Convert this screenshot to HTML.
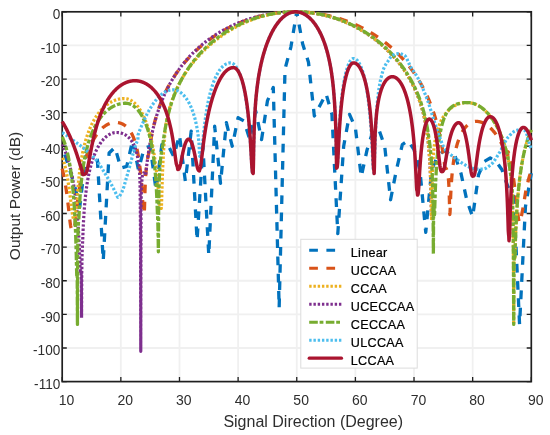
<!DOCTYPE html><html><head><meta charset="utf-8"><style>html,body{margin:0;padding:0;background:#fff;}svg{display:block;will-change:transform;}text{font-family:"Liberation Sans",sans-serif;fill:#2e2e2e;}</style></head><body>
<svg style="opacity:0.999" width="550" height="435" viewBox="0 0 550 435">
<rect x="0" y="0" width="550" height="435" fill="#fff"/>
<path d="M120.84,11.80V381.60M179.48,11.80V381.60M238.11,11.80V381.60M296.75,11.80V381.60M355.39,11.80V381.60M414.02,11.80V381.60M472.66,11.80V381.60M62.20,45.42H531.30M62.20,79.04H531.30M62.20,112.65H531.30M62.20,146.27H531.30M62.20,179.89H531.30M62.20,213.51H531.30M62.20,247.13H531.30M62.20,280.75H531.30M62.20,314.36H531.30M62.20,347.98H531.30" stroke="#f0f0f0" stroke-width="1.8" fill="none"/>
<path d="M62.20,381.60v-4.6M62.20,11.80v4.6M120.84,381.60v-4.6M120.84,11.80v4.6M179.48,381.60v-4.6M179.48,11.80v4.6M238.11,381.60v-4.6M238.11,11.80v4.6M296.75,381.60v-4.6M296.75,11.80v4.6M355.39,381.60v-4.6M355.39,11.80v4.6M414.02,381.60v-4.6M414.02,11.80v4.6M472.66,381.60v-4.6M472.66,11.80v4.6M531.30,381.60v-4.6M531.30,11.80v4.6M62.20,11.80h4.6M531.30,11.80h-4.6M62.20,45.42h4.6M531.30,45.42h-4.6M62.20,79.04h4.6M531.30,79.04h-4.6M62.20,112.65h4.6M531.30,112.65h-4.6M62.20,146.27h4.6M531.30,146.27h-4.6M62.20,179.89h4.6M531.30,179.89h-4.6M62.20,213.51h4.6M531.30,213.51h-4.6M62.20,247.13h4.6M531.30,247.13h-4.6M62.20,280.75h4.6M531.30,280.75h-4.6M62.20,314.36h4.6M531.30,314.36h-4.6M62.20,347.98h4.6M531.30,347.98h-4.6M62.20,381.60h4.6M531.30,381.60h-4.6" stroke="#1f1f1f" stroke-width="1.3" fill="none"/>
<rect x="62.20" y="11.80" width="469.10" height="369.80" stroke="#1f1f1f" stroke-width="1.7" fill="none"/>
<defs><clipPath id="pc"><rect x="62.20" y="8.80" width="469.10" height="372.80"/></clipPath></defs>
<g fill="none" stroke-linejoin="round">
<path d="M62.20,146.27 L68.06,164.76 L73.93,183.25 L79.79,206.79 L85.66,156.36 L91.52,153.00 L97.38,159.72 L103.25,260.57 L109.11,153.00 L114.97,147.28 L120.84,168.12 L126.70,166.44 L132.56,140.56 L138.43,169.81 L144.29,147.95 L150.16,146.27 L156.02,189.98 L161.88,144.59 L167.75,144.59 L173.61,156.36 L179.48,135.18 L185.34,181.24 L191.20,131.14 L197.07,240.40 L202.93,146.27 L208.79,255.20 L214.66,126.10 L220.52,183.25 L226.38,122.74 L232.25,146.27 L238.11,117.70 L243.98,121.06 L249.84,139.55 L255.70,110.97 L261.57,139.55 L267.43,100.89 L273.29,87.44 L279.16,307.64 L285.02,68.95 L290.89,47.10 L296.75,11.80 L302.61,43.74 L308.48,62.23 L314.34,116.02 L320.20,104.92 L326.07,93.83 L331.93,114.34 L337.80,233.68 L343.66,146.27 L349.52,114.34 L355.39,127.78 L361.25,176.87 L367.11,149.63 L372.98,131.14 L378.84,129.46 L384.71,146.27 L390.57,199.73 L396.43,169.81 L402.30,144.59 L408.16,140.56 L414.02,149.63 L419.89,169.81 L425.75,232.34 L431.62,169.81 L437.48,156.36 L443.34,151.32 L449.21,150.64 L455.07,156.02 L460.94,173.17 L466.80,200.06 L472.66,216.87 L478.53,174.85 L484.39,161.40 L490.25,158.04 L496.12,161.40 L501.98,169.81 L507.84,186.61 L513.71,196.70 L519.57,324.45 L525.44,206.79 L531.30,173.17" stroke="#0072BD" stroke-width="3.3" stroke-dasharray="8.7 8.5" stroke-dashoffset="8.68"/>
<path d="M62.20,168.54 L62.43,169.51 L62.67,170.51 L62.90,171.54 L63.14,172.60 L63.37,173.68 L63.61,174.80 L63.84,175.95 L64.08,177.14 L64.31,178.36 L64.55,179.62 L64.78,180.91 L65.01,182.25 L65.25,183.63 L65.48,185.05 L65.72,186.52 L65.95,188.03 L66.19,189.59 L66.42,191.21 L66.66,192.88 L66.89,194.60 L67.13,196.37 L67.36,198.21 L67.59,200.10 L67.83,202.04 L68.06,204.04 L68.30,206.09 L68.53,208.18 L68.77,210.31 L69.00,212.47 L69.24,214.62 L69.47,216.77 L69.71,218.86 L69.94,220.87 L70.17,222.76 L70.41,224.49 L70.64,226.01 L70.88,227.30 L71.11,228.34 L71.35,229.12 L71.58,229.68 L71.82,230.03 L72.05,230.03 L72.29,230.00 L72.52,230.09 L72.75,230.33 L72.99,229.68 L73.23,229.07 L73.46,228.77 L73.70,228.69 L73.93,228.72 L74.17,228.62 L74.40,227.62 L74.64,226.36 L74.87,224.86 L75.11,223.14 L75.34,221.25 L75.58,219.23 L75.81,217.13 L76.05,214.98 L76.28,212.82 L76.52,210.66 L76.75,208.53 L76.99,206.44 L77.22,204.39 L77.46,202.39 L77.69,200.44 L77.93,198.56 L78.16,196.72 L78.40,194.95 L78.63,193.23 L78.87,191.56 L79.10,189.94 L79.34,188.37 L79.58,186.85 L79.81,185.38 L80.05,183.95 L80.28,182.56 L80.52,181.21 L80.75,179.90 L80.99,178.62 L81.22,177.39 L81.46,176.18 L81.69,175.01 L81.93,173.86 L82.16,172.75 L82.40,171.66 L82.63,170.60 L82.87,169.57 L83.10,168.56 L83.34,167.58 L83.57,166.62 L83.81,165.68 L84.04,164.76 L84.28,163.87 L84.51,162.99 L84.75,162.13 L84.98,161.29 L85.22,160.47 L85.46,159.67 L85.69,158.88 L85.93,158.11 L86.16,157.36 L86.40,156.62 L86.63,155.89 L86.87,155.18 L87.10,154.48 L87.34,153.80 L87.57,153.13 L87.81,152.47 L88.04,151.83 L88.28,151.20 L88.51,150.57 L88.75,149.97 L88.98,149.37 L89.22,148.78 L89.45,148.20 L89.69,147.64 L89.92,147.08 L90.16,146.53 L90.39,146.00 L90.63,145.47 L90.86,144.95 L91.10,144.44 L91.34,143.94 L91.57,143.45 L91.81,142.97 L92.04,142.50 L92.28,142.03 L92.51,141.57 L92.75,141.12 L92.98,140.68 L93.22,140.24 L93.45,139.82 L93.69,139.40 L93.92,138.98 L94.16,138.58 L94.39,138.18 L94.63,137.79 L94.86,137.40 L95.10,137.02 L95.33,136.65 L95.57,136.28 L95.80,135.92 L96.04,135.57 L96.27,135.22 L96.51,134.88 L96.74,134.55 L96.98,134.22 L97.21,133.89 L97.45,133.57 L97.69,133.26 L97.92,132.95 L98.16,132.65 L98.39,132.36 L98.63,132.06 L98.86,131.78 L99.10,131.50 L99.33,131.22 L99.57,130.95 L99.80,130.69 L100.04,130.43 L100.27,130.17 L100.51,129.92 L100.74,129.67 L100.98,129.43 L101.21,129.20 L101.45,128.96 L101.68,128.74 L101.92,128.52 L102.15,128.30 L102.39,128.08 L102.62,127.87 L102.86,127.67 L103.09,127.47 L103.33,127.27 L103.57,127.08 L103.80,126.89 L104.04,126.71 L104.27,126.53 L104.51,126.36 L104.74,126.18 L104.98,126.02 L105.21,125.85 L105.45,125.70 L105.68,125.54 L105.92,125.39 L106.15,125.24 L106.39,125.10 L106.62,124.96 L106.86,124.83 L107.09,124.69 L107.33,124.57 L107.56,124.44 L107.80,124.32 L108.03,124.21 L108.27,124.10 L108.50,123.99 L108.74,123.88 L108.97,123.78 L109.21,123.68 L109.45,123.59 L109.68,123.50 L109.92,123.41 L110.15,123.33 L110.39,123.25 L110.62,123.17 L110.86,123.10 L111.09,123.03 L111.33,122.97 L111.56,122.91 L111.80,122.85 L112.03,122.80 L112.27,122.75 L112.50,122.70 L112.74,122.65 L112.97,122.61 L113.21,122.58 L113.44,122.54 L113.68,122.52 L113.91,122.49 L114.15,122.47 L114.38,122.45 L114.62,122.43 L114.85,122.42 L115.09,122.41 L115.32,122.41 L115.56,122.40 L115.80,122.41 L116.03,122.41 L116.27,122.42 L116.50,122.43 L116.74,122.45 L116.97,122.47 L117.21,122.49 L117.44,122.52 L117.68,122.55 L117.92,122.58 L118.15,122.62 L118.39,122.66 L118.62,122.70 L118.86,122.75 L119.09,122.80 L119.33,122.86 L119.56,122.92 L119.80,122.98 L120.03,123.05 L120.27,123.12 L120.51,123.20 L120.74,123.28 L120.98,123.36 L121.21,123.45 L121.45,123.54 L121.68,123.64 L121.92,123.74 L122.15,123.85 L122.39,123.96 L122.63,124.07 L122.86,124.19 L123.10,124.32 L123.33,124.45 L123.57,124.58 L123.80,124.72 L124.04,124.87 L124.27,125.02 L124.51,125.18 L124.75,125.34 L124.98,125.51 L125.22,125.68 L125.45,125.86 L125.69,126.05 L125.92,126.24 L126.16,126.44 L126.39,126.65 L126.63,126.86 L126.86,127.08 L127.10,127.31 L127.34,127.55 L127.57,127.79 L127.81,128.05 L128.04,128.31 L128.28,128.58 L128.51,128.86 L128.75,129.14 L128.98,129.44 L129.22,129.75 L129.46,130.07 L129.69,130.39 L129.93,130.73 L130.16,131.08 L130.40,131.45 L130.63,131.82 L130.87,132.21 L131.10,132.61 L131.34,133.02 L131.57,133.45 L131.81,133.89 L132.05,134.35 L132.28,134.83 L132.52,135.32 L132.75,135.83 L132.99,136.35 L133.22,136.90 L133.46,137.46 L133.69,138.05 L133.93,138.66 L134.17,139.29 L134.40,139.94 L134.64,140.62 L134.87,141.33 L135.11,142.06 L135.34,142.82 L135.58,143.62 L135.81,144.44 L136.05,145.31 L136.29,146.20 L136.52,147.14 L136.76,148.12 L136.99,149.14 L137.23,150.20 L137.46,151.32 L137.70,152.49 L137.93,153.72 L138.17,155.00 L138.40,156.36 L138.64,157.78 L138.88,159.28 L139.11,160.86 L139.35,162.53 L139.58,164.30 L139.82,166.18 L140.05,168.16 L140.29,170.28 L140.52,172.53 L140.76,174.93 L141.00,177.50 L141.23,180.24 L141.47,183.17 L141.70,186.30 L141.94,189.63 L142.17,193.14 L142.41,196.80 L142.64,200.53 L142.88,204.16 L143.11,207.48 L143.35,210.20 L143.59,210.09 L143.82,210.02 L144.06,211.04 L144.29,213.51 L144.53,207.35 L144.76,198.03 L145.00,190.40 L145.23,184.46 L145.47,179.72 L145.70,175.85 L145.94,172.60 L146.17,169.83 L146.41,167.44 L146.64,165.33 L146.88,163.46 L147.11,161.79 L147.35,160.29 L147.58,158.92 L147.81,157.67 L148.05,156.52 L148.28,155.46 L148.52,154.48 L148.75,153.56 L148.99,152.71 L149.22,151.36 L149.46,149.59 L149.69,147.89 L149.93,146.25 L150.16,144.68 L150.40,143.16 L150.63,141.69 L150.87,140.28 L151.10,138.91 L151.34,137.58 L151.57,136.29 L151.81,135.04 L152.04,133.83 L152.28,132.65 L152.51,131.50 L152.75,130.38 L152.98,129.29 L153.22,128.22 L153.45,127.18 L153.69,126.16 L153.92,125.17 L154.16,124.20 L154.39,123.25 L154.62,122.31 L154.86,121.40 L155.09,120.51 L155.33,119.63 L155.56,118.77 L155.80,117.93 L156.03,117.10 L156.27,116.28 L156.50,115.48 L156.74,114.70 L156.97,113.92 L157.21,113.16 L157.44,112.41 L157.68,111.68 L157.91,110.95 L158.15,110.24 L158.38,109.54 L158.62,108.84 L158.85,108.16 L159.09,107.49 L159.32,106.82 L159.56,106.17 L159.79,105.52 L160.03,104.89 L160.26,104.26 L160.50,103.64 L160.73,103.02 L160.96,102.42 L161.20,101.82 L161.43,101.23 L161.67,100.65 L161.90,100.07 L162.14,99.50 L162.37,98.94 L162.61,98.38 L162.84,97.83 L163.08,97.29 L163.31,96.75 L163.55,96.21 L163.78,95.69 L164.02,95.17 L164.25,94.65 L164.49,94.14 L164.72,93.63 L164.96,93.13 L165.19,92.64 L165.43,92.15 L165.66,91.66 L165.90,91.18 L166.13,90.70 L166.37,90.23 L166.60,89.76 L166.84,89.30 L167.07,88.84 L167.31,88.38 L167.54,87.93 L167.77,87.48 L168.01,87.04 L168.24,86.60 L168.48,86.16 L168.71,85.73 L168.95,85.30 L169.18,84.88 L169.42,84.45 L169.65,84.04 L169.89,83.62 L170.12,83.21 L170.36,82.80 L170.59,82.39 L170.83,81.99 L171.06,81.59 L171.30,81.20 L171.53,80.80 L171.77,80.41 L172.00,80.03 L172.24,79.64 L172.47,79.26 L172.71,78.88 L172.94,78.51 L173.18,78.13 L173.41,77.76 L173.65,77.39 L173.88,77.03 L174.12,76.67 L174.35,76.31 L174.58,75.95 L174.82,75.59 L175.05,75.24 L175.29,74.89 L175.52,74.54 L175.76,74.19 L175.99,73.85 L176.23,73.51 L176.46,73.17 L176.70,72.83 L176.93,72.50 L177.17,72.16 L177.40,71.83 L177.64,71.50 L177.87,71.18 L178.11,70.85 L178.34,70.53 L178.58,70.21 L178.81,69.89 L179.05,69.57 L179.28,69.26 L179.52,68.94 L179.75,68.63 L179.99,68.32 L180.22,68.02 L180.46,67.71 L180.69,67.41 L180.92,67.10 L181.16,66.80 L181.39,66.50 L181.63,66.21 L181.86,65.91 L182.10,65.62 L182.33,65.33 L182.57,65.04 L182.80,64.75 L183.04,64.46 L183.27,64.17 L183.51,63.89 L183.74,63.61 L183.98,63.33 L184.21,63.05 L184.45,62.77 L184.68,62.49 L184.92,62.22 L185.15,61.94 L185.39,61.67 L185.62,61.40 L185.86,61.13 L186.09,60.86 L186.33,60.60 L186.56,60.33 L186.80,60.07 L187.03,59.80 L187.27,59.54 L187.50,59.28 L187.73,59.02 L187.97,58.77 L188.20,58.51 L188.44,58.26 L188.67,58.00 L188.91,57.75 L189.14,57.50 L189.38,57.25 L189.61,57.00 L189.85,56.76 L190.08,56.51 L190.32,56.26 L190.55,56.02 L190.79,55.78 L191.02,55.54 L191.26,55.30 L191.49,55.06 L191.73,54.82 L191.96,54.58 L192.20,54.35 L192.43,54.11 L192.67,53.88 L192.90,53.65 L193.14,53.42 L193.37,53.19 L193.61,52.96 L193.84,52.73 L194.08,52.50 L194.31,52.28 L194.54,52.05 L194.78,51.83 L195.01,51.61 L195.25,51.39 L195.48,51.16 L195.72,50.94 L195.95,50.73 L196.19,50.51 L196.42,50.29 L196.66,50.08 L196.89,49.86 L197.13,49.65 L197.36,49.44 L197.60,49.22 L197.83,49.01 L198.07,48.80 L198.30,48.59 L198.54,48.39 L198.77,48.18 L199.01,47.97 L199.24,47.77 L199.48,47.56 L199.71,47.36 L199.95,47.16 L200.18,46.95 L200.42,46.75 L200.65,46.55 L200.88,46.35 L201.12,46.16 L201.35,45.96 L201.59,45.76 L201.82,45.57 L202.06,45.37 L202.29,45.18 L202.53,44.99 L202.76,44.79 L203.00,44.60 L203.23,44.41 L203.47,44.22 L203.70,44.03 L203.94,43.84 L204.17,43.66 L204.41,43.47 L204.64,43.28 L204.88,43.10 L205.11,42.92 L205.35,42.73 L205.58,42.55 L205.82,42.37 L206.05,42.19 L206.29,42.01 L206.52,41.83 L206.76,41.65 L206.99,41.47 L207.23,41.29 L207.46,41.12 L207.69,40.94 L207.93,40.77 L208.16,40.59 L208.40,40.42 L208.63,40.24 L208.87,40.07 L209.10,39.90 L209.34,39.73 L209.57,39.56 L209.81,39.39 L210.04,39.22 L210.28,39.05 L210.51,38.89 L210.75,38.72 L210.98,38.56 L211.22,38.39 L211.45,38.23 L211.69,38.06 L211.92,37.90 L212.16,37.74 L212.39,37.58 L212.63,37.42 L212.86,37.25 L213.10,37.10 L213.33,36.94 L213.57,36.78 L213.80,36.62 L214.04,36.46 L214.27,36.31 L214.50,36.15 L214.74,36.00 L214.97,35.84 L215.21,35.69 L215.44,35.54 L215.68,35.38 L215.91,35.23 L216.15,35.08 L216.38,34.93 L216.62,34.78 L216.85,34.63 L217.09,34.48 L217.32,34.33 L217.56,34.19 L217.79,34.04 L218.03,33.89 L218.26,33.75 L218.50,33.60 L218.73,33.46 L218.97,33.32 L219.20,33.17 L219.44,33.03 L219.67,32.89 L219.91,32.75 L220.14,32.61 L220.38,32.47 L220.61,32.33 L220.84,32.19 L221.08,32.05 L221.31,31.91 L221.55,31.78 L221.78,31.64 L222.02,31.50 L222.25,31.37 L222.49,31.23 L222.72,31.10 L222.96,30.97 L223.19,30.83 L223.43,30.70 L223.66,30.57 L223.90,30.44 L224.13,30.31 L224.37,30.18 L224.60,30.05 L224.84,29.92 L225.07,29.79 L225.31,29.66 L225.54,29.53 L225.78,29.41 L226.01,29.28 L226.25,29.15 L226.48,29.03 L226.72,28.90 L226.95,28.78 L227.19,28.66 L227.42,28.53 L227.65,28.41 L227.89,28.29 L228.12,28.17 L228.36,28.05 L228.59,27.93 L228.83,27.81 L229.06,27.69 L229.30,27.57 L229.53,27.45 L229.77,27.33 L230.00,27.21 L230.24,27.10 L230.47,26.98 L230.71,26.87 L230.94,26.75 L231.18,26.64 L231.41,26.52 L231.65,26.41 L231.88,26.29 L232.12,26.18 L232.35,26.07 L232.59,25.96 L232.82,25.85 L233.06,25.74 L233.29,25.63 L233.53,25.52 L233.76,25.41 L234.00,25.30 L234.23,25.19 L234.46,25.08 L234.70,24.98 L234.93,24.87 L235.17,24.76 L235.40,24.66 L235.64,24.55 L235.87,24.45 L236.11,24.34 L236.34,24.24 L236.58,24.14 L236.81,24.04 L237.05,23.93 L237.28,23.83 L237.52,23.73 L237.75,23.63 L237.99,23.53 L238.22,23.43 L238.46,23.33 L238.69,23.23 L238.93,23.13 L239.16,23.04 L239.40,22.94 L239.63,22.84 L239.87,22.74 L240.10,22.65 L240.34,22.55 L240.57,22.46 L240.80,22.36 L241.04,22.27 L241.27,22.18 L241.51,22.08 L241.74,21.99 L241.98,21.90 L242.21,21.81 L242.45,21.71 L242.68,21.62 L242.92,21.53 L243.15,21.44 L243.39,21.35 L243.62,21.27 L243.86,21.18 L244.09,21.09 L244.33,21.00 L244.56,20.91 L244.80,20.83 L245.03,20.74 L245.27,20.65 L245.50,20.57 L245.74,20.48 L245.97,20.40 L246.21,20.32 L246.44,20.23 L246.68,20.15 L246.91,20.07 L247.15,19.98 L247.38,19.90 L247.61,19.82 L247.85,19.74 L248.08,19.66 L248.32,19.58 L248.55,19.50 L248.79,19.42 L249.02,19.34 L249.26,19.26 L249.49,19.19 L249.73,19.11 L249.96,19.03 L250.20,18.96 L250.43,18.88 L250.67,18.80 L250.90,18.73 L251.14,18.65 L251.37,18.58 L251.61,18.51 L251.84,18.43 L252.08,18.36 L252.31,18.29 L252.55,18.21 L252.78,18.14 L253.02,18.07 L253.25,18.00 L253.49,17.93 L253.72,17.86 L253.96,17.79 L254.19,17.72 L254.42,17.65 L254.66,17.58 L254.89,17.52 L255.13,17.45 L255.36,17.38 L255.60,17.32 L255.83,17.25 L256.07,17.18 L256.30,17.12 L256.54,17.05 L256.77,16.99 L257.01,16.92 L257.24,16.86 L257.48,16.80 L257.71,16.73 L257.95,16.67 L258.18,16.61 L258.42,16.55 L258.65,16.49 L258.89,16.43 L259.12,16.37 L259.36,16.31 L259.59,16.25 L259.83,16.19 L260.06,16.13 L260.30,16.07 L260.53,16.01 L260.76,15.96 L261.00,15.90 L261.23,15.84 L261.47,15.79 L261.70,15.73 L261.94,15.67 L262.17,15.62 L262.41,15.56 L262.64,15.51 L262.88,15.46 L263.11,15.40 L263.35,15.35 L263.58,15.30 L263.82,15.25 L264.05,15.19 L264.29,15.14 L264.52,15.09 L264.76,15.04 L264.99,14.99 L265.23,14.94 L265.46,14.89 L265.70,14.84 L265.93,14.79 L266.17,14.75 L266.40,14.70 L266.64,14.65 L266.87,14.60 L267.11,14.56 L267.34,14.51 L267.57,14.47 L267.81,14.42 L268.04,14.37 L268.28,14.33 L268.51,14.29 L268.75,14.24 L268.98,14.20 L269.22,14.16 L269.45,14.11 L269.69,14.07 L269.92,14.03 L270.16,13.99 L270.39,13.95 L270.63,13.91 L270.86,13.87 L271.10,13.83 L271.33,13.79 L271.57,13.75 L271.80,13.71 L272.04,13.67 L272.27,13.63 L272.51,13.60 L272.74,13.56 L272.98,13.52 L273.21,13.49 L273.45,13.45 L273.68,13.41 L273.92,13.38 L274.15,13.35 L274.38,13.31 L274.62,13.28 L274.85,13.24 L275.09,13.21 L275.32,13.18 L275.56,13.15 L275.79,13.11 L276.03,13.08 L276.26,13.05 L276.50,13.02 L276.73,12.99 L276.97,12.96 L277.20,12.93 L277.44,12.90 L277.67,12.87 L277.91,12.84 L278.14,12.81 L278.38,12.79 L278.61,12.76 L278.85,12.73 L279.08,12.71 L279.32,12.68 L279.55,12.65 L279.79,12.63 L280.02,12.60 L280.26,12.58 L280.49,12.56 L280.73,12.53 L280.96,12.51 L281.19,12.48 L281.43,12.46 L281.66,12.44 L281.90,12.42 L282.13,12.40 L282.37,12.38 L282.60,12.35 L282.84,12.33 L283.07,12.31 L283.31,12.29 L283.54,12.28 L283.78,12.26 L284.01,12.24 L284.25,12.22 L284.48,12.20 L284.72,12.18 L284.95,12.17 L285.19,12.15 L285.42,12.14 L285.66,12.12 L285.89,12.10 L286.13,12.09 L286.36,12.07 L286.60,12.06 L286.83,12.05 L287.07,12.03 L287.30,12.02 L287.53,12.01 L287.77,11.99 L288.00,11.98 L288.24,11.97 L288.47,11.96 L288.71,11.95 L288.94,11.94 L289.18,11.93 L289.41,11.92 L289.65,11.91 L289.88,11.90 L290.12,11.89 L290.35,11.88 L290.59,11.88 L290.82,11.87 L291.06,11.86 L291.29,11.85 L291.53,11.85 L291.76,11.84 L292.00,11.84 L292.23,11.83 L292.47,11.83 L292.70,11.82 L292.94,11.82 L293.17,11.82 L293.41,11.81 L293.64,11.81 L293.88,11.81 L294.11,11.80 L294.34,11.80 L294.58,11.80 L294.81,11.80 L295.05,11.80 L295.28,11.80 L295.52,11.80 L295.75,11.80 L295.99,11.80 L296.22,11.80 L296.46,11.80 L296.69,11.81 L296.93,11.81 L297.16,11.81 L297.40,11.82 L297.63,11.82 L297.87,11.82 L298.10,11.83 L298.34,11.83 L298.57,11.84 L298.81,11.84 L299.04,11.85 L299.28,11.85 L299.51,11.86 L299.75,11.87 L299.98,11.87 L300.22,11.88 L300.45,11.89 L300.68,11.90 L300.92,11.91 L301.15,11.92 L301.39,11.93 L301.62,11.94 L301.86,11.95 L302.09,11.96 L302.33,11.97 L302.56,11.98 L302.80,11.99 L303.03,12.00 L303.27,12.02 L303.50,12.03 L303.74,12.04 L303.97,12.06 L304.21,12.07 L304.44,12.08 L304.68,12.10 L304.91,12.11 L305.15,12.13 L305.38,12.15 L305.62,12.16 L305.85,12.18 L306.09,12.20 L306.32,12.21 L306.56,12.23 L306.79,12.25 L307.02,12.27 L307.26,12.29 L307.49,12.31 L307.73,12.33 L307.96,12.35 L308.20,12.37 L308.43,12.39 L308.67,12.41 L308.90,12.43 L309.14,12.45 L309.37,12.47 L309.61,12.50 L309.84,12.52 L310.08,12.54 L310.31,12.57 L310.55,12.59 L310.78,12.62 L311.02,12.64 L311.25,12.67 L311.49,12.69 L311.72,12.72 L311.96,12.74 L312.19,12.77 L312.43,12.80 L312.66,12.83 L312.90,12.85 L313.13,12.88 L313.36,12.91 L313.60,12.94 L313.83,12.97 L314.07,13.00 L314.30,13.03 L314.54,13.06 L314.77,13.09 L315.01,13.12 L315.24,13.15 L315.48,13.19 L315.71,13.22 L315.95,13.25 L316.18,13.29 L316.42,13.32 L316.65,13.35 L316.89,13.39 L317.12,13.42 L317.36,13.46 L317.59,13.49 L317.83,13.53 L318.06,13.57 L318.30,13.60 L318.53,13.64 L318.77,13.68 L319.00,13.72 L319.24,13.75 L319.47,13.79 L319.71,13.83 L319.94,13.87 L320.17,13.91 L320.41,13.95 L320.64,13.99 L320.88,14.03 L321.11,14.08 L321.35,14.12 L321.58,14.16 L321.82,14.20 L322.05,14.25 L322.29,14.29 L322.52,14.33 L322.76,14.38 L322.99,14.42 L323.23,14.47 L323.46,14.51 L323.70,14.56 L323.93,14.60 L324.17,14.65 L324.40,14.70 L324.64,14.75 L324.87,14.79 L325.11,14.84 L325.34,14.89 L325.58,14.94 L325.81,14.99 L326.05,15.04 L326.28,15.09 L326.51,15.14 L326.75,15.19 L326.98,15.24 L327.22,15.29 L327.45,15.35 L327.69,15.40 L327.92,15.45 L328.16,15.50 L328.39,15.56 L328.63,15.61 L328.86,15.67 L329.10,15.72 L329.33,15.78 L329.57,15.83 L329.80,15.89 L330.04,15.95 L330.27,16.00 L330.51,16.06 L330.74,16.12 L330.98,16.18 L331.21,16.24 L331.45,16.29 L331.68,16.35 L331.92,16.41 L332.15,16.47 L332.39,16.53 L332.62,16.60 L332.85,16.66 L333.09,16.72 L333.32,16.78 L333.56,16.84 L333.79,16.91 L334.03,16.97 L334.26,17.04 L334.50,17.10 L334.73,17.17 L334.97,17.23 L335.20,17.30 L335.44,17.36 L335.67,17.43 L335.91,17.50 L336.14,17.56 L336.38,17.63 L336.61,17.70 L336.85,17.77 L337.08,17.84 L337.32,17.91 L337.55,17.98 L337.79,18.05 L338.02,18.12 L338.26,18.19 L338.49,18.26 L338.73,18.33 L338.96,18.41 L339.19,18.48 L339.43,18.55 L339.66,18.63 L339.90,18.70 L340.13,18.77 L340.37,18.85 L340.60,18.92 L340.84,19.00 L341.07,19.08 L341.31,19.15 L341.54,19.23 L341.78,19.31 L342.01,19.39 L342.25,19.47 L342.48,19.54 L342.72,19.62 L342.95,19.70 L343.19,19.78 L343.42,19.87 L343.66,19.95 L343.89,20.03 L344.13,20.11 L344.36,20.19 L344.60,20.28 L344.83,20.36 L345.07,20.44 L345.30,20.53 L345.53,20.61 L345.77,20.70 L346.00,20.78 L346.24,20.87 L346.47,20.96 L346.71,21.04 L346.94,21.13 L347.18,21.22 L347.41,21.31 L347.65,21.40 L347.88,21.49 L348.12,21.58 L348.35,21.67 L348.59,21.76 L348.82,21.85 L349.06,21.94 L349.29,22.03 L349.53,22.12 L349.76,22.22 L350.00,22.31 L350.23,22.41 L350.47,22.50 L350.70,22.59 L350.94,22.69 L351.17,22.79 L351.41,22.88 L351.64,22.98 L351.88,23.08 L352.11,23.17 L352.34,23.27 L352.58,23.37 L352.81,23.47 L353.05,23.57 L353.28,23.67 L353.52,23.77 L353.75,23.87 L353.99,23.97 L354.22,24.08 L354.46,24.18 L354.69,24.28 L354.93,24.39 L355.16,24.49 L355.40,24.59 L355.63,24.70 L355.87,24.81 L356.10,24.91 L356.34,25.02 L356.57,25.13 L356.81,25.23 L357.04,25.34 L357.28,25.45 L357.51,25.56 L357.75,25.67 L357.98,25.78 L358.22,25.89 L358.45,26.00 L358.68,26.11 L358.92,26.22 L359.15,26.34 L359.39,26.45 L359.62,26.56 L359.86,26.68 L360.09,26.79 L360.33,26.91 L360.56,27.02 L360.80,27.14 L361.03,27.26 L361.27,27.38 L361.50,27.49 L361.74,27.61 L361.97,27.73 L362.21,27.85 L362.44,27.97 L362.68,28.09 L362.91,28.21 L363.15,28.33 L363.38,28.46 L363.62,28.58 L363.85,28.70 L364.09,28.83 L364.32,28.95 L364.56,29.08 L364.79,29.20 L365.02,29.33 L365.26,29.45 L365.49,29.58 L365.73,29.71 L365.96,29.84 L366.20,29.97 L366.43,30.10 L366.67,30.23 L366.90,30.36 L367.14,30.49 L367.37,30.62 L367.61,30.75 L367.84,30.88 L368.08,31.02 L368.31,31.15 L368.55,31.29 L368.78,31.42 L369.02,31.56 L369.25,31.69 L369.49,31.83 L369.72,31.97 L369.96,32.11 L370.19,32.25 L370.43,32.39 L370.66,32.53 L370.90,32.67 L371.13,32.81 L371.36,32.95 L371.60,33.09 L371.83,33.23 L372.07,33.38 L372.30,33.52 L372.54,33.67 L372.77,33.81 L373.01,33.96 L373.24,34.11 L373.48,34.25 L373.71,34.40 L373.95,34.55 L374.18,34.70 L374.42,34.85 L374.65,35.00 L374.89,35.15 L375.12,35.30 L375.36,35.46 L375.59,35.61 L375.83,35.76 L376.06,35.92 L376.30,36.07 L376.53,36.23 L376.77,36.38 L377.00,36.54 L377.24,36.70 L377.47,36.86 L377.70,37.02 L377.94,37.18 L378.17,37.34 L378.41,37.50 L378.64,37.66 L378.88,37.82 L379.11,37.99 L379.35,38.15 L379.58,38.32 L379.82,38.48 L380.05,38.65 L380.29,38.81 L380.52,38.98 L380.76,39.15 L380.99,39.32 L381.23,39.49 L381.46,39.66 L381.70,39.83 L381.93,40.00 L382.17,40.18 L382.40,40.35 L382.64,40.52 L382.87,40.70 L383.11,40.87 L383.34,41.05 L383.58,41.23 L383.81,41.40 L384.05,41.58 L384.28,41.76 L384.51,41.94 L384.75,42.12 L384.98,42.31 L385.22,42.49 L385.45,42.67 L385.69,42.86 L385.92,43.04 L386.16,43.23 L386.39,43.41 L386.63,43.60 L386.86,43.79 L387.10,43.98 L387.33,44.17 L387.57,44.36 L387.80,44.55 L388.04,44.74 L388.27,44.94 L388.51,45.13 L388.74,45.33 L388.98,45.52 L389.21,45.72 L389.45,45.92 L389.68,46.11 L389.92,46.31 L390.15,46.51 L390.39,46.72 L390.62,46.92 L390.85,47.12 L391.09,47.32 L391.32,47.53 L391.56,47.73 L391.79,47.94 L392.03,48.15 L392.26,48.36 L392.50,48.57 L392.73,48.78 L392.97,48.99 L393.20,49.20 L393.44,49.41 L393.67,49.63 L393.91,49.84 L394.14,50.06 L394.38,50.28 L394.61,50.49 L394.85,50.71 L395.08,50.93 L395.32,51.16 L395.55,51.38 L395.79,51.60 L396.02,51.83 L396.26,52.05 L396.49,52.28 L396.73,52.50 L396.96,52.73 L397.19,52.96 L397.43,53.19 L397.66,53.43 L397.90,53.66 L398.13,53.89 L398.37,54.13 L398.60,54.36 L398.84,54.60 L399.07,54.84 L399.31,55.08 L399.54,55.32 L399.78,55.56 L400.01,55.80 L400.25,56.05 L400.48,56.29 L400.72,56.54 L400.95,56.79 L401.19,57.04 L401.42,57.29 L401.66,57.54 L401.89,57.79 L402.13,58.05 L402.36,58.30 L402.60,58.56 L402.83,58.82 L403.07,59.08 L403.30,59.34 L403.53,59.60 L403.77,59.86 L404.00,60.13 L404.24,60.39 L404.47,60.66 L404.71,60.93 L404.94,61.20 L405.18,61.47 L405.41,61.75 L405.65,62.02 L405.88,62.30 L406.12,62.57 L406.35,62.85 L406.59,63.13 L406.82,63.41 L407.06,63.70 L407.29,63.98 L407.53,64.27 L407.76,64.56 L408.00,64.85 L408.23,65.14 L408.47,65.43 L408.70,65.72 L408.94,66.02 L409.17,66.32 L409.41,66.62 L409.64,66.92 L409.87,67.22 L410.11,67.53 L410.34,67.83 L410.58,68.14 L410.81,68.45 L411.05,68.76 L411.28,69.07 L411.52,69.39 L411.75,69.71 L411.99,70.03 L412.22,70.35 L412.46,70.67 L412.69,70.99 L412.93,71.32 L413.16,71.65 L413.40,71.98 L413.63,72.31 L413.87,72.65 L414.10,72.98 L414.34,73.32 L414.57,73.66 L414.81,74.01 L415.04,74.35 L415.28,74.70 L415.51,75.05 L415.75,75.40 L415.98,75.76 L416.21,76.11 L416.45,76.47 L416.68,76.83 L416.92,77.20 L417.15,77.57 L417.39,77.93 L417.62,78.31 L417.86,78.68 L418.09,79.06 L418.33,79.43 L418.56,79.82 L418.80,80.20 L419.03,80.59 L419.27,80.98 L419.50,81.37 L419.74,81.77 L419.97,82.16 L420.21,82.57 L420.44,82.97 L420.68,83.38 L420.91,83.79 L421.15,84.20 L421.38,84.62 L421.62,85.04 L421.85,85.46 L422.09,85.89 L422.32,86.32 L422.56,86.75 L422.79,87.19 L423.02,87.63 L423.26,88.07 L423.49,88.52 L423.73,88.97 L423.96,89.42 L424.20,89.88 L424.43,90.34 L424.67,90.81 L424.90,91.28 L425.14,91.75 L425.37,92.23 L425.61,92.72 L425.84,93.20 L426.08,93.69 L426.31,94.19 L426.55,94.69 L426.78,95.20 L427.02,95.71 L427.25,96.22 L427.49,96.74 L427.72,97.27 L427.96,97.80 L428.19,98.33 L428.43,98.87 L428.66,99.42 L428.90,99.97 L429.13,100.53 L429.36,101.09 L429.60,101.66 L429.83,102.24 L430.07,102.82 L430.30,103.41 L430.54,104.00 L430.77,104.60 L431.01,105.21 L431.24,105.83 L431.48,106.45 L431.71,107.08 L431.95,107.72 L432.18,108.36 L432.42,109.02 L432.65,109.68 L432.89,110.35 L433.12,111.03 L433.36,111.71 L433.59,112.41 L433.83,113.12 L434.06,113.83 L434.30,114.56 L434.53,115.29 L434.77,116.04 L435.00,116.80 L435.24,117.56 L435.47,118.34 L435.70,119.14 L435.94,119.94 L436.17,120.76 L436.41,121.59 L436.64,122.43 L436.88,123.29 L437.11,124.16 L437.35,125.05 L437.58,125.95 L437.82,126.87 L438.05,127.80 L438.29,128.76 L438.52,129.73 L438.76,130.72 L438.99,131.73 L439.23,132.76 L439.46,133.81 L439.70,134.89 L439.93,135.98 L440.17,137.11 L440.40,138.26 L440.64,139.43 L440.87,140.64 L441.11,141.87 L441.34,143.13 L441.58,144.43 L441.81,145.76 L442.04,147.13 L442.28,148.54 L442.51,149.99 L442.75,151.48 L442.98,153.02 L443.22,154.60 L443.45,156.24 L443.69,157.94 L443.92,159.69 L444.16,161.51 L444.39,163.40 L444.63,165.35 L444.86,167.39 L445.10,167.58 L445.33,167.71 L445.57,167.88 L445.80,168.10 L446.04,168.38 L446.27,168.73 L446.51,169.16 L446.74,169.68 L446.98,170.32 L447.21,171.09 L447.45,172.03 L447.68,173.17 L447.92,174.58 L448.15,176.32 L448.38,178.51 L448.62,181.30 L448.85,184.95 L449.09,189.87 L449.32,196.77 L449.56,206.46 L449.79,214.54 L450.03,212.63 L450.27,207.33 L450.50,200.61 L450.74,194.54 L450.97,189.86 L451.21,185.76 L451.44,182.14 L451.68,178.91 L451.91,176.01 L452.15,173.38 L452.39,170.98 L452.62,168.77 L452.86,166.73 L453.09,164.83 L453.33,163.06 L453.56,161.40 L453.80,159.84 L454.03,158.37 L454.27,156.98 L454.51,155.66 L454.74,154.41 L454.98,153.22 L455.21,152.08 L455.45,150.99 L455.68,149.95 L455.92,148.95 L456.15,148.00 L456.39,147.08 L456.63,146.20 L456.86,145.35 L457.10,144.53 L457.33,143.74 L457.57,142.97 L457.80,142.24 L458.04,141.52 L458.28,140.84 L458.51,140.17 L458.75,139.52 L458.98,138.90 L459.22,138.29 L459.45,137.71 L459.69,137.14 L459.92,136.58 L460.16,136.05 L460.40,135.53 L460.63,135.02 L460.87,134.53 L461.10,134.05 L461.34,133.59 L461.57,133.14 L461.81,132.70 L462.04,132.27 L462.28,131.86 L462.52,131.46 L462.75,131.06 L462.99,130.68 L463.22,130.31 L463.46,129.95 L463.69,129.60 L463.93,129.26 L464.17,128.93 L464.40,128.61 L464.64,128.30 L464.87,127.99 L465.11,127.70 L465.34,127.41 L465.58,127.13 L465.81,126.86 L466.05,126.60 L466.29,126.34 L466.52,126.10 L466.76,125.86 L466.99,125.62 L467.23,125.40 L467.46,125.18 L467.70,124.97 L467.93,124.76 L468.17,124.57 L468.41,124.38 L468.64,124.19 L468.88,124.01 L469.11,123.84 L469.35,123.68 L469.58,123.52 L469.82,123.37 L470.06,123.22 L470.29,123.08 L470.53,122.94 L470.76,122.82 L471.00,122.69 L471.23,122.58 L471.47,122.46 L471.70,122.36 L471.94,122.26 L472.18,122.16 L472.41,122.08 L472.65,121.99 L472.88,121.92 L473.12,121.84 L473.35,121.78 L473.59,121.72 L473.82,121.66 L474.06,121.61 L474.30,121.56 L474.53,121.52 L474.77,121.49 L475.00,121.46 L475.24,121.44 L475.47,121.42 L475.71,121.41 L475.95,121.40 L476.18,121.40 L476.42,121.40 L476.65,121.40 L476.89,121.41 L477.12,121.42 L477.36,121.44 L477.59,121.46 L477.83,121.48 L478.06,121.51 L478.30,121.54 L478.53,121.57 L478.77,121.61 L479.00,121.65 L479.24,121.69 L479.47,121.74 L479.71,121.79 L479.94,121.85 L480.18,121.90 L480.41,121.97 L480.65,122.03 L480.89,122.10 L481.12,122.17 L481.36,122.25 L481.59,122.33 L481.83,122.41 L482.06,122.50 L482.30,122.59 L482.53,122.68 L482.77,122.78 L483.00,122.88 L483.24,122.98 L483.47,123.09 L483.71,123.21 L483.94,123.32 L484.18,123.44 L484.41,123.56 L484.65,123.69 L484.88,123.82 L485.12,123.95 L485.35,124.09 L485.59,124.23 L485.82,124.38 L486.06,124.53 L486.29,124.68 L486.53,124.83 L486.77,124.99 L487.00,125.16 L487.24,125.33 L487.47,125.50 L487.71,125.67 L487.94,125.85 L488.18,126.03 L488.41,126.22 L488.65,126.41 L488.88,126.61 L489.12,126.80 L489.35,127.01 L489.59,127.21 L489.82,127.42 L490.06,127.64 L490.29,127.85 L490.53,128.08 L490.76,128.30 L491.00,128.53 L491.23,128.77 L491.47,129.00 L491.70,129.25 L491.94,129.49 L492.18,129.74 L492.41,130.00 L492.65,130.26 L492.88,130.52 L493.12,130.79 L493.35,131.06 L493.59,131.34 L493.82,131.62 L494.06,131.90 L494.29,132.19 L494.53,132.49 L494.76,132.78 L495.00,133.09 L495.23,133.39 L495.47,133.71 L495.70,134.02 L495.94,134.34 L496.17,134.67 L496.41,135.00 L496.64,135.34 L496.88,135.68 L497.11,136.02 L497.35,136.37 L497.59,136.73 L497.82,137.09 L498.06,137.45 L498.29,137.82 L498.53,138.20 L498.76,138.58 L499.00,138.97 L499.23,139.36 L499.47,139.76 L499.70,140.16 L499.94,140.57 L500.17,140.98 L500.41,141.40 L500.64,141.83 L500.88,142.26 L501.11,142.70 L501.35,143.14 L501.58,143.59 L501.82,144.05 L502.05,144.51 L502.29,144.98 L502.52,145.46 L502.76,145.94 L502.99,146.43 L503.23,146.93 L503.47,147.44 L503.70,147.95 L503.94,148.47 L504.17,149.00 L504.41,149.53 L504.64,150.07 L504.88,150.63 L505.11,151.19 L505.35,151.75 L505.58,152.33 L505.82,152.92 L506.05,153.51 L506.29,154.12 L506.52,154.74 L506.76,155.36 L506.99,156.00 L507.23,156.65 L507.46,157.30 L507.70,157.97 L507.84,151.65 L508.08,151.93 L508.32,152.28 L508.55,152.68 L508.79,153.15 L509.02,153.68 L509.26,154.30 L509.49,155.02 L509.73,155.85 L509.97,156.77 L510.20,157.79 L510.44,158.88 L510.67,160.06 L510.91,161.32 L511.14,162.64 L511.38,164.02 L511.62,165.46 L511.85,166.96 L512.09,168.50 L512.32,170.08 L512.56,171.69 L512.79,173.34 L513.03,175.00 L513.26,176.69 L513.50,178.39 L513.74,180.10 L513.97,181.81 L514.21,183.51 L514.44,185.21 L514.68,186.89 L514.91,188.55 L515.15,190.18 L515.39,191.78 L515.62,193.40 L515.86,195.22 L516.09,197.21 L516.33,199.34 L516.56,201.57 L516.80,203.87 L517.04,206.19 L517.27,208.49 L517.51,210.75 L517.74,212.92 L517.98,214.96 L518.21,216.84 L518.45,218.51 L518.68,219.95 L518.92,221.12 L519.16,221.97 L519.39,222.47 L519.63,222.58 L519.86,222.38 L520.10,221.93 L520.33,221.26 L520.57,220.41 L520.81,219.40 L521.04,218.27 L521.28,217.05 L521.51,215.78 L521.75,214.47 L521.98,213.17 L522.22,211.91 L522.46,210.72 L522.69,209.57 L522.93,208.33 L523.16,207.03 L523.40,205.67 L523.63,204.26 L523.87,202.82 L524.10,201.36 L524.34,199.89 L524.58,198.43 L524.81,196.99 L525.05,195.57 L525.28,194.20 L525.52,192.88 L525.75,191.64 L525.99,190.47 L526.23,189.37 L526.46,188.29 L526.70,187.23 L526.93,186.19 L527.17,185.17 L527.40,184.17 L527.64,183.19 L527.87,182.23 L528.11,181.29 L528.35,180.36 L528.58,179.45 L528.82,178.55 L529.05,177.67 L529.29,176.81 L529.52,175.95 L529.76,175.11 L530.00,174.28 L530.23,173.46 L530.47,172.66 L530.70,171.86 L530.94,171.08 L531.17,170.31 L531.30,169.91" stroke="#D95319" stroke-width="3.3" stroke-dasharray="8.7 8.5"/>
<path d="M62.20,144.48 L62.32,144.72 L62.55,145.21 L62.79,145.71 L63.02,146.22 L63.26,146.73 L63.49,147.26 L63.72,147.80 L63.96,148.35 L64.19,148.90 L64.43,149.47 L64.66,150.05 L64.90,150.64 L65.13,151.24 L65.37,151.86 L65.60,152.48 L65.84,153.12 L66.07,153.77 L66.30,154.43 L66.54,155.11 L66.77,155.80 L67.01,156.50 L67.24,157.22 L67.48,157.95 L67.71,158.70 L67.95,159.47 L68.18,160.25 L68.42,161.04 L68.65,161.86 L68.88,162.69 L69.12,163.54 L69.35,164.41 L69.59,165.30 L69.82,166.21 L70.06,167.14 L70.29,168.10 L70.53,169.08 L70.76,170.08 L71.00,171.10 L71.23,172.15 L71.46,173.23 L71.70,174.34 L71.93,175.48 L72.17,176.65 L72.40,177.85 L72.64,179.08 L72.87,180.35 L73.11,181.66 L73.34,183.01 L73.58,184.40 L73.81,185.83 L74.04,187.31 L74.28,188.84 L74.51,190.43 L74.75,192.07 L74.98,193.77 L75.22,195.53 L75.45,197.37 L75.69,199.28 L75.92,201.27 L76.16,203.35 L76.39,205.52 L76.62,207.80 L76.86,210.19 L77.09,212.71 L77.33,215.37 L77.56,218.18 L77.80,221.16 L78.03,224.33 L78.27,227.73 L78.50,231.38 L78.74,235.33 L78.97,239.61 L79.20,244.30 L79.44,249.48 L79.67,255.25 L79.91,261.75 L80.14,269.18 L80.38,273.24 L80.61,271.60 L80.85,270.83 L81.08,272.14 L81.32,279.47 L81.55,317.73 L81.78,271.94 L82.02,256.97 L82.25,249.28 L82.49,244.45 L82.72,240.10 L82.96,233.48 L83.19,227.87 L83.43,223.02 L83.66,218.73 L83.90,214.91 L84.13,211.44 L84.36,208.28 L84.60,205.38 L84.83,202.70 L85.07,200.20 L85.30,197.86 L85.54,195.67 L85.77,193.61 L86.01,191.66 L86.24,189.82 L86.48,188.06 L86.71,186.39 L86.95,184.80 L87.18,183.28 L87.41,181.82 L87.65,180.43 L87.88,179.08 L88.12,177.79 L88.35,176.55 L88.59,175.35 L88.82,174.20 L89.06,173.08 L89.29,172.00 L89.53,170.96 L89.76,169.95 L89.99,168.96 L90.23,168.01 L90.46,167.09 L90.70,166.20 L90.93,165.32 L91.17,164.48 L91.40,163.65 L91.64,162.85 L91.87,162.07 L92.11,161.31 L92.34,160.57 L92.57,159.85 L92.81,159.15 L93.04,158.46 L93.28,157.79 L93.51,157.14 L93.75,156.50 L93.98,155.87 L94.22,155.26 L94.45,154.67 L94.69,154.09 L94.92,153.52 L95.15,152.96 L95.39,152.42 L95.62,151.89 L95.86,151.36 L96.09,150.86 L96.33,150.36 L96.56,149.87 L96.80,149.39 L97.03,148.93 L97.27,148.47 L97.50,148.02 L97.73,147.58 L97.97,147.15 L98.20,146.73 L98.44,146.32 L98.67,145.92 L98.91,145.53 L99.14,145.14 L99.38,144.76 L99.61,144.39 L99.85,144.03 L100.08,143.67 L100.31,143.32 L100.55,142.98 L100.78,142.65 L101.02,142.32 L101.25,142.00 L101.49,141.69 L101.72,141.39 L101.96,141.09 L102.19,140.79 L102.43,140.51 L102.66,140.22 L102.89,139.95 L103.13,139.68 L103.36,139.42 L103.60,139.16 L103.83,138.91 L104.07,138.67 L104.30,138.43 L104.54,138.19 L104.77,137.96 L105.01,137.74 L105.24,137.52 L105.47,137.31 L105.71,137.10 L105.94,136.90 L106.18,136.70 L106.41,136.51 L106.65,136.32 L106.88,136.14 L107.12,135.96 L107.35,135.79 L107.59,135.62 L107.82,135.46 L108.05,135.30 L108.29,135.15 L108.52,135.00 L108.76,134.85 L108.99,134.71 L109.23,134.58 L109.46,134.45 L109.70,134.32 L109.93,134.20 L110.17,134.08 L110.40,133.97 L110.63,133.86 L110.87,133.75 L111.10,133.65 L111.34,133.56 L111.57,133.47 L111.81,133.38 L112.04,133.30 L112.28,133.22 L112.51,133.14 L112.75,133.07 L112.98,133.00 L113.21,132.94 L113.45,132.88 L113.68,132.83 L113.92,132.78 L114.15,132.73 L114.39,132.69 L114.62,132.65 L114.86,132.62 L115.09,132.59 L115.33,132.56 L115.56,132.54 L115.79,132.52 L116.03,132.51 L116.26,132.50 L116.50,132.49 L116.73,132.49 L116.97,132.49 L117.20,132.50 L117.44,132.50 L117.68,132.52 L117.91,132.53 L118.15,132.55 L118.38,132.57 L118.62,132.60 L118.85,132.63 L119.09,132.66 L119.33,132.69 L119.56,132.73 L119.80,132.77 L120.03,132.82 L120.27,132.87 L120.50,132.92 L120.74,132.98 L120.98,133.04 L121.21,133.11 L121.45,133.17 L121.68,133.24 L121.92,133.32 L122.15,133.40 L122.39,133.48 L122.63,133.57 L122.86,133.66 L123.10,133.76 L123.33,133.86 L123.57,133.96 L123.80,134.07 L124.04,134.18 L124.28,134.30 L124.51,134.42 L124.75,134.55 L124.98,134.68 L125.22,134.81 L125.45,134.95 L125.69,135.10 L125.93,135.25 L126.16,135.41 L126.40,135.57 L126.63,135.73 L126.87,135.91 L127.10,136.09 L127.34,136.27 L127.58,136.46 L127.81,136.66 L128.05,136.86 L128.28,137.07 L128.52,137.29 L128.75,137.52 L128.99,137.75 L129.22,137.99 L129.46,138.24 L129.70,138.50 L129.93,138.76 L130.17,139.04 L130.40,139.32 L130.64,139.61 L130.87,139.92 L131.11,140.23 L131.35,140.56 L131.58,140.90 L131.82,141.25 L132.05,141.61 L132.29,141.98 L132.52,142.37 L132.76,142.78 L133.00,143.20 L133.23,143.64 L133.47,144.09 L133.70,144.57 L133.94,145.06 L134.17,145.58 L134.41,146.12 L134.65,146.68 L134.88,147.27 L135.12,147.89 L135.35,148.54 L135.59,149.22 L135.82,149.94 L136.06,150.70 L136.30,151.51 L136.53,152.36 L136.77,153.27 L137.00,154.24 L137.24,155.28 L137.47,156.40 L137.71,157.61 L137.95,158.92 L138.18,160.36 L138.42,161.94 L138.65,163.70 L138.89,165.67 L139.12,167.93 L139.36,170.54 L139.60,173.65 L139.83,177.48 L140.07,185.18 L140.30,205.07 L140.54,235.24 L140.77,351.34 L141.01,211.57 L141.24,195.66 L141.48,187.66 L141.71,182.78 L141.95,179.55 L142.18,177.32 L142.42,175.75 L142.65,174.65 L142.89,173.90 L143.12,173.40 L143.36,173.10 L143.59,172.95 L143.83,172.93 L144.06,173.01 L144.30,173.17 L144.53,173.40 L144.77,173.69 L145.00,174.02 L145.24,174.39 L145.47,174.79 L145.71,175.08 L145.94,172.75 L146.18,170.53 L146.41,168.39 L146.64,166.34 L146.88,164.37 L147.11,162.48 L147.35,160.65 L147.58,158.88 L147.82,157.17 L148.05,155.52 L148.29,153.91 L148.52,152.36 L148.76,150.85 L148.99,149.38 L149.23,147.95 L149.46,146.56 L149.70,145.21 L149.93,143.89 L150.17,142.60 L150.40,141.35 L150.64,140.12 L150.87,138.92 L151.11,137.75 L151.34,136.60 L151.58,135.48 L151.81,134.38 L152.05,133.30 L152.28,132.25 L152.52,131.21 L152.75,130.20 L152.98,129.20 L153.22,128.23 L153.45,127.27 L153.69,126.32 L153.92,125.40 L154.16,124.48 L154.39,123.59 L154.63,122.71 L154.86,121.84 L155.10,120.99 L155.33,120.15 L155.57,119.32 L155.80,118.51 L156.04,117.71 L156.27,116.92 L156.51,116.14 L156.74,115.37 L156.98,114.61 L157.21,113.87 L157.45,113.13 L157.68,112.40 L157.92,111.69 L158.15,110.98 L158.39,110.28 L158.62,109.59 L158.86,108.91 L159.09,108.24 L159.32,107.57 L159.56,106.92 L159.79,106.27 L160.03,105.63 L160.26,105.00 L160.50,104.37 L160.73,103.75 L160.97,103.14 L161.20,102.53 L161.44,101.94 L161.67,101.34 L161.91,100.76 L162.14,100.18 L162.38,99.60 L162.61,99.04 L162.85,98.48 L163.08,97.92 L163.32,97.37 L163.55,96.83 L163.79,96.29 L164.02,95.75 L164.26,95.22 L164.49,94.70 L164.73,94.18 L164.96,93.67 L165.20,93.16 L165.43,92.65 L165.66,92.15 L165.90,91.66 L166.13,91.17 L166.37,90.68 L166.60,90.20 L166.84,89.72 L167.07,89.25 L167.31,88.78 L167.54,88.31 L167.78,87.85 L168.01,87.39 L168.25,86.94 L168.48,86.49 L168.72,86.04 L168.95,85.60 L169.19,85.16 L169.42,84.72 L169.66,84.29 L169.89,83.86 L170.13,83.44 L170.36,83.02 L170.60,82.60 L170.83,82.18 L171.07,81.77 L171.30,81.36 L171.54,80.95 L171.77,80.55 L172.00,80.15 L172.24,79.75 L172.47,79.36 L172.71,78.96 L172.94,78.58 L173.18,78.19 L173.41,77.81 L173.65,77.43 L173.88,77.05 L174.12,76.67 L174.35,76.30 L174.59,75.93 L174.82,75.56 L175.06,75.20 L175.29,74.83 L175.53,74.47 L175.76,74.12 L176.00,73.76 L176.23,73.41 L176.47,73.06 L176.70,72.71 L176.94,72.36 L177.17,72.02 L177.41,71.68 L177.64,71.34 L177.88,71.00 L178.11,70.67 L178.35,70.33 L178.58,70.00 L178.81,69.67 L179.05,69.35 L179.28,69.02 L179.52,68.70 L179.75,68.38 L179.99,68.06 L180.22,67.74 L180.46,67.43 L180.69,67.11 L180.93,66.80 L181.16,66.49 L181.40,66.18 L181.63,65.88 L181.87,65.57 L182.10,65.27 L182.34,64.97 L182.57,64.67 L182.81,64.38 L183.04,64.08 L183.28,63.79 L183.51,63.50 L183.75,63.21 L183.98,62.92 L184.22,62.63 L184.45,62.34 L184.69,62.06 L184.92,61.78 L185.15,61.50 L185.39,61.22 L185.62,60.94 L185.86,60.67 L186.09,60.39 L186.33,60.12 L186.56,59.85 L186.80,59.58 L187.03,59.31 L187.27,59.04 L187.50,58.77 L187.74,58.51 L187.97,58.25 L188.21,57.99 L188.44,57.73 L188.68,57.47 L188.91,57.21 L189.15,56.95 L189.38,56.70 L189.62,56.44 L189.85,56.19 L190.09,55.94 L190.32,55.69 L190.56,55.44 L190.79,55.20 L191.03,54.95 L191.26,54.71 L191.49,54.46 L191.73,54.22 L191.96,53.98 L192.20,53.74 L192.43,53.50 L192.67,53.27 L192.90,53.03 L193.14,52.79 L193.37,52.56 L193.61,52.33 L193.84,52.10 L194.08,51.87 L194.31,51.64 L194.55,51.41 L194.78,51.18 L195.02,50.96 L195.25,50.73 L195.49,50.51 L195.72,50.29 L195.96,50.07 L196.19,49.84 L196.43,49.63 L196.66,49.41 L196.90,49.19 L197.13,48.97 L197.37,48.76 L197.60,48.55 L197.83,48.33 L198.07,48.12 L198.30,47.91 L198.54,47.70 L198.77,47.49 L199.01,47.28 L199.24,47.07 L199.48,46.87 L199.71,46.66 L199.95,46.46 L200.18,46.26 L200.42,46.05 L200.65,45.85 L200.89,45.65 L201.12,45.45 L201.36,45.25 L201.59,45.06 L201.83,44.86 L202.06,44.66 L202.30,44.47 L202.53,44.27 L202.77,44.08 L203.00,43.89 L203.24,43.70 L203.47,43.51 L203.71,43.32 L203.94,43.13 L204.17,42.94 L204.41,42.75 L204.64,42.57 L204.88,42.38 L205.11,42.20 L205.35,42.01 L205.58,41.83 L205.82,41.65 L206.05,41.47 L206.29,41.29 L206.52,41.11 L206.76,40.93 L206.99,40.75 L207.23,40.57 L207.46,40.40 L207.70,40.22 L207.93,40.05 L208.17,39.87 L208.40,39.70 L208.64,39.53 L208.87,39.36 L209.11,39.19 L209.34,39.02 L209.58,38.85 L209.81,38.68 L210.05,38.51 L210.28,38.34 L210.52,38.18 L210.75,38.01 L210.98,37.85 L211.22,37.68 L211.45,37.52 L211.69,37.36 L211.92,37.19 L212.16,37.03 L212.39,36.87 L212.63,36.71 L212.86,36.55 L213.10,36.39 L213.33,36.24 L213.57,36.08 L213.80,35.92 L214.04,35.77 L214.27,35.61 L214.51,35.46 L214.74,35.31 L214.98,35.15 L215.21,35.00 L215.45,34.85 L215.68,34.70 L215.92,34.55 L216.15,34.40 L216.39,34.25 L216.62,34.10 L216.86,33.95 L217.09,33.81 L217.32,33.66 L217.56,33.52 L217.79,33.37 L218.03,33.23 L218.26,33.08 L218.50,32.94 L218.73,32.80 L218.97,32.66 L219.20,32.51 L219.44,32.37 L219.67,32.23 L219.91,32.09 L220.14,31.96 L220.38,31.82 L220.61,31.68 L220.85,31.54 L221.08,31.41 L221.32,31.27 L221.55,31.14 L221.79,31.00 L222.02,30.87 L222.26,30.74 L222.49,30.60 L222.73,30.47 L222.96,30.34 L223.20,30.21 L223.43,30.08 L223.66,29.95 L223.90,29.82 L224.13,29.69 L224.37,29.56 L224.60,29.44 L224.84,29.31 L225.07,29.18 L225.31,29.06 L225.54,28.93 L225.78,28.81 L226.01,28.68 L226.25,28.56 L226.48,28.44 L226.72,28.32 L226.95,28.19 L227.19,28.07 L227.42,27.95 L227.66,27.83 L227.89,27.71 L228.13,27.59 L228.36,27.48 L228.60,27.36 L228.83,27.24 L229.07,27.12 L229.30,27.01 L229.54,26.89 L229.77,26.78 L230.00,26.66 L230.24,26.55 L230.47,26.44 L230.71,26.32 L230.94,26.21 L231.18,26.10 L231.41,25.99 L231.65,25.88 L231.88,25.77 L232.12,25.66 L232.35,25.55 L232.59,25.44 L232.82,25.33 L233.06,25.22 L233.29,25.11 L233.53,25.01 L233.76,24.90 L234.00,24.80 L234.23,24.69 L234.47,24.59 L234.70,24.48 L234.94,24.38 L235.17,24.27 L235.41,24.17 L235.64,24.07 L235.88,23.97 L236.11,23.87 L236.34,23.77 L236.58,23.67 L236.81,23.57 L237.05,23.47 L237.28,23.37 L237.52,23.27 L237.75,23.17 L237.99,23.07 L238.22,22.98 L238.46,22.88 L238.69,22.79 L238.93,22.69 L239.16,22.60 L239.40,22.50 L239.63,22.41 L239.87,22.31 L240.10,22.22 L240.34,22.13 L240.57,22.04 L240.81,21.94 L241.04,21.85 L241.28,21.76 L241.51,21.67 L241.75,21.58 L241.98,21.49 L242.22,21.40 L242.45,21.32 L242.68,21.23 L242.92,21.14 L243.15,21.05 L243.39,20.97 L243.62,20.88 L243.86,20.80 L244.09,20.71 L244.33,20.63 L244.56,20.54 L244.80,20.46 L245.03,20.37 L245.27,20.29 L245.50,20.21 L245.74,20.13 L245.97,20.04 L246.21,19.96 L246.44,19.88 L246.68,19.80 L246.91,19.72 L247.15,19.64 L247.38,19.56 L247.62,19.49 L247.85,19.41 L248.09,19.33 L248.32,19.25 L248.56,19.18 L248.79,19.10 L249.03,19.02 L249.26,18.95 L249.49,18.87 L249.73,18.80 L249.96,18.73 L250.20,18.65 L250.43,18.58 L250.67,18.51 L250.90,18.43 L251.14,18.36 L251.37,18.29 L251.61,18.22 L251.84,18.15 L252.08,18.08 L252.31,18.01 L252.55,17.94 L252.78,17.87 L253.02,17.80 L253.25,17.73 L253.49,17.66 L253.72,17.60 L253.96,17.53 L254.19,17.46 L254.43,17.40 L254.66,17.33 L254.90,17.27 L255.13,17.20 L255.37,17.14 L255.60,17.07 L255.83,17.01 L256.07,16.95 L256.30,16.88 L256.54,16.82 L256.77,16.76 L257.01,16.70 L257.24,16.64 L257.48,16.58 L257.71,16.52 L257.95,16.46 L258.18,16.40 L258.42,16.34 L258.65,16.28 L258.89,16.22 L259.12,16.16 L259.36,16.11 L259.59,16.05 L259.83,15.99 L260.06,15.93 L260.30,15.88 L260.53,15.82 L260.77,15.77 L261.00,15.71 L261.24,15.66 L261.47,15.61 L261.71,15.55 L261.94,15.50 L262.17,15.45 L262.41,15.39 L262.64,15.34 L262.88,15.29 L263.11,15.24 L263.35,15.19 L263.58,15.14 L263.82,15.09 L264.05,15.04 L264.29,14.99 L264.52,14.94 L264.76,14.89 L264.99,14.84 L265.23,14.80 L265.46,14.75 L265.70,14.70 L265.93,14.66 L266.17,14.61 L266.40,14.56 L266.64,14.52 L266.87,14.47 L267.11,14.43 L267.34,14.39 L267.58,14.34 L267.81,14.30 L268.05,14.26 L268.28,14.21 L268.51,14.17 L268.75,14.13 L268.98,14.09 L269.22,14.05 L269.45,14.01 L269.69,13.97 L269.92,13.93 L270.16,13.89 L270.39,13.85 L270.63,13.81 L270.86,13.77 L271.10,13.73 L271.33,13.69 L271.57,13.66 L271.80,13.62 L272.04,13.58 L272.27,13.55 L272.51,13.51 L272.74,13.48 L272.98,13.44 L273.21,13.41 L273.45,13.37 L273.68,13.34 L273.92,13.31 L274.15,13.27 L274.39,13.24 L274.62,13.21 L274.85,13.18 L275.09,13.14 L275.32,13.11 L275.56,13.08 L275.79,13.05 L276.03,13.02 L276.26,12.99 L276.50,12.96 L276.73,12.93 L276.97,12.90 L277.20,12.88 L277.44,12.85 L277.67,12.82 L277.91,12.79 L278.14,12.77 L278.38,12.74 L278.61,12.71 L278.85,12.69 L279.08,12.66 L279.32,12.64 L279.55,12.61 L279.79,12.59 L280.02,12.57 L280.26,12.54 L280.49,12.52 L280.73,12.50 L280.96,12.47 L281.20,12.45 L281.43,12.43 L281.66,12.41 L281.90,12.39 L282.13,12.37 L282.37,12.35 L282.60,12.33 L282.84,12.31 L283.07,12.29 L283.31,12.27 L283.54,12.25 L283.78,12.23 L284.01,12.22 L284.25,12.20 L284.48,12.18 L284.72,12.17 L284.95,12.15 L285.19,12.13 L285.42,12.12 L285.66,12.10 L285.89,12.09 L286.13,12.08 L286.36,12.06 L286.60,12.05 L286.83,12.03 L287.07,12.02 L287.30,12.01 L287.54,12.00 L287.77,11.99 L288.00,11.97 L288.24,11.96 L288.47,11.95 L288.71,11.94 L288.94,11.93 L289.18,11.92 L289.41,11.91 L289.65,11.90 L289.88,11.90 L290.12,11.89 L290.35,11.88 L290.59,11.87 L290.82,11.87 L291.06,11.86 L291.29,11.85 L291.53,11.85 L291.76,11.84 L292.00,11.84 L292.23,11.83 L292.47,11.83 L292.70,11.82 L292.94,11.82 L293.17,11.81 L293.41,11.81 L293.64,11.81 L293.88,11.81 L294.11,11.80 L294.34,11.80 L294.58,11.80 L294.81,11.80 L295.05,11.80 L295.28,11.80 L295.52,11.80 L295.75,11.80 L295.99,11.80 L296.22,11.80 L296.46,11.81 L296.69,11.81 L296.93,11.81 L297.16,11.81 L297.40,11.82 L297.63,11.82 L297.87,11.83 L298.10,11.83 L298.33,11.84 L298.57,11.84 L298.80,11.85 L299.04,11.86 L299.27,11.86 L299.51,11.87 L299.74,11.88 L299.98,11.89 L300.21,11.90 L300.45,11.91 L300.68,11.92 L300.92,11.93 L301.15,11.94 L301.38,11.95 L301.62,11.96 L301.85,11.97 L302.09,11.99 L302.32,12.00 L302.56,12.01 L302.79,12.03 L303.03,12.04 L303.26,12.06 L303.50,12.07 L303.73,12.09 L303.97,12.10 L304.20,12.12 L304.44,12.14 L304.67,12.15 L304.90,12.17 L305.14,12.19 L305.37,12.21 L305.61,12.23 L305.84,12.25 L306.08,12.27 L306.31,12.29 L306.55,12.31 L306.78,12.33 L307.02,12.35 L307.25,12.37 L307.49,12.40 L307.72,12.42 L307.96,12.44 L308.19,12.47 L308.42,12.49 L308.66,12.52 L308.89,12.54 L309.13,12.57 L309.36,12.60 L309.60,12.62 L309.83,12.65 L310.07,12.68 L310.30,12.71 L310.54,12.73 L310.77,12.76 L311.01,12.79 L311.24,12.82 L311.47,12.85 L311.71,12.88 L311.94,12.91 L312.18,12.95 L312.41,12.98 L312.65,13.01 L312.88,13.04 L313.12,13.08 L313.35,13.11 L313.59,13.15 L313.82,13.18 L314.06,13.22 L314.29,13.25 L314.53,13.29 L314.76,13.33 L314.99,13.36 L315.23,13.40 L315.46,13.44 L315.70,13.48 L315.93,13.52 L316.17,13.55 L316.40,13.59 L316.64,13.63 L316.87,13.68 L317.11,13.72 L317.34,13.76 L317.58,13.80 L317.81,13.84 L318.05,13.89 L318.28,13.93 L318.51,13.97 L318.75,14.02 L318.98,14.06 L319.22,14.11 L319.45,14.15 L319.69,14.20 L319.92,14.25 L320.16,14.29 L320.39,14.34 L320.63,14.39 L320.86,14.44 L321.10,14.49 L321.33,14.54 L321.56,14.59 L321.80,14.64 L322.03,14.69 L322.27,14.74 L322.50,14.79 L322.74,14.84 L322.97,14.90 L323.21,14.95 L323.44,15.00 L323.68,15.06 L323.91,15.11 L324.15,15.17 L324.38,15.22 L324.62,15.28 L324.85,15.33 L325.08,15.39 L325.32,15.45 L325.55,15.51 L325.79,15.56 L326.02,15.62 L326.26,15.68 L326.49,15.74 L326.73,15.80 L326.96,15.86 L327.20,15.92 L327.43,15.98 L327.67,16.05 L327.90,16.11 L328.14,16.17 L328.37,16.24 L328.60,16.30 L328.84,16.36 L329.07,16.43 L329.31,16.49 L329.54,16.56 L329.78,16.63 L330.01,16.69 L330.25,16.76 L330.48,16.83 L330.72,16.90 L330.95,16.97 L331.19,17.03 L331.42,17.10 L331.65,17.17 L331.89,17.24 L332.12,17.32 L332.36,17.39 L332.59,17.46 L332.83,17.53 L333.06,17.61 L333.30,17.68 L333.53,17.75 L333.77,17.83 L334.00,17.90 L334.24,17.98 L334.47,18.05 L334.71,18.13 L334.94,18.21 L335.17,18.28 L335.41,18.36 L335.64,18.44 L335.88,18.52 L336.11,18.60 L336.35,18.68 L336.58,18.76 L336.82,18.84 L337.05,18.92 L337.29,19.00 L337.52,19.09 L337.76,19.17 L337.99,19.25 L338.23,19.34 L338.46,19.42 L338.69,19.51 L338.93,19.59 L339.16,19.68 L339.40,19.76 L339.63,19.85 L339.87,19.94 L340.10,20.03 L340.34,20.11 L340.57,20.20 L340.81,20.29 L341.04,20.38 L341.28,20.47 L341.51,20.56 L341.74,20.66 L341.98,20.75 L342.21,20.84 L342.45,20.93 L342.68,21.03 L342.92,21.12 L343.15,21.22 L343.39,21.31 L343.62,21.41 L343.86,21.50 L344.09,21.60 L344.33,21.70 L344.56,21.79 L344.80,21.89 L345.03,21.99 L345.26,22.09 L345.50,22.19 L345.73,22.29 L345.97,22.39 L346.20,22.49 L346.44,22.59 L346.67,22.70 L346.91,22.80 L347.14,22.90 L347.38,23.01 L347.61,23.11 L347.85,23.22 L348.08,23.32 L348.32,23.43 L348.55,23.54 L348.78,23.64 L349.02,23.75 L349.25,23.86 L349.49,23.97 L349.72,24.08 L349.96,24.19 L350.19,24.30 L350.43,24.41 L350.66,24.52 L350.90,24.64 L351.13,24.75 L351.37,24.86 L351.60,24.98 L351.83,25.09 L352.07,25.21 L352.30,25.32 L352.54,25.44 L352.77,25.55 L353.01,25.67 L353.24,25.79 L353.48,25.91 L353.71,26.03 L353.95,26.15 L354.18,26.27 L354.42,26.39 L354.65,26.51 L354.89,26.63 L355.12,26.75 L355.35,26.88 L355.59,27.00 L355.82,27.12 L356.06,27.25 L356.29,27.38 L356.53,27.50 L356.76,27.63 L357.00,27.76 L357.23,27.88 L357.47,28.01 L357.70,28.14 L357.94,28.27 L358.17,28.40 L358.41,28.53 L358.64,28.66 L358.87,28.79 L359.11,28.93 L359.34,29.06 L359.58,29.19 L359.81,29.33 L360.05,29.46 L360.28,29.60 L360.52,29.74 L360.75,29.87 L360.99,30.01 L361.22,30.15 L361.46,30.29 L361.69,30.43 L361.92,30.57 L362.16,30.71 L362.39,30.85 L362.63,30.99 L362.86,31.14 L363.10,31.28 L363.33,31.42 L363.57,31.57 L363.80,31.71 L364.04,31.86 L364.27,32.00 L364.51,32.15 L364.74,32.30 L364.98,32.45 L365.21,32.60 L365.44,32.75 L365.68,32.90 L365.91,33.05 L366.15,33.20 L366.38,33.35 L366.62,33.51 L366.85,33.66 L367.09,33.82 L367.32,33.97 L367.56,34.13 L367.79,34.28 L368.03,34.44 L368.26,34.60 L368.50,34.76 L368.73,34.92 L368.96,35.08 L369.20,35.24 L369.43,35.40 L369.67,35.56 L369.90,35.73 L370.14,35.89 L370.37,36.05 L370.61,36.22 L370.84,36.39 L371.08,36.55 L371.31,36.72 L371.55,36.89 L371.78,37.06 L372.01,37.23 L372.25,37.40 L372.48,37.57 L372.72,37.74 L372.95,37.91 L373.19,38.09 L373.42,38.26 L373.66,38.44 L373.89,38.61 L374.13,38.79 L374.36,38.97 L374.60,39.14 L374.83,39.32 L375.07,39.50 L375.30,39.68 L375.53,39.86 L375.77,40.05 L376.00,40.23 L376.24,40.41 L376.47,40.60 L376.71,40.78 L376.94,40.97 L377.18,41.16 L377.41,41.35 L377.65,41.53 L377.88,41.72 L378.12,41.91 L378.35,42.11 L378.59,42.30 L378.82,42.49 L379.05,42.68 L379.29,42.88 L379.52,43.08 L379.76,43.27 L379.99,43.47 L380.23,43.67 L380.46,43.87 L380.70,44.07 L380.93,44.27 L381.17,44.47 L381.40,44.67 L381.64,44.88 L381.87,45.08 L382.10,45.29 L382.34,45.49 L382.57,45.70 L382.81,45.91 L383.04,46.12 L383.28,46.33 L383.51,46.54 L383.75,46.75 L383.98,46.97 L384.22,47.18 L384.45,47.40 L384.69,47.61 L384.92,47.83 L385.16,48.05 L385.39,48.27 L385.62,48.49 L385.86,48.71 L386.09,48.93 L386.33,49.16 L386.56,49.38 L386.80,49.61 L387.03,49.84 L387.27,50.06 L387.50,50.29 L387.74,50.52 L387.97,50.76 L388.21,50.99 L388.44,51.22 L388.68,51.46 L388.91,51.69 L389.14,51.93 L389.38,52.17 L389.61,52.41 L389.85,52.65 L390.08,52.89 L390.32,53.13 L390.55,53.38 L390.79,53.62 L391.02,53.87 L391.26,54.12 L391.49,54.37 L391.73,54.62 L391.96,54.87 L392.19,55.12 L392.43,55.38 L392.66,55.63 L392.90,55.89 L393.13,56.15 L393.37,56.41 L393.60,56.67 L393.84,56.93 L394.07,57.20 L394.31,57.46 L394.54,57.73 L394.78,58.00 L395.01,58.27 L395.25,58.54 L395.48,58.81 L395.71,59.09 L395.95,59.36 L396.18,59.64 L396.42,59.92 L396.65,60.20 L396.89,60.48 L397.12,60.77 L397.36,61.05 L397.59,61.34 L397.83,61.63 L398.06,61.92 L398.30,62.21 L398.53,62.51 L398.77,62.80 L399.00,63.10 L399.23,63.40 L399.47,63.70 L399.70,64.00 L399.94,64.31 L400.17,64.61 L400.41,64.92 L400.64,65.23 L400.88,65.54 L401.11,65.86 L401.35,66.17 L401.58,66.49 L401.82,66.81 L402.05,67.13 L402.28,67.46 L402.52,67.78 L402.75,68.11 L402.99,68.44 L403.22,68.78 L403.46,69.11 L403.69,69.45 L403.93,69.79 L404.16,70.13 L404.40,70.48 L404.63,70.82 L404.87,71.17 L405.10,71.53 L405.34,71.88 L405.57,72.24 L405.80,72.60 L406.04,72.96 L406.27,73.32 L406.51,73.69 L406.74,74.06 L406.98,74.44 L407.21,74.81 L407.45,75.19 L407.68,75.57 L407.92,75.96 L408.15,76.35 L408.39,76.74 L408.62,77.13 L408.86,77.53 L409.09,77.93 L409.32,78.34 L409.56,78.75 L409.79,79.16 L410.03,79.57 L410.26,79.99 L410.50,80.42 L410.73,80.84 L410.97,81.27 L411.20,81.71 L411.44,82.15 L411.67,82.59 L411.91,83.04 L412.14,83.49 L412.37,83.94 L412.61,84.40 L412.84,84.87 L413.08,85.34 L413.31,85.81 L413.55,86.29 L413.78,86.78 L414.02,87.27 L414.25,87.76 L414.49,88.26 L414.72,88.77 L414.96,89.28 L415.19,89.80 L415.43,90.33 L415.66,90.86 L415.89,91.39 L416.13,91.94 L416.36,92.49 L416.60,93.05 L416.83,93.61 L417.07,94.18 L417.30,94.76 L417.54,95.35 L417.77,95.95 L418.01,96.55 L418.24,97.17 L418.48,97.79 L418.71,98.42 L418.95,99.06 L419.18,99.72 L419.41,100.38 L419.65,101.05 L419.88,101.74 L420.12,102.43 L420.35,103.14 L420.59,103.86 L420.82,104.59 L421.06,105.34 L421.29,106.10 L421.53,106.88 L421.76,107.68 L422.00,108.48 L422.23,109.31 L422.46,110.16 L422.70,111.02 L422.93,111.90 L423.17,112.81 L423.40,113.74 L423.64,114.69 L423.87,115.66 L424.11,116.66 L424.34,117.69 L424.58,118.76 L424.81,119.85 L425.05,120.97 L425.28,122.14 L425.52,123.34 L425.75,124.58 L425.98,125.87 L426.22,127.21 L426.45,128.61 L426.69,130.06 L426.92,131.58 L427.16,133.16 L427.39,134.89 L427.63,136.75 L427.86,138.72 L428.10,140.81 L428.33,143.03 L428.57,145.39 L428.80,147.93 L429.04,150.68 L429.27,153.66 L429.50,156.92 L429.74,160.54 L429.97,164.60 L430.21,169.22 L430.44,174.59 L430.68,180.99 L430.91,188.88 L431.15,198.95 L431.38,211.59 L431.62,220.24" stroke="#7E2F8E" stroke-width="3.2" stroke-dasharray="2.4 1.85" stroke-dashoffset="0.74"/>
<path d="M62.20,156.53 L62.31,156.85 L62.55,157.56 L62.79,158.29 L63.02,159.04 L63.26,159.81 L63.50,160.61 L63.73,161.43 L63.97,162.27 L64.21,163.14 L64.44,164.03 L64.68,164.95 L64.92,165.90 L65.15,166.88 L65.39,167.89 L65.63,168.93 L65.86,170.00 L66.10,171.10 L66.34,172.24 L66.58,173.41 L66.81,174.62 L67.05,175.87 L67.29,177.15 L67.52,178.48 L67.76,179.85 L68.00,181.26 L68.23,182.71 L68.47,184.22 L68.71,185.76 L68.94,187.36 L69.18,189.01 L69.42,190.70 L69.65,192.44 L69.89,194.22 L70.13,196.05 L70.36,197.92 L70.60,199.82 L70.84,201.75 L71.07,203.69 L71.31,205.63 L71.55,207.54 L71.78,209.41 L72.02,211.20 L72.26,212.89 L72.50,214.45 L72.73,215.84 L72.97,217.03 L73.21,218.03 L73.44,218.81 L73.68,219.40 L73.92,219.81 L74.15,220.07 L74.39,220.17 L74.63,220.14 L74.86,220.17 L75.10,220.24 L75.33,218.19 L75.57,214.93 L75.80,212.02 L76.04,209.70 L76.27,207.86 L76.51,206.41 L76.74,204.47 L76.98,200.93 L77.21,197.53 L77.45,194.30 L77.68,191.24 L77.91,188.35 L78.15,185.64 L78.38,183.07 L78.62,180.65 L78.85,178.36 L79.09,176.19 L79.32,174.14 L79.56,172.18 L79.79,170.31 L80.03,168.53 L80.26,166.83 L80.49,165.20 L80.73,163.63 L80.96,162.13 L81.20,160.69 L81.43,159.30 L81.67,157.95 L81.90,156.66 L82.14,155.41 L82.37,154.20 L82.61,153.03 L82.84,151.90 L83.07,150.80 L83.31,149.73 L83.54,148.69 L83.78,147.69 L84.01,146.71 L84.25,145.76 L84.48,144.83 L84.72,143.92 L84.95,143.04 L85.19,142.18 L85.42,141.35 L85.66,140.53 L85.89,139.73 L86.12,138.95 L86.36,138.19 L86.59,137.44 L86.83,136.71 L87.06,136.00 L87.30,135.30 L87.53,134.62 L87.77,133.95 L88.00,133.29 L88.24,132.65 L88.47,132.02 L88.70,131.40 L88.94,130.80 L89.17,130.20 L89.41,129.62 L89.64,129.05 L89.88,128.49 L90.11,127.94 L90.35,127.40 L90.58,126.86 L90.82,126.34 L91.05,125.83 L91.28,125.32 L91.52,124.83 L91.75,124.34 L91.99,123.86 L92.22,123.39 L92.46,122.93 L92.69,122.48 L92.93,122.03 L93.16,121.59 L93.40,121.15 L93.63,120.73 L93.86,120.31 L94.10,119.90 L94.33,119.49 L94.57,119.09 L94.80,118.70 L95.04,118.31 L95.27,117.93 L95.51,117.55 L95.74,117.18 L95.98,116.82 L96.21,116.46 L96.44,116.11 L96.68,115.76 L96.91,115.42 L97.15,115.08 L97.38,114.75 L97.62,114.42 L97.85,114.10 L98.09,113.78 L98.32,113.47 L98.56,113.16 L98.79,112.86 L99.02,112.56 L99.26,112.26 L99.49,111.97 L99.73,111.69 L99.96,111.40 L100.20,111.13 L100.43,110.85 L100.67,110.58 L100.90,110.32 L101.14,110.06 L101.37,109.80 L101.60,109.55 L101.84,109.30 L102.07,109.05 L102.31,108.81 L102.54,108.57 L102.78,108.33 L103.01,108.10 L103.25,107.87 L103.48,107.65 L103.72,107.43 L103.95,107.21 L104.18,107.00 L104.42,106.79 L104.65,106.58 L104.89,106.37 L105.12,106.17 L105.36,105.97 L105.59,105.78 L105.83,105.59 L106.06,105.40 L106.30,105.21 L106.53,105.03 L106.76,104.85 L107.00,104.67 L107.23,104.50 L107.47,104.33 L107.70,104.16 L107.94,103.99 L108.17,103.83 L108.41,103.67 L108.64,103.51 L108.88,103.36 L109.11,103.21 L109.34,103.06 L109.58,102.91 L109.81,102.77 L110.05,102.63 L110.28,102.49 L110.52,102.36 L110.75,102.22 L110.99,102.09 L111.22,101.97 L111.46,101.84 L111.69,101.72 L111.92,101.60 L112.16,101.48 L112.39,101.37 L112.63,101.25 L112.86,101.14 L113.10,101.04 L113.33,100.93 L113.57,100.83 L113.80,100.73 L114.04,100.63 L114.27,100.53 L114.50,100.44 L114.74,100.35 L114.97,100.26 L115.21,100.17 L115.44,100.09 L115.68,100.01 L115.91,99.93 L116.15,99.85 L116.38,99.78 L116.62,99.70 L116.85,99.63 L117.08,99.56 L117.32,99.50 L117.55,99.43 L117.79,99.37 L118.02,99.31 L118.26,99.26 L118.49,99.20 L118.73,99.15 L118.96,99.10 L119.20,99.05 L119.43,99.01 L119.66,98.96 L119.90,98.92 L120.13,98.88 L120.37,98.84 L120.60,98.81 L120.84,98.77 L121.07,98.74 L121.31,98.71 L121.54,98.69 L121.78,98.66 L122.01,98.64 L122.24,98.62 L122.48,98.60 L122.71,98.59 L122.95,98.57 L123.18,98.56 L123.42,98.55 L123.65,98.54 L123.89,98.54 L124.12,98.54 L124.36,98.53 L124.59,98.54 L124.83,98.54 L125.06,98.56 L125.30,98.57 L125.53,98.59 L125.77,98.62 L126.00,98.65 L126.24,98.68 L126.47,98.72 L126.71,98.77 L126.94,98.82 L127.18,98.87 L127.41,98.93 L127.65,98.99 L127.89,99.06 L128.12,99.14 L128.36,99.21 L128.59,99.30 L128.83,99.38 L129.06,99.48 L129.30,99.57 L129.53,99.68 L129.77,99.78 L130.00,99.89 L130.24,100.01 L130.47,100.13 L130.71,100.26 L130.94,100.39 L131.18,100.53 L131.41,100.67 L131.65,100.82 L131.89,100.97 L132.12,101.13 L132.36,101.29 L132.59,101.46 L132.83,101.63 L133.06,101.81 L133.30,101.99 L133.53,102.18 L133.77,102.38 L134.00,102.58 L134.24,102.78 L134.47,103.00 L134.71,103.21 L134.94,103.44 L135.18,103.66 L135.41,103.90 L135.65,104.14 L135.89,104.39 L136.12,104.64 L136.36,104.90 L136.59,105.16 L136.83,105.43 L137.06,105.71 L137.30,105.99 L137.53,106.28 L137.77,106.58 L138.00,106.88 L138.24,107.19 L138.47,107.51 L138.71,107.83 L138.94,108.16 L139.18,108.50 L139.41,108.84 L139.65,109.19 L139.89,109.55 L140.12,109.92 L140.36,110.29 L140.59,110.67 L140.83,111.06 L141.06,111.46 L141.30,111.87 L141.53,112.28 L141.77,112.70 L142.00,113.13 L142.24,113.57 L142.47,114.02 L142.71,114.48 L142.94,114.95 L143.18,115.42 L143.41,115.91 L143.65,116.40 L143.89,116.91 L144.12,117.42 L144.36,117.95 L144.59,118.49 L144.83,119.04 L145.06,119.59 L145.30,120.16 L145.53,120.75 L145.77,121.34 L146.00,121.95 L146.24,122.57 L146.47,123.20 L146.71,123.84 L146.94,124.50 L147.18,125.18 L147.41,125.86 L147.65,126.57 L147.89,127.29 L148.12,128.02 L148.36,128.77 L148.59,129.54 L148.83,130.32 L149.06,131.12 L149.30,131.95 L149.53,132.79 L149.77,133.65 L150.00,134.53 L150.24,135.43 L150.47,136.36 L150.71,137.30 L150.94,138.28 L151.18,139.27 L151.41,140.29 L151.65,141.34 L151.89,142.42 L152.12,143.53 L152.36,144.67 L152.59,145.84 L152.83,147.05 L153.06,148.29 L153.30,149.57 L153.53,150.88 L153.77,152.24 L154.00,153.64 L154.24,155.09 L154.47,156.59 L154.71,158.13 L154.94,159.73 L155.18,161.39 L155.41,163.11 L155.65,164.89 L155.89,166.73 L156.12,168.65 L156.36,170.64 L156.59,172.71 L156.83,174.85 L157.06,177.08 L157.30,179.39 L157.53,181.78 L157.77,184.25 L158.00,186.78 L158.24,189.37 L158.47,191.99 L158.71,194.60 L158.94,197.16 L159.18,199.60 L159.41,201.85 L159.65,203.83 L159.89,205.46 L160.12,206.72 L160.36,206.62 L160.59,206.64 L160.83,206.90 L161.06,207.60 L161.30,208.47 L161.53,204.89 L161.77,196.83 L162.00,188.29 L162.24,180.64 L162.47,173.98 L162.71,168.14 L162.94,162.97 L163.17,158.34 L163.41,154.13 L163.64,150.29 L163.88,146.73 L164.11,143.43 L164.35,140.35 L164.58,137.45 L164.82,134.71 L165.05,132.12 L165.29,129.65 L165.52,127.30 L165.76,125.69 L165.99,124.30 L166.23,122.96 L166.46,121.68 L166.69,120.45 L166.93,119.27 L167.16,118.12 L167.40,117.02 L167.63,115.96 L167.87,114.92 L168.10,113.92 L168.34,112.95 L168.57,112.00 L168.81,111.08 L169.04,110.19 L169.28,109.32 L169.51,108.46 L169.74,107.63 L169.98,106.82 L170.21,106.03 L170.45,105.25 L170.68,104.49 L170.92,103.74 L171.15,103.01 L171.39,102.30 L171.62,101.60 L171.86,100.91 L172.09,100.23 L172.33,99.56 L172.56,98.91 L172.80,98.27 L173.03,97.63 L173.26,97.01 L173.50,96.40 L173.73,95.79 L173.97,95.20 L174.20,94.61 L174.44,94.03 L174.67,93.46 L174.91,92.90 L175.14,92.35 L175.38,91.80 L175.61,91.26 L175.85,90.73 L176.08,90.20 L176.32,89.68 L176.55,89.17 L176.78,88.66 L177.02,88.16 L177.25,87.67 L177.49,87.18 L177.72,86.69 L177.96,86.21 L178.19,85.74 L178.43,85.27 L178.66,84.80 L178.90,84.35 L179.13,83.89 L179.37,83.44 L179.60,82.99 L179.83,82.55 L180.07,82.12 L180.30,81.68 L180.54,81.25 L180.77,80.83 L181.01,80.41 L181.24,79.99 L181.48,79.58 L181.71,79.17 L181.95,78.76 L182.18,78.36 L182.42,77.96 L182.65,77.56 L182.89,77.17 L183.12,76.78 L183.35,76.39 L183.59,76.01 L183.82,75.63 L184.06,75.25 L184.29,74.88 L184.53,74.51 L184.76,74.14 L185.00,73.77 L185.23,73.41 L185.47,73.05 L185.70,72.69 L185.94,72.33 L186.17,71.98 L186.41,71.63 L186.64,71.28 L186.87,70.94 L187.11,70.60 L187.34,70.25 L187.58,69.92 L187.81,69.58 L188.05,69.25 L188.28,68.91 L188.52,68.59 L188.75,68.26 L188.99,67.93 L189.22,67.61 L189.46,67.29 L189.69,66.97 L189.93,66.65 L190.16,66.34 L190.39,66.03 L190.63,65.71 L190.86,65.40 L191.10,65.10 L191.33,64.79 L191.57,64.49 L191.80,64.19 L192.04,63.89 L192.27,63.59 L192.51,63.29 L192.74,63.00 L192.98,62.70 L193.21,62.41 L193.44,62.12 L193.68,61.83 L193.91,61.55 L194.15,61.26 L194.38,60.98 L194.62,60.70 L194.85,60.42 L195.09,60.14 L195.32,59.86 L195.56,59.58 L195.79,59.31 L196.03,59.04 L196.26,58.77 L196.50,58.50 L196.73,58.23 L196.96,57.96 L197.20,57.70 L197.43,57.43 L197.67,57.17 L197.90,56.91 L198.14,56.65 L198.37,56.39 L198.61,56.13 L198.84,55.87 L199.08,55.62 L199.31,55.36 L199.55,55.11 L199.78,54.86 L200.02,54.61 L200.25,54.36 L200.48,54.11 L200.72,53.87 L200.95,53.62 L201.19,53.38 L201.42,53.14 L201.66,52.90 L201.89,52.65 L202.13,52.42 L202.36,52.18 L202.60,51.94 L202.83,51.70 L203.07,51.47 L203.30,51.24 L203.53,51.00 L203.77,50.77 L204.00,50.54 L204.24,50.31 L204.47,50.09 L204.71,49.86 L204.94,49.63 L205.18,49.41 L205.41,49.18 L205.65,48.96 L205.88,48.74 L206.12,48.52 L206.35,48.30 L206.59,48.08 L206.82,47.86 L207.05,47.64 L207.29,47.43 L207.52,47.21 L207.76,47.00 L207.99,46.79 L208.23,46.57 L208.46,46.36 L208.70,46.15 L208.93,45.94 L209.17,45.74 L209.40,45.53 L209.64,45.32 L209.87,45.12 L210.11,44.91 L210.34,44.71 L210.57,44.50 L210.81,44.30 L211.04,44.10 L211.28,43.90 L211.51,43.70 L211.75,43.50 L211.98,43.31 L212.22,43.11 L212.45,42.91 L212.69,42.72 L212.92,42.53 L213.16,42.33 L213.39,42.14 L213.62,41.95 L213.86,41.76 L214.09,41.57 L214.33,41.38 L214.56,41.19 L214.80,41.00 L215.03,40.82 L215.27,40.63 L215.50,40.44 L215.74,40.26 L215.97,40.08 L216.21,39.89 L216.44,39.71 L216.68,39.53 L216.91,39.35 L217.14,39.17 L217.38,38.99 L217.61,38.82 L217.85,38.64 L218.08,38.46 L218.32,38.29 L218.55,38.11 L218.79,37.94 L219.02,37.76 L219.26,37.59 L219.49,37.42 L219.73,37.25 L219.96,37.08 L220.20,36.91 L220.43,36.74 L220.66,36.57 L220.90,36.40 L221.13,36.24 L221.37,36.07 L221.60,35.90 L221.84,35.74 L222.07,35.58 L222.31,35.41 L222.54,35.25 L222.78,35.09 L223.01,34.93 L223.25,34.77 L223.48,34.61 L223.71,34.45 L223.95,34.29 L224.18,34.13 L224.42,33.97 L224.65,33.82 L224.89,33.66 L225.12,33.51 L225.36,33.35 L225.59,33.20 L225.83,33.05 L226.06,32.89 L226.30,32.74 L226.53,32.59 L226.77,32.44 L227.00,32.29 L227.23,32.14 L227.47,31.99 L227.70,31.85 L227.94,31.70 L228.17,31.55 L228.41,31.41 L228.64,31.26 L228.88,31.12 L229.11,30.97 L229.35,30.83 L229.58,30.69 L229.82,30.55 L230.05,30.41 L230.29,30.26 L230.52,30.12 L230.75,29.99 L230.99,29.85 L231.22,29.71 L231.46,29.57 L231.69,29.43 L231.93,29.30 L232.16,29.16 L232.40,29.03 L232.63,28.89 L232.87,28.76 L233.10,28.63 L233.34,28.49 L233.57,28.36 L233.81,28.23 L234.04,28.10 L234.27,27.97 L234.51,27.84 L234.74,27.71 L234.98,27.58 L235.21,27.45 L235.45,27.33 L235.68,27.20 L235.92,27.07 L236.15,26.95 L236.39,26.82 L236.62,26.70 L236.86,26.58 L237.09,26.45 L237.32,26.33 L237.56,26.21 L237.79,26.09 L238.03,25.97 L238.26,25.85 L238.50,25.73 L238.73,25.61 L238.97,25.49 L239.20,25.37 L239.44,25.25 L239.67,25.14 L239.91,25.02 L240.14,24.90 L240.38,24.79 L240.61,24.67 L240.84,24.56 L241.08,24.45 L241.31,24.33 L241.55,24.22 L241.78,24.11 L242.02,24.00 L242.25,23.89 L242.49,23.78 L242.72,23.67 L242.96,23.56 L243.19,23.45 L243.43,23.34 L243.66,23.24 L243.90,23.13 L244.13,23.02 L244.36,22.92 L244.60,22.81 L244.83,22.71 L245.07,22.60 L245.30,22.50 L245.54,22.40 L245.77,22.30 L246.01,22.19 L246.24,22.09 L246.48,21.99 L246.71,21.89 L246.95,21.79 L247.18,21.69 L247.41,21.59 L247.65,21.50 L247.88,21.40 L248.12,21.30 L248.35,21.20 L248.59,21.11 L248.82,21.01 L249.06,20.92 L249.29,20.82 L249.53,20.73 L249.76,20.64 L250.00,20.54 L250.23,20.45 L250.47,20.36 L250.70,20.27 L250.93,20.18 L251.17,20.09 L251.40,20.00 L251.64,19.91 L251.87,19.82 L252.11,19.73 L252.34,19.64 L252.58,19.56 L252.81,19.47 L253.05,19.38 L253.28,19.30 L253.52,19.21 L253.75,19.13 L253.99,19.04 L254.22,18.96 L254.45,18.88 L254.69,18.80 L254.92,18.71 L255.16,18.63 L255.39,18.55 L255.63,18.47 L255.86,18.39 L256.10,18.31 L256.33,18.23 L256.57,18.15 L256.80,18.08 L257.04,18.00 L257.27,17.92 L257.50,17.85 L257.74,17.77 L257.97,17.69 L258.21,17.62 L258.44,17.54 L258.68,17.47 L258.91,17.40 L259.15,17.32 L259.38,17.25 L259.62,17.18 L259.85,17.11 L260.09,17.04 L260.32,16.97 L260.56,16.90 L260.79,16.83 L261.02,16.76 L261.26,16.69 L261.49,16.62 L261.73,16.55 L261.96,16.49 L262.20,16.42 L262.43,16.36 L262.67,16.29 L262.90,16.22 L263.14,16.16 L263.37,16.10 L263.61,16.03 L263.84,15.97 L264.08,15.91 L264.31,15.84 L264.54,15.78 L264.78,15.72 L265.01,15.66 L265.25,15.60 L265.48,15.54 L265.72,15.48 L265.95,15.42 L266.19,15.37 L266.42,15.31 L266.66,15.25 L266.89,15.19 L267.13,15.14 L267.36,15.08 L267.60,15.03 L267.83,14.97 L268.06,14.92 L268.30,14.86 L268.53,14.81 L268.77,14.76 L269.00,14.70 L269.24,14.65 L269.47,14.60 L269.71,14.55 L269.94,14.50 L270.18,14.45 L270.41,14.40 L270.65,14.35 L270.88,14.30 L271.11,14.25 L271.35,14.21 L271.58,14.16 L271.82,14.11 L272.05,14.07 L272.29,14.02 L272.52,13.97 L272.76,13.93 L272.99,13.89 L273.23,13.84 L273.46,13.80 L273.70,13.76 L273.93,13.71 L274.17,13.67 L274.40,13.63 L274.63,13.59 L274.87,13.55 L275.10,13.51 L275.34,13.47 L275.57,13.43 L275.81,13.39 L276.04,13.35 L276.28,13.31 L276.51,13.28 L276.75,13.24 L276.98,13.20 L277.22,13.17 L277.45,13.13 L277.69,13.10 L277.92,13.06 L278.15,13.03 L278.39,13.00 L278.62,12.96 L278.86,12.93 L279.09,12.90 L279.33,12.87 L279.56,12.84 L279.80,12.80 L280.03,12.77 L280.27,12.74 L280.50,12.71 L280.74,12.69 L280.97,12.66 L281.20,12.63 L281.44,12.60 L281.67,12.58 L281.91,12.55 L282.14,12.52 L282.38,12.50 L282.61,12.47 L282.85,12.45 L283.08,12.42 L283.32,12.40 L283.55,12.38 L283.79,12.35 L284.02,12.33 L284.26,12.31 L284.49,12.29 L284.72,12.27 L284.96,12.25 L285.19,12.23 L285.43,12.21 L285.66,12.19 L285.90,12.17 L286.13,12.15 L286.37,12.13 L286.60,12.12 L286.84,12.10 L287.07,12.08 L287.31,12.07 L287.54,12.05 L287.78,12.04 L288.01,12.02 L288.24,12.01 L288.48,11.99 L288.71,11.98 L288.95,11.97 L289.18,11.96 L289.42,11.94 L289.65,11.93 L289.89,11.92 L290.12,11.91 L290.36,11.90 L290.59,11.89 L290.83,11.88 L291.06,11.87 L291.29,11.87 L291.53,11.86 L291.76,11.85 L292.00,11.85 L292.23,11.84 L292.47,11.83 L292.70,11.83 L292.94,11.82 L293.17,11.82 L293.41,11.81 L293.64,11.81 L293.88,11.81 L294.11,11.81 L294.35,11.80 L294.58,11.80 L294.81,11.80 L295.05,11.80 L295.28,11.80 L295.52,11.80 L295.75,11.80 L295.99,11.80 L296.22,11.80 L296.46,11.81 L296.69,11.81 L296.93,11.81 L297.16,11.81 L297.40,11.82 L297.63,11.82 L297.87,11.83 L298.10,11.83 L298.33,11.84 L298.57,11.84 L298.80,11.85 L299.04,11.86 L299.27,11.86 L299.51,11.87 L299.74,11.88 L299.98,11.89 L300.21,11.90 L300.45,11.91 L300.68,11.92 L300.92,11.93 L301.15,11.94 L301.38,11.95 L301.62,11.96 L301.85,11.97 L302.09,11.99 L302.32,12.00 L302.56,12.01 L302.79,12.03 L303.03,12.04 L303.26,12.06 L303.50,12.07 L303.73,12.09 L303.97,12.10 L304.20,12.12 L304.44,12.14 L304.67,12.15 L304.90,12.17 L305.14,12.19 L305.37,12.21 L305.61,12.23 L305.84,12.25 L306.08,12.27 L306.31,12.29 L306.55,12.31 L306.78,12.33 L307.02,12.35 L307.25,12.37 L307.49,12.40 L307.72,12.42 L307.96,12.44 L308.19,12.47 L308.42,12.49 L308.66,12.52 L308.89,12.54 L309.13,12.57 L309.36,12.60 L309.60,12.62 L309.83,12.65 L310.07,12.68 L310.30,12.71 L310.54,12.73 L310.77,12.76 L311.01,12.79 L311.24,12.82 L311.47,12.85 L311.71,12.88 L311.94,12.91 L312.18,12.95 L312.41,12.98 L312.65,13.01 L312.88,13.04 L313.12,13.08 L313.35,13.11 L313.59,13.15 L313.82,13.18 L314.06,13.22 L314.29,13.25 L314.53,13.29 L314.76,13.33 L314.99,13.36 L315.23,13.40 L315.46,13.44 L315.70,13.48 L315.93,13.52 L316.17,13.55 L316.40,13.59 L316.64,13.63 L316.87,13.68 L317.11,13.72 L317.34,13.76 L317.58,13.80 L317.81,13.84 L318.05,13.89 L318.28,13.93 L318.51,13.97 L318.75,14.02 L318.98,14.06 L319.22,14.11 L319.45,14.15 L319.69,14.20 L319.92,14.25 L320.16,14.29 L320.39,14.34 L320.63,14.39 L320.86,14.44 L321.10,14.49 L321.33,14.54 L321.56,14.59 L321.80,14.64 L322.03,14.69 L322.27,14.74 L322.50,14.79 L322.74,14.84 L322.97,14.90 L323.21,14.95 L323.44,15.00 L323.68,15.06 L323.91,15.11 L324.15,15.17 L324.38,15.22 L324.62,15.28 L324.85,15.33 L325.08,15.39 L325.32,15.45 L325.55,15.51 L325.79,15.56 L326.02,15.62 L326.26,15.68 L326.49,15.74 L326.73,15.80 L326.96,15.86 L327.20,15.92 L327.43,15.98 L327.67,16.05 L327.90,16.11 L328.14,16.17 L328.37,16.24 L328.60,16.30 L328.84,16.36 L329.07,16.43 L329.31,16.49 L329.54,16.56 L329.78,16.63 L330.01,16.69 L330.25,16.76 L330.48,16.83 L330.72,16.90 L330.95,16.97 L331.19,17.03 L331.42,17.10 L331.65,17.17 L331.89,17.24 L332.12,17.32 L332.36,17.39 L332.59,17.46 L332.83,17.53 L333.06,17.61 L333.30,17.68 L333.53,17.75 L333.77,17.83 L334.00,17.90 L334.24,17.98 L334.47,18.05 L334.71,18.13 L334.94,18.21 L335.17,18.28 L335.41,18.36 L335.64,18.44 L335.88,18.52 L336.11,18.60 L336.35,18.68 L336.58,18.76 L336.82,18.84 L337.05,18.92 L337.29,19.00 L337.52,19.09 L337.76,19.17 L337.99,19.25 L338.23,19.34 L338.46,19.42 L338.69,19.51 L338.93,19.59 L339.16,19.68 L339.40,19.76 L339.63,19.85 L339.87,19.94 L340.10,20.03 L340.34,20.11 L340.57,20.20 L340.81,20.29 L341.04,20.38 L341.28,20.47 L341.51,20.56 L341.74,20.66 L341.98,20.75 L342.21,20.84 L342.45,20.93 L342.68,21.03 L342.92,21.12 L343.15,21.22 L343.39,21.31 L343.62,21.41 L343.86,21.50 L344.09,21.60 L344.33,21.70 L344.56,21.79 L344.80,21.89 L345.03,21.99 L345.26,22.09 L345.50,22.19 L345.73,22.29 L345.97,22.39 L346.20,22.49 L346.44,22.59 L346.67,22.70 L346.91,22.80 L347.14,22.90 L347.38,23.01 L347.61,23.11 L347.85,23.22 L348.08,23.32 L348.32,23.43 L348.55,23.54 L348.78,23.64 L349.02,23.75 L349.25,23.86 L349.49,23.97 L349.72,24.08 L349.96,24.19 L350.19,24.30 L350.43,24.41 L350.66,24.52 L350.90,24.64 L351.13,24.75 L351.37,24.86 L351.60,24.98 L351.83,25.09 L352.07,25.21 L352.30,25.32 L352.54,25.44 L352.77,25.55 L353.01,25.67 L353.24,25.79 L353.48,25.91 L353.71,26.03 L353.95,26.15 L354.18,26.27 L354.42,26.39 L354.65,26.51 L354.89,26.63 L355.12,26.75 L355.35,26.88 L355.59,27.00 L355.82,27.12 L356.06,27.25 L356.29,27.38 L356.53,27.50 L356.76,27.63 L357.00,27.76 L357.23,27.88 L357.47,28.01 L357.70,28.14 L357.94,28.27 L358.17,28.40 L358.41,28.53 L358.64,28.66 L358.87,28.79 L359.11,28.93 L359.34,29.06 L359.58,29.19 L359.81,29.33 L360.05,29.46 L360.28,29.60 L360.52,29.74 L360.75,29.87 L360.99,30.01 L361.22,30.15 L361.46,30.29 L361.69,30.43 L361.92,30.57 L362.16,30.71 L362.39,30.85 L362.63,30.99 L362.86,31.14 L363.10,31.28 L363.33,31.42 L363.57,31.57 L363.80,31.71 L364.04,31.86 L364.27,32.00 L364.51,32.15 L364.74,32.30 L364.98,32.45 L365.21,32.60 L365.44,32.75 L365.68,32.90 L365.91,33.05 L366.15,33.20 L366.38,33.35 L366.62,33.51 L366.85,33.66 L367.09,33.82 L367.32,33.97 L367.56,34.13 L367.79,34.28 L368.03,34.44 L368.26,34.60 L368.50,34.76 L368.73,34.92 L368.96,35.08 L369.20,35.24 L369.43,35.40 L369.67,35.56 L369.90,35.73 L370.14,35.89 L370.37,36.05 L370.61,36.22 L370.84,36.39 L371.08,36.55 L371.31,36.72 L371.55,36.89 L371.78,37.06 L372.01,37.23 L372.25,37.40 L372.48,37.57 L372.72,37.74 L372.95,37.91 L373.19,38.09 L373.42,38.26 L373.66,38.44 L373.89,38.61 L374.13,38.79 L374.36,38.97 L374.60,39.14 L374.83,39.32 L375.07,39.50 L375.30,39.68 L375.53,39.86 L375.77,40.05 L376.00,40.23 L376.24,40.41 L376.47,40.60 L376.71,40.78 L376.94,40.97 L377.18,41.16 L377.41,41.35 L377.65,41.53 L377.88,41.72 L378.12,41.91 L378.35,42.11 L378.59,42.30 L378.82,42.49 L379.05,42.68 L379.29,42.88 L379.52,43.08 L379.76,43.27 L379.99,43.47 L380.23,43.67 L380.46,43.87 L380.70,44.07 L380.93,44.27 L381.17,44.47 L381.40,44.67 L381.64,44.88 L381.87,45.08 L382.10,45.29 L382.34,45.49 L382.57,45.70 L382.81,45.91 L383.04,46.12 L383.28,46.33 L383.51,46.54 L383.75,46.75 L383.98,46.97 L384.22,47.18 L384.45,47.40 L384.69,47.61 L384.92,47.83 L385.16,48.05 L385.39,48.27 L385.62,48.49 L385.86,48.71 L386.09,48.93 L386.33,49.16 L386.56,49.38 L386.80,49.61 L387.03,49.84 L387.27,50.06 L387.50,50.29 L387.74,50.52 L387.97,50.76 L388.21,50.99 L388.44,51.22 L388.68,51.46 L388.91,51.69 L389.14,51.93 L389.38,52.17 L389.61,52.41 L389.85,52.65 L390.08,52.89 L390.32,53.13 L390.55,53.38 L390.79,53.62 L391.02,53.87 L391.26,54.12 L391.49,54.37 L391.73,54.62 L391.96,54.87 L392.19,55.12 L392.43,55.38 L392.66,55.63 L392.90,55.89 L393.13,56.15 L393.37,56.41 L393.60,56.67 L393.84,56.93 L394.07,57.20 L394.31,57.46 L394.54,57.73 L394.78,58.00 L395.01,58.27 L395.25,58.54 L395.48,58.81 L395.71,59.09 L395.95,59.36 L396.18,59.64 L396.42,59.92 L396.65,60.20 L396.89,60.48 L397.12,60.77 L397.36,61.05 L397.59,61.34 L397.83,61.63 L398.06,61.92 L398.30,62.21 L398.53,62.51 L398.77,62.80 L399.00,63.10 L399.23,63.40 L399.47,63.70 L399.70,64.00 L399.94,64.31 L400.17,64.61 L400.41,64.92 L400.64,65.23 L400.88,65.54 L401.11,65.86 L401.35,66.17 L401.58,66.49 L401.82,66.81 L402.05,67.13 L402.28,67.46 L402.52,67.78 L402.75,68.11 L402.99,68.44 L403.22,68.78 L403.46,69.11 L403.69,69.45 L403.93,69.79 L404.16,70.13 L404.40,70.48 L404.63,70.82 L404.87,71.17 L405.10,71.53 L405.34,71.88 L405.57,72.24 L405.80,72.60 L406.04,72.96 L406.27,73.32 L406.51,73.69 L406.74,74.06 L406.98,74.44 L407.21,74.81 L407.45,75.19 L407.68,75.57 L407.92,75.96 L408.15,76.35 L408.39,76.74 L408.62,77.13 L408.86,77.53 L409.09,77.93 L409.32,78.34 L409.56,78.75 L409.79,79.16 L410.03,79.57 L410.26,79.99 L410.50,80.42 L410.73,80.84 L410.97,81.27 L411.20,81.71 L411.44,82.15 L411.67,82.59 L411.91,83.04 L412.14,83.49 L412.37,83.94 L412.61,84.40 L412.84,84.87 L413.08,85.34 L413.31,85.81 L413.55,86.29 L413.78,86.78 L414.02,87.27 L414.25,87.76 L414.49,88.26 L414.72,88.77 L414.96,89.28 L415.19,89.80 L415.43,90.33 L415.66,90.86 L415.89,91.39 L416.13,91.94 L416.36,92.49 L416.60,93.05 L416.83,93.61 L417.07,94.18 L417.30,94.76 L417.54,95.35 L417.77,95.95 L418.01,96.55 L418.24,97.17 L418.48,97.79 L418.71,98.42 L418.95,99.06 L419.18,99.72 L419.41,100.38 L419.65,101.05 L419.88,101.74 L420.12,102.43 L420.35,103.14 L420.59,103.86 L420.82,104.59 L421.06,105.34 L421.29,106.10 L421.53,106.88 L421.76,107.68 L422.00,108.48 L422.23,109.31 L422.46,110.16 L422.70,111.02 L422.93,111.90 L423.17,112.81 L423.40,113.74 L423.64,114.69 L423.87,115.66 L424.11,116.66 L424.34,117.69 L424.58,118.76 L424.81,119.85 L425.05,120.97 L425.28,122.14 L425.52,123.34 L425.75,124.58 L425.98,125.87 L426.22,127.21 L426.45,128.61 L426.69,130.06 L426.92,131.58 L427.16,133.16 L427.39,134.89 L427.63,136.75 L427.86,138.72 L428.10,140.81 L428.33,143.03 L428.57,145.39 L428.80,147.93 L429.04,150.68 L429.27,153.66 L429.50,156.92 L429.74,160.54 L429.97,164.60 L430.21,169.22 L430.44,174.59 L430.68,180.99 L430.91,188.88 L431.15,198.95 L431.38,211.59 L431.62,220.24 L431.85,213.24 L432.09,197.75 L432.32,183.36 L432.55,171.42 L432.79,162.59 L433.02,158.93 L433.26,155.83 L433.49,153.13 L433.73,150.75 L433.96,148.63 L434.20,146.70 L434.43,144.94 L434.67,143.32 L434.90,141.82 L435.13,140.43 L435.37,139.13 L435.60,137.91 L435.84,136.76 L436.07,135.67 L436.31,134.64 L436.54,133.66 L436.78,132.72 L437.01,131.84 L437.25,130.98 L437.48,130.17 L437.71,129.39 L437.95,128.64 L438.18,127.92 L438.42,127.22 L438.65,126.55 L438.89,125.91 L439.12,125.28 L439.36,124.68 L439.59,124.10 L439.83,123.53 L440.06,122.98 L440.29,122.45 L440.53,121.93 L440.76,121.43 L441.00,120.95 L441.23,120.47 L441.47,120.01 L441.70,119.56 L441.94,119.13 L442.17,118.70 L442.41,118.29 L442.64,117.88 L442.87,117.49 L443.11,117.10 L443.34,116.73 L443.58,116.36 L443.81,116.01 L444.05,115.66 L444.28,115.32 L444.52,114.98 L444.75,114.66 L444.99,114.34 L445.22,114.03 L445.45,113.72 L445.69,113.43 L445.92,113.13 L446.16,112.85 L446.39,112.57 L446.63,112.30 L446.86,112.03 L447.10,111.77 L447.33,111.51 L447.57,111.26 L447.80,111.02 L448.03,110.78 L448.27,110.54 L448.50,110.31 L448.74,110.09 L448.97,109.87 L449.21,109.65 L449.44,109.44 L449.68,109.23 L449.91,109.03 L450.15,108.83 L450.38,108.63 L450.61,108.44 L450.85,108.26 L451.08,108.07 L451.32,107.90 L451.55,107.72 L451.79,107.55 L452.02,107.38 L452.26,107.22 L452.49,107.06 L452.73,106.90 L452.96,106.75 L453.19,106.60 L453.43,106.45 L453.66,106.30 L453.90,106.16 L454.13,106.03 L454.37,105.89 L454.60,105.76 L454.84,105.63 L455.07,105.51 L455.31,105.39 L455.54,105.27 L455.77,105.15 L456.01,105.04 L456.24,104.93 L456.48,104.82 L456.71,104.71 L456.95,104.61 L457.18,104.51 L457.42,104.42 L457.65,104.32 L457.89,104.23 L458.12,104.14 L458.35,104.06 L458.59,103.97 L458.82,103.89 L459.06,103.81 L459.29,103.74 L459.53,103.67 L459.76,103.59 L460.00,103.53 L460.23,103.46 L460.47,103.40 L460.70,103.34 L460.94,103.28 L461.17,103.22 L461.40,103.17 L461.64,103.12 L461.87,103.07 L462.11,103.02 L462.34,102.98 L462.58,102.93 L462.81,102.89 L463.05,102.86 L463.28,102.82 L463.52,102.79 L463.75,102.76 L463.98,102.73 L464.22,102.70 L464.45,102.68 L464.69,102.66 L464.92,102.64 L465.16,102.62 L465.39,102.61 L465.63,102.60 L465.86,102.59 L466.10,102.58 L466.33,102.57 L466.56,102.57 L466.80,102.57 L467.03,102.57 L467.27,102.57 L467.50,102.58 L467.74,102.59 L467.97,102.60 L468.21,102.62 L468.44,102.63 L468.68,102.65 L468.91,102.67 L469.14,102.70 L469.38,102.73 L469.61,102.75 L469.85,102.79 L470.08,102.82 L470.32,102.86 L470.55,102.90 L470.79,102.94 L471.02,102.99 L471.26,103.04 L471.49,103.09 L471.72,103.14 L471.96,103.19 L472.19,103.25 L472.43,103.31 L472.66,103.38 L472.90,103.44 L473.13,103.51 L473.37,103.58 L473.60,103.66 L473.84,103.73 L474.07,103.81 L474.30,103.90 L474.54,103.98 L474.77,104.07 L475.01,104.16 L475.24,104.25 L475.48,104.35 L475.71,104.44 L475.95,104.55 L476.18,104.65 L476.42,104.76 L476.65,104.86 L476.88,104.98 L477.12,105.09 L477.35,105.21 L477.59,105.33 L477.82,105.45 L478.06,105.58 L478.29,105.71 L478.53,105.84 L478.76,105.97 L479.00,106.11 L479.23,106.25 L479.46,106.39 L479.70,106.54 L479.93,106.68 L480.17,106.84 L480.40,106.99 L480.64,107.15 L480.87,107.31 L481.11,107.47 L481.34,107.63 L481.58,107.80 L481.81,107.98 L482.04,108.15 L482.28,108.33 L482.51,108.51 L482.75,108.69 L482.98,108.88 L483.22,109.07 L483.45,109.26 L483.69,109.46 L483.92,109.66 L484.16,109.86 L484.39,110.07 L484.62,110.27 L484.86,110.49 L485.09,110.70 L485.33,110.92 L485.56,111.14 L485.80,111.37 L486.03,111.60 L486.27,111.83 L486.50,112.06 L486.74,112.30 L486.97,112.54 L487.20,112.79 L487.44,113.04 L487.67,113.29 L487.91,113.55 L488.14,113.81 L488.38,114.07 L488.61,114.34 L488.85,114.61 L489.08,114.88 L489.32,115.16 L489.55,115.44 L489.78,115.73 L490.02,116.02 L490.25,116.31 L490.49,116.61 L490.72,116.91 L490.96,117.22 L491.19,117.53 L491.43,117.84 L491.66,118.16 L491.90,118.48 L492.13,118.81 L492.36,119.14 L492.60,119.48 L492.83,119.82 L493.07,120.16 L493.30,120.51 L493.54,120.86 L493.77,121.22 L494.01,121.58 L494.24,121.95 L494.48,122.33 L494.71,122.70 L494.94,123.09 L495.18,123.48 L495.41,123.87 L495.65,124.27 L495.88,124.67 L496.12,125.08 L496.35,125.50 L496.59,125.92 L496.82,126.35 L497.06,126.78 L497.29,127.22 L497.52,127.67 L497.76,128.12 L497.99,128.58 L498.23,129.05 L498.46,129.52 L498.70,130.00 L498.93,130.49 L499.17,130.98 L499.40,131.48 L499.64,131.99 L499.87,132.51 L500.10,133.03 L500.34,133.57 L500.57,134.11 L500.81,134.66 L501.04,135.22 L501.28,135.79 L501.51,136.37 L501.75,136.96 L501.98,137.56 L502.22,138.17 L502.45,138.79 L502.68,139.43 L502.92,140.07 L503.15,140.73 L503.39,141.40 L503.62,142.08 L503.86,142.78 L504.09,143.49 L504.33,144.22 L504.56,144.96 L504.80,145.72 L505.03,146.49 L505.26,147.29 L505.50,148.10 L505.73,148.93 L505.97,149.79 L506.20,150.66 L506.44,151.56 L506.67,152.49 L506.91,153.44 L507.14,154.42 L507.38,155.43 L507.61,156.48 L507.84,157.56 L508.08,158.67 L508.31,159.83 L508.55,161.03 L508.78,162.28 L509.02,163.58 L509.25,164.94 L509.49,166.37 L509.72,167.86 L509.96,169.44 L510.19,171.10 L510.43,172.87 L510.66,174.75 L510.89,176.77 L511.13,178.95 L511.36,181.31 L511.60,183.91 L511.83,186.78 L512.07,190.01 L512.30,194.89 L512.54,202.69 L512.77,211.90 L513.01,223.25 L513.24,238.38 L513.47,262.33 L513.71,324.45 L513.94,265.05 L514.18,258.48 L514.41,257.99 L514.65,259.46 L514.88,258.93 L515.12,249.97 L515.35,242.36 L515.59,235.77 L515.82,229.95 L516.05,224.74 L516.29,220.03 L516.52,215.74 L516.76,211.79 L516.99,208.14 L517.23,204.74 L517.46,201.57 L517.70,198.59 L517.93,195.78 L518.17,193.13 L518.40,190.62 L518.63,188.24 L518.87,185.97 L519.10,183.80 L519.34,181.73 L519.57,179.75 L519.81,177.85 L520.04,176.02 L520.28,174.27 L520.51,172.58 L520.75,170.95 L520.98,169.38 L521.21,167.86 L521.45,166.39 L521.68,164.97 L521.92,163.60 L522.15,162.26 L522.39,160.97 L522.62,159.71 L522.86,158.49 L523.09,157.31 L523.33,156.16 L523.56,155.04 L523.79,153.95 L524.03,152.89 L524.26,151.85 L524.50,150.85 L524.73,149.87 L524.97,148.91 L525.20,147.97 L525.44,147.06 L525.67,146.17 L525.91,145.30 L526.14,144.46 L526.37,143.63 L526.61,142.82 L526.84,142.03 L527.08,141.25 L527.31,140.50 L527.55,139.76 L527.78,139.03 L528.02,138.33 L528.25,137.63 L528.49,136.96 L528.72,136.29 L528.95,135.64 L529.19,135.01 L529.42,134.39 L529.66,133.78 L529.89,133.18 L530.13,132.60 L530.36,132.03 L530.60,131.47 L530.83,130.92 L531.07,130.38 L531.30,129.86" stroke="#EDB120" stroke-width="3.2" stroke-dasharray="2.4 1.85" stroke-dashoffset="2.95"/>
<path d="M62.20,136.81 L62.36,137.15 L62.60,137.67 L62.83,138.20 L63.07,138.75 L63.30,139.32 L63.54,139.91 L63.78,140.51 L64.01,141.14 L64.25,141.78 L64.48,142.45 L64.72,143.13 L64.95,143.84 L65.19,144.57 L65.43,145.32 L65.66,146.10 L65.90,146.90 L66.13,147.73 L66.37,148.58 L66.60,149.46 L66.84,150.36 L67.07,151.30 L67.31,152.26 L67.55,153.26 L67.78,154.29 L68.02,155.35 L68.25,156.45 L68.49,157.58 L68.72,158.76 L68.96,159.97 L69.20,161.23 L69.43,162.53 L69.67,163.88 L69.90,165.27 L70.14,166.72 L70.37,168.23 L70.61,169.79 L70.85,171.42 L71.08,173.12 L71.32,174.89 L71.55,176.73 L71.79,178.66 L72.02,180.68 L72.26,182.80 L72.50,185.02 L72.73,187.36 L72.97,189.83 L73.20,192.44 L73.44,195.21 L73.67,198.16 L73.91,201.30 L74.15,204.67 L74.38,208.29 L74.62,212.21 L74.85,216.48 L75.09,221.17 L75.32,226.36 L75.56,232.16 L75.80,238.75 L76.03,246.35 L76.27,255.32 L76.50,266.23 L76.74,275.45 L76.97,273.12 L77.21,275.73 L77.45,324.45 L77.68,251.93 L77.91,236.43 L78.15,228.58 L78.38,223.71 L78.62,220.38 L78.85,217.97 L79.09,214.31 L79.32,209.24 L79.56,204.78 L79.79,200.79 L80.03,197.18 L80.26,193.89 L80.49,190.86 L80.73,188.05 L80.96,185.45 L81.20,183.01 L81.43,180.72 L81.67,178.56 L81.90,176.52 L82.14,174.59 L82.37,172.76 L82.61,171.01 L82.84,169.33 L83.07,167.74 L83.31,166.21 L83.54,164.74 L83.78,163.32 L84.01,161.96 L84.25,160.65 L84.48,159.39 L84.72,158.16 L84.95,156.98 L85.19,155.84 L85.42,154.73 L85.66,153.66 L85.89,152.61 L86.12,151.60 L86.36,150.62 L86.59,149.66 L86.83,148.73 L87.06,147.82 L87.30,146.94 L87.53,146.08 L87.77,145.24 L88.00,144.42 L88.24,143.62 L88.47,142.83 L88.70,142.07 L88.94,141.32 L89.17,140.59 L89.41,139.88 L89.64,139.18 L89.88,138.50 L90.11,137.83 L90.35,137.17 L90.58,136.53 L90.82,135.90 L91.05,135.28 L91.28,134.68 L91.52,134.09 L91.75,133.50 L91.99,132.93 L92.22,132.37 L92.46,131.82 L92.69,131.28 L92.93,130.75 L93.16,130.23 L93.40,129.72 L93.63,129.22 L93.86,128.73 L94.10,128.24 L94.33,127.76 L94.57,127.30 L94.80,126.84 L95.04,126.38 L95.27,125.94 L95.51,125.50 L95.74,125.07 L95.98,124.64 L96.21,124.23 L96.44,123.82 L96.68,123.41 L96.91,123.02 L97.15,122.63 L97.38,122.24 L97.62,121.86 L97.85,121.49 L98.09,121.12 L98.32,120.76 L98.56,120.41 L98.79,120.06 L99.02,119.71 L99.26,119.37 L99.49,119.04 L99.73,118.71 L99.96,118.39 L100.20,118.07 L100.43,117.75 L100.67,117.44 L100.90,117.14 L101.14,116.84 L101.37,116.54 L101.60,116.25 L101.84,115.97 L102.07,115.68 L102.31,115.41 L102.54,115.13 L102.78,114.86 L103.01,114.60 L103.25,114.34 L103.48,114.08 L103.72,113.83 L103.95,113.58 L104.18,113.33 L104.42,113.09 L104.65,112.85 L104.89,112.62 L105.12,112.39 L105.36,112.16 L105.59,111.94 L105.83,111.72 L106.06,111.50 L106.30,111.29 L106.53,111.08 L106.76,110.87 L107.00,110.67 L107.23,110.47 L107.47,110.27 L107.70,110.08 L107.94,109.89 L108.17,109.70 L108.41,109.52 L108.64,109.34 L108.88,109.16 L109.11,108.99 L109.34,108.81 L109.58,108.65 L109.81,108.48 L110.05,108.32 L110.28,108.16 L110.52,108.00 L110.75,107.85 L110.99,107.70 L111.22,107.55 L111.46,107.40 L111.69,107.26 L111.92,107.12 L112.16,106.98 L112.39,106.85 L112.63,106.72 L112.86,106.59 L113.10,106.46 L113.33,106.34 L113.57,106.22 L113.80,106.10 L114.04,105.98 L114.27,105.87 L114.50,105.76 L114.74,105.65 L114.97,105.54 L115.21,105.44 L115.44,105.34 L115.68,105.24 L115.91,105.15 L116.15,105.05 L116.38,104.96 L116.62,104.87 L116.85,104.79 L117.08,104.70 L117.32,104.62 L117.55,104.54 L117.79,104.47 L118.02,104.39 L118.26,104.32 L118.49,104.25 L118.73,104.19 L118.96,104.12 L119.20,104.06 L119.43,104.00 L119.66,103.94 L119.90,103.89 L120.13,103.83 L120.37,103.78 L120.60,103.74 L120.84,103.69 L121.07,103.65 L121.31,103.60 L121.54,103.56 L121.78,103.53 L122.01,103.49 L122.24,103.46 L122.48,103.43 L122.71,103.40 L122.95,103.38 L123.18,103.35 L123.42,103.33 L123.65,103.31 L123.89,103.30 L124.12,103.28 L124.36,103.27 L124.59,103.26 L124.82,103.25 L125.06,103.25 L125.29,103.24 L125.53,103.24 L125.76,103.24 L126.00,103.25 L126.24,103.26 L126.47,103.28 L126.71,103.30 L126.95,103.33 L127.18,103.36 L127.42,103.39 L127.65,103.43 L127.89,103.48 L128.13,103.52 L128.36,103.58 L128.60,103.64 L128.84,103.70 L129.07,103.77 L129.31,103.84 L129.54,103.92 L129.78,104.00 L130.02,104.09 L130.25,104.18 L130.49,104.28 L130.73,104.38 L130.96,104.49 L131.20,104.60 L131.43,104.72 L131.67,104.84 L131.91,104.97 L132.14,105.10 L132.38,105.24 L132.62,105.38 L132.85,105.53 L133.09,105.68 L133.32,105.84 L133.56,106.00 L133.80,106.17 L134.03,106.35 L134.27,106.53 L134.51,106.72 L134.74,106.91 L134.98,107.10 L135.21,107.31 L135.45,107.52 L135.69,107.73 L135.92,107.95 L136.16,108.18 L136.40,108.41 L136.63,108.65 L136.87,108.90 L137.10,109.15 L137.34,109.41 L137.58,109.67 L137.81,109.94 L138.05,110.22 L138.29,110.51 L138.52,110.80 L138.76,111.10 L138.99,111.40 L139.23,111.72 L139.47,112.04 L139.70,112.37 L139.94,112.70 L140.18,113.05 L140.41,113.40 L140.65,113.76 L140.88,114.13 L141.12,114.50 L141.36,114.89 L141.59,115.28 L141.83,115.69 L142.07,116.10 L142.30,116.52 L142.54,116.95 L142.77,117.39 L143.01,117.84 L143.25,118.31 L143.48,118.78 L143.72,119.26 L143.96,119.76 L144.19,120.26 L144.43,120.78 L144.66,121.31 L144.90,121.85 L145.14,122.41 L145.37,122.98 L145.61,123.56 L145.84,124.16 L146.08,124.77 L146.32,125.40 L146.55,126.04 L146.79,126.70 L147.03,127.37 L147.26,128.07 L147.50,128.78 L147.73,129.51 L147.97,130.26 L148.21,131.03 L148.44,131.82 L148.68,132.63 L148.92,133.47 L149.15,134.33 L149.39,135.22 L149.62,136.13 L149.86,137.08 L150.10,138.05 L150.33,139.05 L150.57,140.09 L150.81,141.16 L151.04,142.27 L151.28,143.42 L151.51,144.61 L151.75,145.84 L151.99,147.13 L152.22,148.46 L152.46,149.85 L152.70,151.30 L152.93,152.82 L153.17,154.40 L153.40,156.07 L153.64,157.81 L153.88,159.65 L154.11,161.59 L154.35,163.65 L154.59,165.83 L154.82,168.15 L155.06,170.64 L155.29,173.31 L155.53,176.20 L155.77,179.34 L156.00,182.77 L156.24,186.56 L156.48,190.79 L156.71,195.57 L156.95,201.04 L157.18,207.43 L157.42,213.04 L157.66,217.37 L157.89,224.05 L158.13,235.68 L158.37,251.83 L158.60,214.58 L158.84,196.63 L159.07,186.23 L159.30,179.04 L159.54,173.62 L159.77,169.30 L160.01,165.75 L160.24,162.75 L160.48,160.16 L160.71,157.89 L160.95,155.89 L161.18,154.09 L161.42,152.47 L161.65,151.00 L161.89,149.65 L162.12,148.41 L162.36,147.26 L162.59,146.20 L162.83,144.76 L163.06,142.85 L163.30,141.02 L163.53,139.28 L163.77,137.60 L164.00,136.00 L164.24,134.45 L164.47,132.97 L164.71,131.53 L164.94,130.15 L165.18,128.81 L165.41,127.51 L165.65,126.26 L165.88,125.04 L166.12,123.85 L166.35,122.70 L166.59,121.58 L166.82,120.49 L167.06,119.43 L167.29,118.39 L167.52,117.38 L167.76,116.39 L167.99,115.42 L168.23,114.47 L168.46,113.55 L168.70,112.64 L168.93,111.76 L169.17,110.89 L169.40,110.03 L169.64,109.20 L169.87,108.38 L170.11,107.57 L170.34,106.78 L170.58,106.01 L170.81,105.24 L171.05,104.49 L171.28,103.75 L171.52,103.03 L171.75,102.31 L171.99,101.61 L172.22,100.92 L172.46,100.24 L172.69,99.57 L172.93,98.90 L173.16,98.25 L173.40,97.61 L173.63,96.97 L173.87,96.35 L174.10,95.73 L174.34,95.12 L174.57,94.52 L174.81,93.93 L175.04,93.34 L175.27,92.76 L175.51,92.19 L175.74,91.63 L175.98,91.07 L176.21,90.52 L176.45,89.97 L176.68,89.43 L176.92,88.90 L177.15,88.37 L177.39,87.85 L177.62,87.34 L177.86,86.83 L178.09,86.32 L178.33,85.82 L178.56,85.33 L178.80,84.84 L179.03,84.36 L179.27,83.88 L179.50,83.41 L179.74,82.94 L179.97,82.47 L180.21,82.01 L180.44,81.55 L180.68,81.10 L180.91,80.66 L181.15,80.21 L181.38,79.77 L181.62,79.34 L181.85,78.91 L182.09,78.48 L182.32,78.05 L182.56,77.63 L182.79,77.22 L183.02,76.80 L183.26,76.39 L183.49,75.99 L183.73,75.58 L183.96,75.18 L184.20,74.79 L184.43,74.39 L184.67,74.00 L184.90,73.62 L185.14,73.23 L185.37,72.85 L185.61,72.47 L185.84,72.10 L186.08,71.73 L186.31,71.36 L186.55,70.99 L186.78,70.63 L187.02,70.27 L187.25,69.91 L187.49,69.55 L187.72,69.20 L187.96,68.85 L188.19,68.50 L188.43,68.15 L188.66,67.81 L188.90,67.47 L189.13,67.13 L189.37,66.79 L189.60,66.46 L189.84,66.13 L190.07,65.80 L190.31,65.47 L190.54,65.14 L190.78,64.82 L191.01,64.50 L191.24,64.18 L191.48,63.86 L191.71,63.55 L191.95,63.24 L192.18,62.93 L192.42,62.62 L192.65,62.31 L192.89,62.00 L193.12,61.70 L193.36,61.40 L193.59,61.10 L193.83,60.80 L194.06,60.51 L194.30,60.21 L194.53,59.92 L194.77,59.63 L195.00,59.34 L195.24,59.06 L195.47,58.77 L195.71,58.49 L195.94,58.21 L196.18,57.93 L196.41,57.65 L196.65,57.37 L196.88,57.10 L197.12,56.82 L197.35,56.55 L197.59,56.28 L197.82,56.01 L198.06,55.74 L198.29,55.48 L198.53,55.21 L198.76,54.95 L198.99,54.69 L199.23,54.43 L199.46,54.17 L199.70,53.91 L199.93,53.66 L200.17,53.40 L200.40,53.15 L200.64,52.90 L200.87,52.65 L201.11,52.40 L201.34,52.15 L201.58,51.90 L201.81,51.66 L202.05,51.41 L202.28,51.17 L202.52,50.93 L202.75,50.69 L202.99,50.45 L203.22,50.21 L203.46,49.98 L203.69,49.74 L203.93,49.51 L204.16,49.28 L204.40,49.05 L204.63,48.82 L204.87,48.59 L205.10,48.36 L205.34,48.13 L205.57,47.91 L205.81,47.68 L206.04,47.46 L206.28,47.24 L206.51,47.02 L206.74,46.80 L206.98,46.58 L207.21,46.36 L207.45,46.14 L207.68,45.93 L207.92,45.71 L208.15,45.50 L208.39,45.29 L208.62,45.08 L208.86,44.87 L209.09,44.66 L209.33,44.45 L209.56,44.24 L209.80,44.04 L210.03,43.83 L210.27,43.63 L210.50,43.42 L210.74,43.22 L210.97,43.02 L211.21,42.82 L211.44,42.62 L211.68,42.42 L211.91,42.23 L212.15,42.03 L212.38,41.83 L212.62,41.64 L212.85,41.45 L213.09,41.25 L213.32,41.06 L213.56,40.87 L213.79,40.68 L214.03,40.49 L214.26,40.30 L214.50,40.12 L214.73,39.93 L214.96,39.75 L215.20,39.56 L215.43,39.38 L215.67,39.19 L215.90,39.01 L216.14,38.83 L216.37,38.65 L216.61,38.47 L216.84,38.29 L217.08,38.12 L217.31,37.94 L217.55,37.76 L217.78,37.59 L218.02,37.41 L218.25,37.24 L218.49,37.07 L218.72,36.89 L218.96,36.72 L219.19,36.55 L219.43,36.38 L219.66,36.21 L219.90,36.05 L220.13,35.88 L220.37,35.71 L220.60,35.55 L220.84,35.38 L221.07,35.22 L221.31,35.06 L221.54,34.89 L221.78,34.73 L222.01,34.57 L222.25,34.41 L222.48,34.25 L222.71,34.09 L222.95,33.93 L223.18,33.78 L223.42,33.62 L223.65,33.46 L223.89,33.31 L224.12,33.15 L224.36,33.00 L224.59,32.85 L224.83,32.70 L225.06,32.54 L225.30,32.39 L225.53,32.24 L225.77,32.09 L226.00,31.94 L226.24,31.80 L226.47,31.65 L226.71,31.50 L226.94,31.36 L227.18,31.21 L227.41,31.07 L227.65,30.92 L227.88,30.78 L228.12,30.64 L228.35,30.50 L228.59,30.35 L228.82,30.21 L229.06,30.07 L229.29,29.94 L229.53,29.80 L229.76,29.66 L230.00,29.52 L230.23,29.39 L230.46,29.25 L230.70,29.11 L230.93,28.98 L231.17,28.85 L231.40,28.71 L231.64,28.58 L231.87,28.45 L232.11,28.32 L232.34,28.19 L232.58,28.05 L232.81,27.93 L233.05,27.80 L233.28,27.67 L233.52,27.54 L233.75,27.41 L233.99,27.29 L234.22,27.16 L234.46,27.04 L234.69,26.91 L234.93,26.79 L235.16,26.66 L235.40,26.54 L235.63,26.42 L235.87,26.30 L236.10,26.18 L236.34,26.06 L236.57,25.94 L236.81,25.82 L237.04,25.70 L237.28,25.58 L237.51,25.46 L237.75,25.35 L237.98,25.23 L238.22,25.12 L238.45,25.00 L238.68,24.89 L238.92,24.77 L239.15,24.66 L239.39,24.55 L239.62,24.43 L239.86,24.32 L240.09,24.21 L240.33,24.10 L240.56,23.99 L240.80,23.88 L241.03,23.77 L241.27,23.66 L241.50,23.56 L241.74,23.45 L241.97,23.34 L242.21,23.24 L242.44,23.13 L242.68,23.03 L242.91,22.92 L243.15,22.82 L243.38,22.72 L243.62,22.61 L243.85,22.51 L244.09,22.41 L244.32,22.31 L244.56,22.21 L244.79,22.11 L245.03,22.01 L245.26,21.91 L245.50,21.81 L245.73,21.71 L245.97,21.62 L246.20,21.52 L246.43,21.42 L246.67,21.33 L246.90,21.23 L247.14,21.14 L247.37,21.04 L247.61,20.95 L247.84,20.86 L248.08,20.77 L248.31,20.67 L248.55,20.58 L248.78,20.49 L249.02,20.40 L249.25,20.31 L249.49,20.22 L249.72,20.13 L249.96,20.04 L250.19,19.96 L250.43,19.87 L250.66,19.78 L250.90,19.70 L251.13,19.61 L251.37,19.53 L251.60,19.44 L251.84,19.36 L252.07,19.27 L252.31,19.19 L252.54,19.11 L252.78,19.02 L253.01,18.94 L253.25,18.86 L253.48,18.78 L253.72,18.70 L253.95,18.62 L254.19,18.54 L254.42,18.46 L254.65,18.39 L254.89,18.31 L255.12,18.23 L255.36,18.15 L255.59,18.08 L255.83,18.00 L256.06,17.93 L256.30,17.85 L256.53,17.78 L256.77,17.70 L257.00,17.63 L257.24,17.56 L257.47,17.49 L257.71,17.41 L257.94,17.34 L258.18,17.27 L258.41,17.20 L258.65,17.13 L258.88,17.06 L259.12,16.99 L259.35,16.92 L259.59,16.86 L259.82,16.79 L260.06,16.72 L260.29,16.66 L260.53,16.59 L260.76,16.52 L261.00,16.46 L261.23,16.39 L261.47,16.33 L261.70,16.27 L261.94,16.20 L262.17,16.14 L262.40,16.08 L262.64,16.02 L262.87,15.95 L263.11,15.89 L263.34,15.83 L263.58,15.77 L263.81,15.71 L264.05,15.65 L264.28,15.60 L264.52,15.54 L264.75,15.48 L264.99,15.42 L265.22,15.37 L265.46,15.31 L265.69,15.26 L265.93,15.20 L266.16,15.14 L266.40,15.09 L266.63,15.04 L266.87,14.98 L267.10,14.93 L267.34,14.88 L267.57,14.83 L267.81,14.77 L268.04,14.72 L268.28,14.67 L268.51,14.62 L268.75,14.57 L268.98,14.52 L269.22,14.47 L269.45,14.43 L269.69,14.38 L269.92,14.33 L270.15,14.28 L270.39,14.24 L270.62,14.19 L270.86,14.14 L271.09,14.10 L271.33,14.05 L271.56,14.01 L271.80,13.97 L272.03,13.92 L272.27,13.88 L272.50,13.84 L272.74,13.80 L272.97,13.75 L273.21,13.71 L273.44,13.67 L273.68,13.63 L273.91,13.59 L274.15,13.55 L274.38,13.51 L274.62,13.48 L274.85,13.44 L275.09,13.40 L275.32,13.36 L275.56,13.33 L275.79,13.29 L276.03,13.25 L276.26,13.22 L276.50,13.18 L276.73,13.15 L276.97,13.11 L277.20,13.08 L277.44,13.05 L277.67,13.01 L277.91,12.98 L278.14,12.95 L278.37,12.92 L278.61,12.89 L278.84,12.86 L279.08,12.83 L279.31,12.80 L279.55,12.77 L279.78,12.74 L280.02,12.71 L280.25,12.68 L280.49,12.66 L280.72,12.63 L280.96,12.60 L281.19,12.58 L281.43,12.55 L281.66,12.53 L281.90,12.50 L282.13,12.48 L282.37,12.45 L282.60,12.43 L282.84,12.41 L283.07,12.38 L283.31,12.36 L283.54,12.34 L283.78,12.32 L284.01,12.30 L284.25,12.28 L284.48,12.26 L284.72,12.24 L284.95,12.22 L285.19,12.20 L285.42,12.18 L285.66,12.16 L285.89,12.14 L286.12,12.13 L286.36,12.11 L286.59,12.09 L286.83,12.08 L287.06,12.06 L287.30,12.05 L287.53,12.03 L287.77,12.02 L288.00,12.01 L288.24,11.99 L288.47,11.98 L288.71,11.97 L288.94,11.96 L289.18,11.95 L289.41,11.93 L289.65,11.92 L289.88,11.91 L290.12,11.90 L290.35,11.89 L290.59,11.89 L290.82,11.88 L291.06,11.87 L291.29,11.86 L291.53,11.86 L291.76,11.85 L292.00,11.84 L292.23,11.84 L292.47,11.83 L292.70,11.83 L292.94,11.82 L293.17,11.82 L293.41,11.81 L293.64,11.81 L293.87,11.81 L294.11,11.81 L294.34,11.80 L294.58,11.80 L294.81,11.80 L295.05,11.80 L295.28,11.80 L295.52,11.80 L295.75,11.80 L295.99,11.80 L296.22,11.80 L296.46,11.81 L296.69,11.81 L296.93,11.81 L297.16,11.81 L297.40,11.82 L297.63,11.82 L297.87,11.83 L298.10,11.83 L298.34,11.84 L298.57,11.84 L298.81,11.85 L299.04,11.86 L299.28,11.86 L299.51,11.87 L299.75,11.88 L299.98,11.89 L300.22,11.90 L300.45,11.90 L300.69,11.91 L300.92,11.92 L301.16,11.93 L301.39,11.95 L301.62,11.96 L301.86,11.97 L302.09,11.98 L302.33,11.99 L302.56,12.01 L302.80,12.02 L303.03,12.03 L303.27,12.05 L303.50,12.06 L303.74,12.08 L303.97,12.10 L304.21,12.11 L304.44,12.13 L304.68,12.15 L304.91,12.16 L305.15,12.18 L305.38,12.20 L305.62,12.22 L305.85,12.24 L306.09,12.26 L306.32,12.28 L306.56,12.30 L306.79,12.32 L307.03,12.34 L307.26,12.36 L307.50,12.38 L307.73,12.41 L307.97,12.43 L308.20,12.45 L308.44,12.48 L308.67,12.50 L308.91,12.53 L309.14,12.55 L309.38,12.58 L309.61,12.60 L309.84,12.63 L310.08,12.66 L310.31,12.69 L310.55,12.71 L310.78,12.74 L311.02,12.77 L311.25,12.80 L311.49,12.83 L311.72,12.86 L311.96,12.89 L312.19,12.92 L312.43,12.95 L312.66,12.98 L312.90,13.02 L313.13,13.05 L313.37,13.08 L313.60,13.12 L313.84,13.15 L314.07,13.18 L314.31,13.22 L314.54,13.26 L314.78,13.29 L315.01,13.33 L315.25,13.36 L315.48,13.40 L315.72,13.44 L315.95,13.48 L316.19,13.52 L316.42,13.55 L316.66,13.59 L316.89,13.63 L317.13,13.67 L317.36,13.71 L317.59,13.76 L317.83,13.80 L318.06,13.84 L318.30,13.88 L318.53,13.93 L318.77,13.97 L319.00,14.01 L319.24,14.06 L319.47,14.10 L319.71,14.15 L319.94,14.19 L320.18,14.24 L320.41,14.29 L320.65,14.33 L320.88,14.38 L321.12,14.43 L321.35,14.48 L321.59,14.52 L321.82,14.57 L322.06,14.62 L322.29,14.67 L322.53,14.72 L322.76,14.78 L323.00,14.83 L323.23,14.88 L323.47,14.93 L323.70,14.98 L323.94,15.04 L324.17,15.09 L324.41,15.15 L324.64,15.20 L324.88,15.26 L325.11,15.31 L325.34,15.37 L325.58,15.42 L325.81,15.48 L326.05,15.54 L326.28,15.60 L326.52,15.66 L326.75,15.71 L326.99,15.77 L327.22,15.83 L327.46,15.89 L327.69,15.95 L327.93,16.02 L328.16,16.08 L328.40,16.14 L328.63,16.20 L328.87,16.26 L329.10,16.33 L329.34,16.39 L329.57,16.46 L329.81,16.52 L330.04,16.59 L330.28,16.65 L330.51,16.72 L330.75,16.79 L330.98,16.85 L331.22,16.92 L331.45,16.99 L331.69,17.06 L331.92,17.13 L332.16,17.20 L332.39,17.27 L332.63,17.34 L332.86,17.41 L333.09,17.48 L333.33,17.55 L333.56,17.62 L333.80,17.70 L334.03,17.77 L334.27,17.84 L334.50,17.92 L334.74,17.99 L334.97,18.07 L335.21,18.15 L335.44,18.22 L335.68,18.30 L335.91,18.38 L336.15,18.45 L336.38,18.53 L336.62,18.61 L336.85,18.69 L337.09,18.77 L337.32,18.85 L337.56,18.93 L337.79,19.01 L338.03,19.09 L338.26,19.18 L338.50,19.26 L338.73,19.34 L338.97,19.43 L339.20,19.51 L339.44,19.59 L339.67,19.68 L339.91,19.76 L340.14,19.85 L340.38,19.94 L340.61,20.02 L340.84,20.11 L341.08,20.20 L341.31,20.29 L341.55,20.38 L341.78,20.47 L342.02,20.56 L342.25,20.65 L342.49,20.74 L342.72,20.83 L342.96,20.92 L343.19,21.02 L343.43,21.11 L343.66,21.20 L343.90,21.30 L344.13,21.39 L344.37,21.49 L344.60,21.58 L344.84,21.68 L345.07,21.78 L345.31,21.87 L345.54,21.97 L345.78,22.07 L346.01,22.17 L346.25,22.27 L346.48,22.37 L346.72,22.47 L346.95,22.57 L347.19,22.67 L347.42,22.78 L347.66,22.88 L347.89,22.98 L348.13,23.08 L348.36,23.19 L348.59,23.29 L348.83,23.40 L349.06,23.50 L349.30,23.61 L349.53,23.72 L349.77,23.83 L350.00,23.93 L350.24,24.04 L350.47,24.15 L350.71,24.26 L350.94,24.37 L351.18,24.48 L351.41,24.59 L351.65,24.71 L351.88,24.82 L352.12,24.93 L352.35,25.04 L352.59,25.16 L352.82,25.27 L353.06,25.39 L353.29,25.50 L353.53,25.62 L353.76,25.74 L354.00,25.86 L354.23,25.97 L354.47,26.09 L354.70,26.21 L354.94,26.33 L355.17,26.45 L355.41,26.57 L355.64,26.69 L355.88,26.82 L356.11,26.94 L356.34,27.06 L356.58,27.19 L356.81,27.31 L357.05,27.43 L357.28,27.56 L357.52,27.69 L357.75,27.81 L357.99,27.94 L358.22,28.07 L358.46,28.20 L358.69,28.33 L358.93,28.46 L359.16,28.59 L359.40,28.72 L359.63,28.85 L359.87,28.98 L360.10,29.11 L360.34,29.25 L360.57,29.38 L360.81,29.52 L361.04,29.65 L361.28,29.79 L361.51,29.92 L361.75,30.06 L361.98,30.20 L362.22,30.34 L362.45,30.48 L362.69,30.62 L362.92,30.76 L363.16,30.90 L363.39,31.04 L363.63,31.18 L363.86,31.32 L364.09,31.47 L364.33,31.61 L364.56,31.76 L364.80,31.90 L365.03,32.05 L365.27,32.19 L365.50,32.34 L365.74,32.49 L365.97,32.64 L366.21,32.79 L366.44,32.94 L366.68,33.09 L366.91,33.24 L367.15,33.39 L367.38,33.55 L367.62,33.70 L367.85,33.85 L368.09,34.01 L368.32,34.16 L368.56,34.32 L368.79,34.48 L369.03,34.64 L369.26,34.79 L369.50,34.95 L369.73,35.11 L369.97,35.27 L370.20,35.43 L370.44,35.60 L370.67,35.76 L370.91,35.92 L371.14,36.09 L371.38,36.25 L371.61,36.42 L371.84,36.58 L372.08,36.75 L372.31,36.92 L372.55,37.09 L372.78,37.26 L373.02,37.43 L373.25,37.60 L373.49,37.77 L373.72,37.94 L373.96,38.11 L374.19,38.29 L374.43,38.46 L374.66,38.64 L374.90,38.81 L375.13,38.99 L375.37,39.17 L375.60,39.35 L375.84,39.53 L376.07,39.71 L376.31,39.89 L376.54,40.07 L376.78,40.25 L377.01,40.44 L377.25,40.62 L377.48,40.81 L377.72,40.99 L377.95,41.18 L378.19,41.37 L378.42,41.56 L378.66,41.75 L378.89,41.94 L379.13,42.13 L379.36,42.32 L379.59,42.51 L379.83,42.71 L380.06,42.90 L380.30,43.10 L380.53,43.29 L380.77,43.49 L381.00,43.69 L381.24,43.89 L381.47,44.09 L381.71,44.29 L381.94,44.49 L382.18,44.69 L382.41,44.90 L382.65,45.10 L382.88,45.31 L383.12,45.51 L383.35,45.72 L383.59,45.93 L383.82,46.14 L384.06,46.35 L384.29,46.56 L384.53,46.77 L384.76,46.99 L385.00,47.20 L385.23,47.42 L385.47,47.64 L385.70,47.85 L385.94,48.07 L386.17,48.29 L386.41,48.51 L386.64,48.73 L386.88,48.96 L387.11,49.18 L387.34,49.41 L387.58,49.63 L387.81,49.86 L388.05,50.09 L388.28,50.32 L388.52,50.55 L388.75,50.78 L388.99,51.01 L389.22,51.25 L389.46,51.48 L389.69,51.72 L389.93,51.96 L390.16,52.20 L390.40,52.44 L390.63,52.68 L390.87,52.92 L391.10,53.16 L391.34,53.41 L391.57,53.65 L391.81,53.90 L392.04,54.15 L392.28,54.40 L392.51,54.65 L392.75,54.90 L392.98,55.16 L393.22,55.41 L393.45,55.67 L393.69,55.93 L393.92,56.19 L394.16,56.45 L394.39,56.71 L394.63,56.97 L394.86,57.24 L395.09,57.51 L395.33,57.77 L395.56,58.04 L395.80,58.31 L396.03,58.59 L396.27,58.86 L396.50,59.13 L396.74,59.41 L396.97,59.69 L397.21,59.97 L397.44,60.25 L397.68,60.53 L397.91,60.82 L398.15,61.11 L398.38,61.39 L398.62,61.68 L398.85,61.98 L399.09,62.27 L399.32,62.56 L399.56,62.86 L399.79,63.16 L400.03,63.46 L400.26,63.76 L400.50,64.07 L400.73,64.37 L400.97,64.68 L401.20,64.99 L401.44,65.30 L401.67,65.61 L401.91,65.93 L402.14,66.25 L402.38,66.57 L402.61,66.89 L402.84,67.21 L403.08,67.54 L403.31,67.87 L403.55,68.20 L403.78,68.53 L404.02,68.86 L404.25,69.20 L404.49,69.54 L404.72,69.88 L404.96,70.23 L405.19,70.57 L405.43,70.92 L405.66,71.27 L405.90,71.63 L406.13,71.98 L406.37,72.34 L406.60,72.70 L406.84,73.07 L407.07,73.43 L407.31,73.80 L407.54,74.18 L407.78,74.55 L408.01,74.93 L408.25,75.31 L408.48,75.69 L408.72,76.08 L408.95,76.47 L409.19,76.86 L409.42,77.26 L409.66,77.66 L409.89,78.06 L410.13,78.47 L410.36,78.88 L410.60,79.29 L410.83,79.71 L411.06,80.13 L411.30,80.56 L411.53,80.98 L411.77,81.42 L412.00,81.85 L412.24,82.29 L412.47,82.74 L412.71,83.19 L412.94,83.64 L413.18,84.10 L413.41,84.56 L413.65,85.02 L413.88,85.49 L414.12,85.97 L414.35,86.45 L414.59,86.94 L414.82,87.43 L415.06,87.92 L415.29,88.42 L415.53,88.93 L415.76,89.44 L416.00,89.96 L416.23,90.48 L416.47,91.01 L416.70,91.55 L416.94,92.09 L417.17,92.64 L417.41,93.20 L417.64,93.76 L417.88,94.33 L418.11,94.91 L418.35,95.50 L418.58,96.09 L418.81,96.69 L419.05,97.30 L419.28,97.92 L419.52,98.55 L419.75,99.18 L419.99,99.83 L420.22,100.49 L420.46,101.15 L420.69,101.83 L420.93,102.51 L421.16,103.21 L421.40,103.92 L421.63,104.65 L421.87,105.38 L422.10,106.13 L422.34,106.89 L422.57,107.67 L422.81,108.46 L423.04,109.27 L423.28,110.09 L423.51,110.93 L423.75,111.79 L423.98,112.67 L424.22,113.56 L424.45,114.48 L424.69,115.42 L424.92,116.38 L425.16,117.37 L425.39,118.38 L425.63,119.42 L425.86,120.48 L426.10,121.58 L426.33,122.71 L426.56,123.88 L426.80,125.08 L427.03,126.32 L427.27,127.61 L427.50,128.94 L427.74,130.32 L427.97,131.76 L428.21,133.25 L428.44,134.81 L428.68,136.44 L428.91,138.14 L429.15,139.73 L429.38,141.32 L429.62,143.00 L429.85,144.80 L430.09,146.72 L430.32,148.78 L430.56,151.01 L430.79,153.43 L431.03,156.08 L431.26,159.02 L431.50,162.31 L431.73,166.05 L431.97,170.37 L432.20,175.49 L432.44,181.76 L432.67,189.86 L432.91,201.22 L433.14,220.04 L433.38,253.85 L433.61,204.74 L433.85,204.95 L434.08,210.06 L434.32,216.27 L434.56,215.68 L434.79,206.43 L435.03,198.53 L435.26,191.70 L435.50,185.73 L435.74,180.44 L435.97,175.72 L436.21,171.47 L436.45,167.61 L436.68,164.09 L436.92,160.86 L437.15,157.88 L437.39,155.13 L437.63,152.57 L437.86,150.19 L438.10,147.96 L438.34,145.88 L438.57,143.92 L438.81,142.08 L439.04,140.35 L439.28,138.71 L439.52,137.17 L439.75,135.70 L439.99,134.32 L440.22,133.00 L440.46,131.75 L440.70,130.56 L440.93,129.42 L441.17,128.34 L441.41,127.31 L441.64,126.33 L441.88,125.39 L442.11,124.49 L442.35,123.64 L442.59,122.81 L442.82,122.03 L443.06,121.27 L443.29,120.55 L443.53,119.86 L443.77,119.19 L444.00,118.55 L444.24,117.94 L444.48,117.35 L444.71,116.79 L444.95,116.24 L445.18,115.72 L445.42,115.22 L445.66,114.74 L445.89,114.27 L446.13,113.82 L446.37,113.39 L446.60,112.98 L446.84,112.58 L447.07,112.19 L447.31,111.82 L447.55,111.46 L447.78,111.12 L448.02,110.79 L448.25,110.47 L448.49,110.16 L448.73,109.86 L448.96,109.57 L449.20,109.30 L449.44,109.03 L449.67,108.77 L449.91,108.53 L450.14,108.29 L450.38,108.06 L450.62,107.83 L450.85,107.62 L451.09,107.41 L451.32,107.21 L451.56,107.02 L451.80,106.83 L452.03,106.65 L452.27,106.48 L452.51,106.31 L452.74,106.15 L452.98,106.00 L453.21,105.85 L453.45,105.70 L453.69,105.56 L453.92,105.43 L454.16,105.30 L454.40,105.17 L454.63,105.05 L454.87,104.94 L455.10,104.83 L455.34,104.72 L455.58,104.61 L455.81,104.51 L456.05,104.42 L456.28,104.32 L456.52,104.23 L456.76,104.15 L456.99,104.07 L457.23,103.99 L457.47,103.91 L457.70,103.84 L457.94,103.76 L458.17,103.70 L458.41,103.63 L458.65,103.57 L458.88,103.51 L459.12,103.45 L459.36,103.39 L459.59,103.34 L459.83,103.29 L460.06,103.24 L460.30,103.19 L460.54,103.15 L460.77,103.11 L461.01,103.07 L461.24,103.03 L461.48,102.99 L461.72,102.96 L461.95,102.92 L462.19,102.89 L462.43,102.86 L462.66,102.83 L462.90,102.81 L463.13,102.78 L463.37,102.76 L463.61,102.74 L463.84,102.71 L464.08,102.70 L464.31,102.68 L464.55,102.66 L464.79,102.65 L465.02,102.63 L465.26,102.62 L465.50,102.61 L465.73,102.60 L465.97,102.59 L466.20,102.58 L466.44,102.58 L466.68,102.57 L466.91,102.57 L467.15,102.57 L467.39,102.57 L467.62,102.57 L467.86,102.57 L468.09,102.58 L468.33,102.59 L468.56,102.60 L468.80,102.62 L469.03,102.64 L469.27,102.66 L469.50,102.68 L469.74,102.71 L469.97,102.73 L470.21,102.77 L470.44,102.80 L470.68,102.84 L470.91,102.88 L471.15,102.92 L471.38,102.96 L471.62,103.01 L471.85,103.06 L472.09,103.12 L472.32,103.17 L472.56,103.23 L472.79,103.29 L473.03,103.36 L473.26,103.42 L473.50,103.49 L473.73,103.57 L473.97,103.64 L474.20,103.72 L474.44,103.80 L474.67,103.88 L474.91,103.97 L475.14,104.06 L475.38,104.15 L475.62,104.25 L475.85,104.35 L476.09,104.45 L476.32,104.55 L476.56,104.66 L476.79,104.77 L477.03,104.88 L477.26,105.00 L477.50,105.11 L477.73,105.23 L477.97,105.36 L478.20,105.49 L478.44,105.62 L478.67,105.75 L478.91,105.88 L479.14,106.02 L479.38,106.16 L479.61,106.31 L479.85,106.46 L480.08,106.61 L480.32,106.76 L480.55,106.92 L480.79,107.08 L481.02,107.24 L481.26,107.40 L481.49,107.57 L481.73,107.75 L481.96,107.92 L482.20,108.10 L482.43,108.28 L482.67,108.46 L482.90,108.65 L483.14,108.84 L483.38,109.04 L483.61,109.23 L483.85,109.43 L484.08,109.64 L484.32,109.85 L484.55,110.06 L484.79,110.27 L485.02,110.49 L485.26,110.71 L485.49,110.93 L485.73,111.16 L485.96,111.39 L486.20,111.62 L486.43,111.86 L486.67,112.10 L486.90,112.34 L487.14,112.59 L487.37,112.84 L487.61,113.10 L487.84,113.36 L488.08,113.62 L488.31,113.89 L488.55,114.16 L488.78,114.43 L489.02,114.71 L489.25,114.99 L489.49,115.28 L489.72,115.57 L489.96,115.86 L490.19,116.16 L490.43,116.46 L490.66,116.76 L490.90,117.07 L491.13,117.39 L491.37,117.70 L491.61,118.02 L491.84,118.35 L492.08,118.68 L492.31,119.02 L492.55,119.36 L492.78,119.70 L493.02,120.05 L493.25,120.40 L493.49,120.76 L493.72,121.12 L493.96,121.49 L494.19,121.86 L494.43,122.24 L494.66,122.62 L494.90,123.01 L495.13,123.41 L495.37,123.80 L495.60,124.21 L495.84,124.62 L496.07,125.03 L496.31,125.45 L496.54,125.88 L496.78,126.31 L497.01,126.75 L497.25,127.19 L497.48,127.64 L497.72,128.10 L497.95,128.56 L498.19,129.03 L498.42,129.51 L498.66,129.99 L498.89,130.48 L499.13,130.98 L499.36,131.49 L499.60,132.00 L499.84,132.52 L500.07,133.05 L500.31,133.59 L500.54,134.14 L500.78,134.69 L501.01,135.25 L501.25,135.83 L501.48,136.41 L501.72,137.00 L501.95,137.60 L502.19,138.22 L502.42,138.84 L502.66,139.47 L502.89,140.12 L503.13,140.78 L503.36,141.45 L503.60,142.13 L503.83,142.83 L504.07,143.54 L504.30,144.27 L504.54,145.01 L504.77,145.77 L505.01,146.54 L505.24,147.33 L505.48,148.14 L505.71,148.97 L505.95,149.82 L506.18,150.69 L506.42,151.59 L506.65,152.51 L506.89,153.45 L507.12,154.42 L507.36,155.43 L507.59,156.46 L507.83,157.53 L508.07,158.63 L508.30,159.77 L508.54,160.96 L508.77,162.19 L509.01,163.47 L509.24,164.81 L509.48,166.21 L509.71,167.68 L509.95,169.22 L510.18,170.85 L510.42,172.58 L510.65,174.43 L510.89,176.40 L511.12,178.52 L511.36,180.83 L511.59,183.35 L511.83,186.14 L512.06,189.28 L512.30,193.87 L512.53,202.03 L512.77,211.62 L513.00,223.41 L513.24,239.03 L513.47,263.53 L513.71,324.45 L513.94,265.05 L514.18,258.48 L514.41,257.99 L514.65,259.46 L514.88,258.93 L515.12,249.97 L515.35,242.36 L515.59,235.77 L515.82,229.95 L516.05,224.74 L516.29,220.03 L516.52,215.74 L516.76,211.79 L516.99,208.14 L517.23,204.74 L517.46,201.57 L517.70,198.59 L517.93,195.78 L518.17,193.13 L518.40,190.62 L518.63,188.24 L518.87,185.97 L519.10,183.80 L519.34,181.73 L519.57,179.75 L519.81,177.85 L520.04,176.02 L520.28,174.27 L520.51,172.58 L520.75,170.95 L520.98,169.38 L521.21,167.86 L521.45,166.39 L521.68,164.97 L521.92,163.60 L522.15,162.26 L522.39,160.97 L522.62,159.71 L522.86,158.49 L523.09,157.31 L523.33,156.16 L523.56,155.04 L523.79,153.95 L524.03,152.89 L524.26,151.85 L524.50,150.85 L524.73,149.87 L524.97,148.91 L525.20,147.97 L525.44,147.06 L525.67,146.17 L525.91,145.30 L526.14,144.46 L526.37,143.63 L526.61,142.82 L526.84,142.03 L527.08,141.25 L527.31,140.50 L527.55,139.76 L527.78,139.03 L528.02,138.33 L528.25,137.63 L528.49,136.96 L528.72,136.29 L528.95,135.64 L529.19,135.01 L529.42,134.39 L529.66,133.78 L529.89,133.18 L530.13,132.60 L530.36,132.03 L530.60,131.47 L530.83,130.92 L531.07,130.38 L531.30,129.86" stroke="#77AC30" stroke-width="3.3" stroke-dasharray="8.6 1.8 3.8 2.4"/>
<path d="M62.20,132.83 L62.33,132.87 L62.56,132.95 L62.80,133.04 L63.03,133.14 L63.27,133.25 L63.50,133.37 L63.74,133.49 L63.97,133.62 L64.21,133.76 L64.44,133.90 L64.68,134.05 L64.91,134.20 L65.15,134.36 L65.38,134.53 L65.62,134.69 L65.86,134.87 L66.09,135.04 L66.33,135.22 L66.56,135.40 L66.80,135.58 L67.03,135.77 L67.27,135.96 L67.50,136.15 L67.74,136.34 L67.97,136.53 L68.21,136.72 L68.44,136.91 L68.68,137.10 L68.91,137.29 L69.15,137.48 L69.38,137.66 L69.62,137.85 L69.85,138.03 L70.09,138.21 L70.32,138.39 L70.56,138.56 L70.80,138.73 L71.03,138.90 L71.27,139.07 L71.50,139.23 L71.74,139.40 L71.97,139.56 L72.21,139.72 L72.44,139.89 L72.68,140.05 L72.91,140.21 L73.15,140.38 L73.38,140.54 L73.62,140.71 L73.85,140.87 L74.09,141.03 L74.32,141.20 L74.56,141.36 L74.79,141.53 L75.03,141.69 L75.27,141.86 L75.50,142.02 L75.74,142.19 L75.97,142.35 L76.21,142.52 L76.44,142.69 L76.68,142.86 L76.91,143.03 L77.15,143.19 L77.38,143.36 L77.62,143.53 L77.85,143.71 L78.09,143.88 L78.32,144.05 L78.56,144.22 L78.79,144.40 L79.03,144.57 L79.26,144.75 L79.50,144.93 L79.74,145.11 L79.97,145.29 L80.21,145.47 L80.44,145.65 L80.68,145.83 L80.91,146.02 L81.15,146.20 L81.38,146.38 L81.62,146.57 L81.85,146.76 L82.09,146.94 L82.32,147.13 L82.56,147.32 L82.79,147.51 L83.03,147.70 L83.26,147.89 L83.50,148.08 L83.73,148.27 L83.97,148.47 L84.20,148.66 L84.44,148.86 L84.68,149.05 L84.91,149.25 L85.15,149.45 L85.38,149.65 L85.62,149.85 L85.85,150.05 L86.09,150.25 L86.32,150.45 L86.56,150.66 L86.79,150.86 L87.03,151.07 L87.26,151.27 L87.50,151.48 L87.73,151.69 L87.97,151.90 L88.20,152.11 L88.44,152.33 L88.67,152.54 L88.91,152.75 L89.15,152.97 L89.38,153.19 L89.62,153.40 L89.85,153.62 L90.09,153.84 L90.32,154.05 L90.56,154.27 L90.79,154.49 L91.03,154.71 L91.26,154.93 L91.50,155.15 L91.73,155.37 L91.97,155.59 L92.20,155.82 L92.44,156.04 L92.67,156.27 L92.91,156.50 L93.14,156.73 L93.38,156.97 L93.61,157.20 L93.85,157.44 L94.09,157.69 L94.32,157.93 L94.56,158.18 L94.79,158.43 L95.03,158.69 L95.26,158.94 L95.50,159.21 L95.73,159.47 L95.97,159.74 L96.20,160.02 L96.44,160.30 L96.67,160.58 L96.91,160.87 L97.14,161.16 L97.38,161.47 L97.61,161.78 L97.85,162.09 L98.08,162.42 L98.32,162.75 L98.56,163.09 L98.79,163.43 L99.03,163.77 L99.26,164.13 L99.50,164.48 L99.73,164.85 L99.97,165.21 L100.20,165.58 L100.44,165.95 L100.67,166.33 L100.91,166.71 L101.14,167.09 L101.38,167.48 L101.61,167.86 L101.85,168.25 L102.08,168.64 L102.32,169.03 L102.55,169.42 L102.79,169.81 L103.03,170.20 L103.26,170.59 L103.50,170.98 L103.73,171.37 L103.97,171.75 L104.20,172.14 L104.44,172.52 L104.67,172.91 L104.91,173.29 L105.14,173.68 L105.38,174.06 L105.61,174.45 L105.85,174.84 L106.08,175.23 L106.32,175.62 L106.55,176.02 L106.79,176.41 L107.02,176.81 L107.26,177.20 L107.49,177.60 L107.73,178.00 L107.97,178.40 L108.20,178.81 L108.44,179.21 L108.67,179.62 L108.91,180.03 L109.14,180.44 L109.38,180.85 L109.61,181.27 L109.85,181.69 L110.08,182.11 L110.32,182.53 L110.55,182.95 L110.79,183.38 L111.02,183.80 L111.26,184.24 L111.49,184.67 L111.73,185.11 L111.96,185.55 L112.20,185.99 L112.44,186.44 L112.67,186.90 L112.91,187.36 L113.14,187.82 L113.38,188.28 L113.61,188.75 L113.85,189.21 L114.08,189.69 L114.32,190.16 L114.55,190.63 L114.79,191.10 L115.02,191.58 L115.26,192.05 L115.49,192.53 L115.73,193.00 L115.96,193.48 L116.20,193.95 L116.43,194.42 L116.67,194.89 L116.90,195.41 L117.14,196.02 L117.38,196.63 L117.61,197.11 L117.85,197.36 L118.08,197.36 L118.32,197.28 L118.55,197.16 L118.79,196.98 L119.02,196.76 L119.26,196.49 L119.49,196.19 L119.73,195.85 L119.96,195.49 L120.20,195.10 L120.43,194.68 L120.67,194.25 L120.90,193.81 L121.14,193.35 L121.37,192.90 L121.61,192.43 L121.85,191.98 L122.08,191.52 L122.32,191.03 L122.55,190.49 L122.79,189.90 L123.02,189.27 L123.26,188.61 L123.49,187.91 L123.73,187.18 L123.96,186.42 L124.20,185.64 L124.43,184.84 L124.67,184.03 L124.90,183.20 L125.14,182.36 L125.37,181.52 L125.61,180.68 L125.84,179.84 L126.08,179.01 L126.32,178.18 L126.55,177.38 L126.79,176.58 L127.02,175.78 L127.26,174.98 L127.49,174.16 L127.73,173.34 L127.96,172.51 L128.20,171.67 L128.43,170.83 L128.67,169.98 L128.90,169.13 L129.14,168.28 L129.37,167.42 L129.61,166.56 L129.84,165.70 L130.08,164.84 L130.31,163.98 L130.55,163.12 L130.78,162.26 L131.02,161.40 L131.26,160.55 L131.49,159.70 L131.73,158.83 L131.96,157.95 L132.20,157.05 L132.43,156.15 L132.67,155.24 L132.90,154.34 L133.14,153.44 L133.37,152.55 L133.61,151.67 L133.84,150.82 L134.08,149.98 L134.31,149.17 L134.55,148.40 L134.78,147.66 L135.02,146.96 L135.25,146.28 L135.49,145.61 L135.73,144.96 L135.96,144.32 L136.20,143.70 L136.43,143.10 L136.67,142.52 L136.90,141.95 L137.14,141.40 L137.37,140.88 L137.61,140.37 L137.84,139.89 L138.04,134.82 L138.27,134.19 L138.51,133.56 L138.74,132.94 L138.98,132.32 L139.21,131.71 L139.45,131.10 L139.68,130.50 L139.92,129.91 L140.15,129.32 L140.39,128.73 L140.62,128.15 L140.86,127.57 L141.09,127.00 L141.33,126.44 L141.56,125.87 L141.80,125.32 L142.03,124.77 L142.27,124.22 L142.50,123.68 L142.74,123.14 L142.97,122.61 L143.21,122.08 L143.44,121.56 L143.68,121.04 L143.91,120.53 L144.14,120.02 L144.38,119.52 L144.61,119.02 L144.85,118.52 L145.08,118.03 L145.32,117.55 L145.55,117.07 L145.79,116.59 L146.02,116.12 L146.26,115.65 L146.49,115.19 L146.73,114.73 L146.96,114.28 L147.20,113.83 L147.43,113.39 L147.67,112.95 L147.90,112.51 L148.14,112.08 L148.37,111.65 L148.61,111.23 L148.84,110.81 L149.08,110.40 L149.31,109.99 L149.55,109.58 L149.78,109.18 L150.01,108.79 L150.25,108.39 L150.48,108.01 L150.72,107.62 L150.95,107.24 L151.19,106.87 L151.42,106.50 L151.66,106.13 L151.89,105.77 L152.13,105.41 L152.36,105.06 L152.60,104.71 L152.83,104.37 L153.07,104.02 L153.30,103.69 L153.54,103.36 L153.77,103.03 L154.01,102.70 L154.24,102.38 L154.48,102.07 L154.71,101.75 L154.95,101.45 L155.18,101.14 L155.41,100.84 L155.65,100.55 L155.88,100.26 L156.12,99.97 L156.35,99.69 L156.59,99.41 L156.82,99.13 L157.06,98.86 L157.29,98.60 L157.53,98.33 L157.76,98.08 L158.00,97.82 L158.23,97.57 L158.47,97.32 L158.70,97.08 L158.94,96.84 L159.17,96.61 L159.41,96.38 L159.64,96.15 L159.88,95.93 L160.11,95.71 L160.35,95.50 L160.58,95.29 L160.82,95.08 L161.05,94.88 L161.28,94.68 L161.52,94.49 L161.75,94.30 L161.99,94.11 L162.22,93.93 L162.46,93.75 L162.69,93.58 L162.93,93.41 L163.16,93.24 L163.40,93.08 L163.63,92.92 L163.87,92.76 L164.10,92.61 L164.34,92.47 L164.57,92.32 L164.81,92.18 L165.04,92.05 L165.28,91.92 L165.51,91.79 L165.75,91.67 L165.98,91.55 L166.22,91.43 L166.45,91.32 L166.69,91.22 L166.92,91.11 L167.15,91.01 L167.39,90.92 L167.62,90.83 L167.86,90.74 L168.09,90.65 L168.33,90.57 L168.56,90.50 L168.80,90.43 L169.03,90.36 L169.27,90.29 L169.50,90.23 L169.74,90.18 L169.97,90.12 L170.21,90.07 L170.44,90.03 L170.68,89.99 L170.91,89.95 L171.15,89.92 L171.38,89.89 L171.62,89.86 L171.85,89.84 L172.09,89.83 L172.32,89.81 L172.56,89.80 L172.79,89.80 L173.02,89.79 L173.26,89.80 L173.49,89.80 L173.73,89.82 L173.96,89.83 L174.20,89.86 L174.43,89.89 L174.67,89.92 L174.90,89.96 L175.14,90.00 L175.37,90.05 L175.60,90.10 L175.84,90.16 L176.07,90.22 L176.31,90.29 L176.54,90.37 L176.78,90.45 L177.01,90.53 L177.25,90.62 L177.48,90.72 L177.72,90.82 L177.95,90.92 L178.18,91.03 L178.42,91.15 L178.65,91.27 L178.89,91.40 L179.12,91.53 L179.36,91.67 L179.59,91.81 L179.83,91.96 L180.06,92.12 L180.30,92.28 L180.53,92.45 L180.77,92.62 L181.00,92.80 L181.23,92.98 L181.47,93.17 L181.70,93.36 L181.94,93.57 L182.17,93.77 L182.41,93.99 L182.64,94.21 L182.88,94.43 L183.11,94.67 L183.35,94.91 L183.58,95.15 L183.81,95.40 L184.05,95.66 L184.28,95.93 L184.52,96.20 L184.75,96.48 L184.99,96.77 L185.22,97.06 L185.46,97.36 L185.69,97.67 L185.93,97.99 L186.16,98.31 L186.39,98.64 L186.63,98.98 L186.86,99.33 L187.10,99.68 L187.33,100.05 L187.57,100.42 L187.80,100.80 L188.04,101.20 L188.27,101.60 L188.51,102.01 L188.74,102.43 L188.97,102.86 L189.21,103.30 L189.44,103.75 L189.68,104.21 L189.91,104.68 L190.15,105.17 L190.38,105.67 L190.62,106.18 L190.85,106.70 L191.09,107.23 L191.32,107.78 L191.55,108.35 L191.79,108.93 L192.02,109.52 L192.26,110.13 L192.49,110.76 L192.73,111.41 L192.96,112.07 L193.20,112.76 L193.43,113.47 L193.67,114.19 L193.90,114.95 L194.13,115.72 L194.37,116.53 L194.60,117.36 L194.84,118.22 L195.07,119.11 L195.31,120.04 L195.54,121.00 L195.78,122.01 L196.01,123.06 L196.25,124.16 L196.48,125.31 L196.71,126.52 L196.95,127.79 L197.18,129.14 L197.42,130.57 L197.65,132.09 L197.89,133.72 L198.12,135.47 L198.36,137.36 L198.59,139.42 L198.83,141.67 L199.06,144.16 L199.29,149.78 L199.53,154.44 L199.76,156.22 L200.00,156.38 L200.23,155.95 L200.47,155.56 L200.70,155.37 L200.94,155.32 L201.17,154.56 L201.41,153.37 L201.64,151.86 L201.87,150.06 L202.11,148.04 L202.34,145.86 L202.58,143.59 L202.81,141.26 L203.05,138.92 L203.28,136.60 L203.52,134.33 L203.75,132.11 L203.99,129.95 L204.22,127.86 L204.45,125.84 L204.69,123.89 L204.92,122.01 L205.16,120.19 L205.39,118.45 L205.63,116.76 L205.86,115.13 L206.10,113.56 L206.33,112.05 L206.57,110.58 L206.80,109.17 L207.03,107.80 L207.27,106.48 L207.50,105.20 L207.74,103.95 L207.97,102.75 L208.21,101.59 L208.44,100.45 L208.68,99.36 L208.91,98.29 L209.15,97.26 L209.38,96.25 L209.61,95.27 L209.85,94.32 L210.08,93.39 L210.32,92.49 L210.55,91.62 L210.79,90.76 L211.02,89.93 L211.26,89.12 L211.49,88.33 L211.73,87.56 L211.96,86.81 L212.19,86.08 L212.43,85.37 L212.66,84.67 L212.90,83.99 L213.13,83.33 L213.37,82.68 L213.60,82.05 L213.84,81.44 L214.07,80.83 L214.31,80.25 L214.54,79.67 L214.77,79.11 L215.01,78.57 L215.24,78.04 L215.48,77.52 L215.71,77.01 L215.95,76.51 L216.18,76.03 L216.42,75.55 L216.65,75.09 L216.89,74.64 L217.12,74.20 L217.35,73.77 L217.59,73.36 L217.82,72.95 L218.06,72.55 L218.29,72.16 L218.53,71.78 L218.76,71.41 L219.00,71.05 L219.23,70.70 L219.47,70.36 L219.70,70.03 L219.93,69.71 L220.17,69.39 L220.40,69.09 L220.64,68.79 L220.87,68.50 L221.11,68.22 L221.34,67.94 L221.58,67.68 L221.81,67.42 L222.05,67.17 L222.28,66.93 L222.51,66.70 L222.75,66.47 L222.98,66.25 L223.22,66.04 L223.45,65.84 L223.69,65.64 L223.92,65.45 L224.16,65.27 L224.39,65.09 L224.63,64.93 L224.86,64.76 L225.09,64.61 L225.33,64.46 L225.56,64.32 L225.80,64.19 L226.03,64.06 L226.27,63.94 L226.50,63.83 L226.74,63.72 L226.97,63.62 L227.21,63.53 L227.44,63.44 L227.68,63.36 L227.91,63.29 L228.14,63.22 L228.38,63.16 L228.61,63.10 L228.85,63.06 L229.08,63.01 L229.32,62.98 L229.55,62.95 L229.79,62.93 L230.02,62.91 L230.26,62.90 L230.49,62.90 L230.73,62.91 L230.96,62.93 L231.20,62.96 L231.44,63.01 L231.67,63.07 L231.91,63.14 L232.14,63.23 L232.38,63.33 L232.62,63.44 L232.85,63.57 L233.09,63.71 L233.33,63.86 L233.56,64.03 L233.80,64.21 L234.04,64.41 L234.27,64.62 L234.51,64.84 L234.74,65.08 L234.98,65.34 L235.22,65.61 L235.45,65.89 L235.69,66.19 L235.93,66.50 L236.16,66.83 L236.40,67.17 L236.64,67.53 L236.87,67.91 L237.11,68.30 L237.34,68.71 L237.58,69.13 L237.82,69.58 L238.05,70.04 L238.29,70.51 L238.53,71.01 L238.76,71.52 L239.00,72.05 L239.24,72.61 L239.47,73.18 L239.71,73.77 L239.94,74.38 L240.18,75.01 L240.42,75.67 L240.65,76.35 L240.89,77.05 L241.13,77.77 L241.36,78.52 L241.60,79.29 L241.84,80.09 L242.07,80.91 L242.31,81.76 L242.55,82.64 L242.78,83.55 L243.02,84.49 L243.25,85.46 L243.49,86.47 L243.73,87.50 L243.96,88.58 L244.20,89.69 L244.44,90.84 L244.67,92.03 L244.91,93.26 L245.15,94.54 L245.38,95.86 L245.62,97.24 L245.85,98.66 L246.09,100.14 L246.33,101.68 L246.56,103.28 L246.80,104.95 L247.04,106.69 L247.27,108.50 L247.51,110.39 L247.75,112.37 L247.98,114.45 L248.22,116.62 L248.45,118.90 L248.69,121.29 L248.93,123.81 L249.16,126.47 L249.40,129.28 L249.64,132.25 L249.87,135.38 L250.11,138.70 L250.35,142.21 L250.58,145.91 L250.82,149.79 L251.05,153.80 L251.29,157.86 L251.53,161.85 L251.76,165.55 L252.00,168.69 L252.24,171.05 L252.47,172.46 L252.71,172.24 L252.95,172.40 L253.18,173.50 L253.42,163.84 L253.65,150.23 L253.89,139.60 L254.12,131.32 L254.36,124.60 L254.60,119.03 L254.83,114.47 L255.07,110.46 L255.30,106.88 L255.54,103.64 L255.77,100.69 L256.01,97.97 L256.24,95.45 L256.48,93.10 L256.72,90.89 L256.95,88.81 L257.19,86.85 L257.42,84.98 L257.66,83.21 L257.89,81.51 L258.13,79.89 L258.36,78.34 L258.60,76.84 L258.83,75.40 L259.07,74.02 L259.31,72.68 L259.54,71.39 L259.78,70.13 L260.01,68.92 L260.25,67.74 L260.48,66.60 L260.72,65.49 L260.95,64.40 L261.19,63.35 L261.43,62.32 L261.66,61.32 L261.90,60.35 L262.13,59.39 L262.37,58.46 L262.60,57.55 L262.84,56.66 L263.07,55.79 L263.31,54.94 L263.55,54.10 L263.78,53.28 L264.02,52.48 L264.25,51.70 L264.49,50.93 L264.72,50.17 L264.96,49.43 L265.19,48.70 L265.43,47.99 L265.67,47.28 L265.90,46.59 L266.14,45.92 L266.37,45.25 L266.61,44.60 L266.84,43.95 L267.08,43.32 L267.31,42.70 L267.55,42.09 L267.79,41.49 L268.02,40.89 L268.26,40.31 L268.49,39.74 L268.73,39.18 L268.96,38.62 L269.20,38.07 L269.43,37.54 L269.67,37.01 L269.90,36.48 L270.14,35.97 L270.38,35.47 L270.61,34.97 L270.85,34.48 L271.08,33.99 L271.32,33.52 L271.55,33.05 L271.79,32.59 L272.02,32.13 L272.26,31.69 L272.50,31.24 L272.73,30.81 L272.97,30.38 L273.20,29.96 L273.44,29.54 L273.67,29.14 L273.91,28.73 L274.14,28.34 L274.38,27.94 L274.62,27.56 L274.85,27.18 L275.09,26.81 L275.32,26.44 L275.56,26.08 L275.79,25.72 L276.03,25.37 L276.26,25.02 L276.50,24.68 L276.74,24.35 L276.97,24.02 L277.21,23.69 L277.44,23.37 L277.68,23.06 L277.91,22.75 L278.15,22.44 L278.38,22.15 L278.62,21.85 L278.85,21.56 L279.09,21.28 L279.33,21.00 L279.56,20.72 L279.80,20.45 L280.03,20.18 L280.27,19.92 L280.50,19.67 L280.74,19.41 L280.97,19.17 L281.21,18.92 L281.45,18.68 L281.68,18.45 L281.92,18.22 L282.15,18.00 L282.39,17.77 L282.62,17.56 L282.86,17.34 L283.09,17.14 L283.33,16.93 L283.57,16.73 L283.80,16.54 L284.04,16.35 L284.27,16.16 L284.51,15.98 L284.74,15.80 L284.98,15.62 L285.21,15.45 L285.45,15.29 L285.69,15.12 L285.92,14.96 L286.16,14.81 L286.39,14.66 L286.63,14.51 L286.86,14.37 L287.10,14.23 L287.33,14.10 L287.57,13.97 L287.80,13.84 L288.04,13.72 L288.28,13.60 L288.51,13.48 L288.75,13.37 L288.98,13.27 L289.22,13.16 L289.45,13.06 L289.69,12.97 L289.92,12.88 L290.16,12.79 L290.40,12.70 L290.63,12.62 L290.87,12.55 L291.10,12.47 L291.34,12.40 L291.57,12.34 L291.81,12.28 L292.04,12.22 L292.28,12.16 L292.52,12.11 L292.75,12.07 L292.99,12.03 L293.22,11.99 L293.46,11.95 L293.69,11.92 L293.93,11.89 L294.16,11.87 L294.40,11.85 L294.64,11.83 L294.87,11.82 L295.11,11.81 L295.34,11.80 L295.58,11.80 L295.81,11.80 L296.05,11.81 L296.28,11.81 L296.52,11.83 L296.75,11.84 L296.98,11.86 L297.22,11.88 L297.45,11.91 L297.69,11.93 L297.92,11.97 L298.16,12.00 L298.39,12.04 L298.63,12.08 L298.86,12.13 L299.10,12.17 L299.33,12.23 L299.56,12.28 L299.80,12.34 L300.03,12.40 L300.27,12.47 L300.50,12.53 L300.74,12.61 L300.97,12.68 L301.21,12.76 L301.44,12.84 L301.68,12.93 L301.91,13.02 L302.14,13.11 L302.38,13.21 L302.61,13.31 L302.85,13.41 L303.08,13.52 L303.32,13.63 L303.55,13.74 L303.79,13.86 L304.02,13.98 L304.26,14.10 L304.49,14.23 L304.72,14.36 L304.96,14.50 L305.19,14.64 L305.43,14.78 L305.66,14.93 L305.90,15.08 L306.13,15.23 L306.37,15.39 L306.60,15.55 L306.84,15.72 L307.07,15.89 L307.30,16.06 L307.54,16.24 L307.77,16.42 L308.01,16.60 L308.24,16.79 L308.48,16.99 L308.71,17.18 L308.95,17.38 L309.18,17.59 L309.42,17.80 L309.65,18.01 L309.88,18.23 L310.12,18.45 L310.35,18.68 L310.59,18.91 L310.82,19.15 L311.06,19.39 L311.29,19.63 L311.53,19.88 L311.76,20.13 L312.00,20.39 L312.23,20.65 L312.46,20.92 L312.70,21.19 L312.93,21.47 L313.17,21.75 L313.40,22.04 L313.64,22.33 L313.87,22.63 L314.11,22.93 L314.34,23.24 L314.58,23.55 L314.81,23.87 L315.04,24.19 L315.28,24.52 L315.51,24.85 L315.75,25.19 L315.98,25.54 L316.22,25.89 L316.45,26.25 L316.69,26.61 L316.92,26.98 L317.16,27.36 L317.39,27.74 L317.62,28.13 L317.86,28.52 L318.09,28.93 L318.33,29.34 L318.56,29.75 L318.80,30.17 L319.03,30.60 L319.27,31.04 L319.50,31.49 L319.74,31.94 L319.97,32.40 L320.20,32.87 L320.44,33.34 L320.67,33.83 L320.91,34.32 L321.14,34.82 L321.38,35.34 L321.61,35.86 L321.85,36.39 L322.08,36.93 L322.32,37.47 L322.55,38.03 L322.79,38.60 L323.02,39.19 L323.25,39.78 L323.49,40.38 L323.72,41.00 L323.96,41.62 L324.19,42.27 L324.43,42.92 L324.66,43.58 L324.90,44.27 L325.13,44.96 L325.37,45.67 L325.60,46.40 L325.83,47.14 L326.07,47.89 L326.30,48.67 L326.54,49.46 L326.77,50.28 L327.01,51.11 L327.24,51.96 L327.48,52.83 L327.71,53.73 L327.95,54.65 L328.18,55.60 L328.41,56.57 L328.65,57.57 L328.88,58.60 L329.12,59.65 L329.35,60.75 L329.59,61.87 L329.82,63.04 L330.06,64.24 L330.29,65.48 L330.53,66.77 L330.76,68.11 L330.99,69.50 L331.23,70.95 L331.46,72.46 L331.70,74.04 L331.93,75.69 L332.17,77.42 L332.40,79.24 L332.64,81.16 L332.87,83.19 L333.11,85.35 L333.34,87.65 L333.57,90.11 L333.81,92.76 L334.04,95.63 L334.28,98.75 L334.51,102.19 L334.75,106.02 L334.98,110.32 L335.22,115.24 L335.45,120.16 L335.69,125.49 L335.92,132.33 L336.15,141.66 L336.39,155.24 L336.62,168.13 L336.86,166.96 L337.10,167.07 L337.33,165.83 L337.57,162.67 L337.80,158.26 L338.04,153.14 L338.28,147.83 L338.51,142.64 L338.75,137.72 L338.99,133.12 L339.22,128.84 L339.46,124.86 L339.69,121.16 L339.93,117.72 L340.17,114.50 L340.40,111.49 L340.64,108.67 L340.87,106.01 L341.11,103.51 L341.35,101.14 L341.58,98.91 L341.82,96.79 L342.06,94.77 L342.29,92.86 L342.53,91.04 L342.76,89.31 L343.00,87.66 L343.24,86.08 L343.47,84.57 L343.71,83.13 L343.95,81.76 L344.18,80.44 L344.42,79.18 L344.65,77.97 L344.89,76.82 L345.13,75.72 L345.36,74.66 L345.60,73.64 L345.83,72.68 L346.07,71.75 L346.31,70.86 L346.54,70.01 L346.78,69.20 L347.02,68.42 L347.25,67.68 L347.49,66.98 L347.72,66.31 L347.96,65.66 L348.20,65.06 L348.43,64.48 L348.67,63.93 L348.90,63.41 L349.14,62.92 L349.38,62.46 L349.61,62.02 L349.85,61.62 L350.09,61.23 L350.32,60.88 L350.56,60.55 L350.79,60.25 L351.03,59.97 L351.27,59.72 L351.50,59.49 L351.74,59.29 L351.98,59.11 L352.21,58.96 L352.45,58.83 L352.68,58.72 L352.92,58.64 L353.16,58.58 L353.39,58.54 L353.63,58.53 L353.86,58.54 L354.10,58.56 L354.34,58.60 L354.57,58.66 L354.81,58.73 L355.04,58.82 L355.28,58.93 L355.52,59.05 L355.75,59.19 L355.99,59.34 L356.22,59.51 L356.46,59.70 L356.70,59.91 L356.93,60.13 L357.17,60.37 L357.40,60.63 L357.64,60.90 L357.87,61.20 L358.11,61.51 L358.35,61.84 L358.58,62.18 L358.82,62.55 L359.05,62.94 L359.29,63.34 L359.53,63.77 L359.76,64.21 L360.00,64.67 L360.23,65.16 L360.47,65.67 L360.71,66.19 L360.94,66.74 L361.18,67.32 L361.41,67.91 L361.65,68.53 L361.88,69.17 L362.12,69.84 L362.36,70.54 L362.59,71.26 L362.83,72.00 L363.06,72.78 L363.30,73.58 L363.54,74.41 L363.77,75.28 L364.01,76.17 L364.24,77.10 L364.48,78.06 L364.72,79.06 L364.95,80.09 L365.19,81.17 L365.42,82.28 L365.66,83.44 L365.90,84.63 L366.13,85.88 L366.37,87.17 L366.60,88.52 L366.84,89.91 L367.07,91.37 L367.31,92.88 L367.55,94.46 L367.78,96.11 L368.02,97.83 L368.25,99.62 L368.49,101.50 L368.73,103.47 L368.96,105.54 L369.20,107.71 L369.43,109.99 L369.67,112.39 L369.91,114.93 L370.14,117.62 L370.38,120.47 L370.61,123.49 L370.85,126.72 L371.08,130.15 L371.32,133.82 L371.56,137.75 L371.79,141.95 L372.03,146.41 L372.26,151.12 L372.50,155.97 L372.74,160.80 L372.97,165.26 L373.21,168.93 L373.44,171.43 L373.68,171.56 L373.92,171.65 L374.15,173.17 L374.39,161.67 L374.62,154.67 L374.86,151.48 L375.09,145.20 L375.32,137.70 L375.56,131.33 L375.79,125.86 L376.03,121.10 L376.26,116.90 L376.50,113.17 L376.73,109.81 L376.97,106.76 L377.20,103.98 L377.44,101.43 L377.67,99.08 L377.90,96.90 L378.14,94.88 L378.37,92.98 L378.61,91.21 L378.84,89.55 L379.08,87.98 L379.31,86.51 L379.55,85.11 L379.78,83.79 L380.02,82.54 L380.25,81.35 L380.48,80.21 L380.60,79.71 L380.84,78.71 L381.07,77.73 L381.31,76.77 L381.54,75.84 L381.77,74.93 L382.01,74.04 L382.24,73.18 L382.48,72.36 L382.71,71.57 L382.95,70.81 L383.18,70.08 L383.42,69.40 L383.65,68.76 L383.89,68.16 L384.12,67.61 L384.35,67.09 L384.59,66.60 L384.82,66.13 L385.06,65.68 L385.29,65.26 L385.53,64.85 L385.76,64.46 L386.00,64.08 L386.23,63.71 L386.47,63.36 L386.70,63.01 L386.93,62.66 L387.17,62.32 L387.40,61.98 L387.64,61.65 L387.87,61.30 L388.11,60.96 L388.34,60.60 L388.58,60.24 L388.81,59.88 L389.05,59.51 L389.28,59.15 L389.51,58.78 L389.75,58.43 L389.98,58.08 L390.22,57.74 L390.45,57.41 L390.69,57.10 L390.92,56.80 L391.16,56.53 L391.39,56.27 L391.63,56.04 L391.86,55.83 L392.09,55.65 L392.33,55.50 L392.56,55.37 L392.80,55.25 L393.03,55.13 L393.27,55.02 L393.50,54.91 L393.74,54.81 L393.97,54.71 L394.21,54.62 L394.44,54.53 L394.67,54.45 L394.91,54.37 L395.14,54.29 L395.38,54.22 L395.61,54.15 L395.85,54.09 L396.08,54.03 L396.32,53.97 L396.55,53.92 L396.79,53.87 L397.02,53.82 L397.25,53.78 L397.49,53.73 L397.72,53.68 L397.96,53.64 L398.19,53.60 L398.43,53.56 L398.66,53.53 L398.90,53.51 L399.13,53.49 L399.37,53.49 L399.60,53.50 L399.83,53.53 L400.07,53.58 L400.30,53.64 L400.54,53.72 L400.77,53.80 L401.01,53.89 L401.24,53.98 L401.48,54.07 L401.71,54.16 L401.95,54.24 L402.18,54.32 L402.41,54.41 L402.65,54.49 L402.88,54.59 L403.12,54.68 L403.35,54.78 L403.59,54.89 L403.82,55.01 L404.06,55.14 L404.29,55.27 L404.53,55.42 L404.76,55.59 L404.99,55.80 L405.23,56.05 L405.46,56.35 L405.70,56.68 L405.93,57.05 L406.17,57.44 L406.40,57.87 L406.64,58.32 L406.87,58.79 L407.11,59.29 L407.34,59.79 L407.57,60.31 L407.81,60.84 L408.04,61.38 L408.28,61.92 L408.51,62.46 L408.75,62.99 L408.98,63.52 L409.22,64.04 L409.45,64.55 L409.69,65.04 L409.92,65.52 L410.15,65.97 L410.39,66.40 L410.62,66.80 L410.86,67.18 L411.09,67.56 L411.33,67.94 L411.56,68.30 L411.80,68.66 L412.03,69.01 L412.27,69.36 L412.50,69.71 L412.73,70.05 L412.97,70.38 L413.20,70.72 L413.44,71.05 L413.67,71.39 L413.91,71.72 L414.14,72.05 L414.38,72.38 L414.61,72.72 L414.85,73.06 L415.08,73.40 L415.32,73.75 L415.55,74.10 L415.78,74.45 L416.02,74.81 L416.25,75.18 L416.49,75.56 L416.72,75.94 L416.96,76.33 L417.19,76.73 L417.43,77.15 L417.66,77.57 L417.90,78.00 L418.13,78.44 L418.36,78.88 L418.60,79.34 L418.83,79.80 L419.07,80.26 L419.30,80.74 L419.54,81.22 L419.77,81.71 L420.01,82.20 L420.24,82.70 L420.48,83.20 L420.71,83.72 L420.94,84.23 L421.18,84.75 L421.41,85.28 L421.65,85.81 L421.88,86.34 L422.12,86.88 L422.35,87.42 L422.59,87.97 L422.82,88.52 L423.06,89.07 L423.29,89.63 L423.52,90.19 L423.76,90.75 L423.99,91.31 L424.23,91.88 L424.46,92.45 L424.70,93.02 L424.93,93.59 L425.17,94.16 L425.40,94.74 L425.64,95.33 L425.87,95.92 L426.10,96.52 L426.34,97.12 L426.57,97.74 L426.81,98.36 L427.04,98.98 L427.28,99.62 L427.51,100.26 L427.75,100.91 L427.98,101.57 L428.22,102.23 L428.45,102.90 L428.68,103.58 L428.92,104.27 L429.15,104.97 L429.39,105.69 L429.62,106.42 L429.86,107.16 L430.09,107.92 L430.33,108.67 L430.56,109.44 L430.80,110.21 L431.03,110.98 L431.26,111.75 L431.50,112.52 L431.73,113.29 L431.97,114.06 L432.20,114.82 L432.44,115.57 L432.67,116.32 L432.91,117.06 L433.14,117.79 L433.38,118.53 L433.61,119.27 L433.84,120.02 L434.08,120.76 L434.31,121.50 L434.55,122.23 L434.78,122.97 L435.02,123.70 L435.25,124.44 L435.49,125.16 L435.72,125.89 L435.96,126.61 L436.19,127.32 L436.42,128.03 L436.66,128.74 L436.89,129.43 L437.13,130.12 L437.36,130.81 L437.60,131.48 L437.83,132.16 L438.07,132.83 L438.30,133.50 L438.54,134.17 L438.77,134.83 L439.00,135.49 L439.24,136.15 L439.47,136.80 L439.71,137.44 L439.94,138.07 L440.18,138.70 L440.41,139.32 L440.65,139.92 L440.88,140.52 L441.12,141.11 L441.35,141.68 L441.58,142.24 L441.82,142.80 L442.05,143.36 L442.29,143.93 L442.52,144.49 L442.76,145.05 L442.99,145.60 L443.23,146.15 L443.46,146.67 L443.70,147.18 L443.93,147.66 L444.16,148.12 L444.40,148.55 L444.63,148.95 L444.87,149.31 L445.10,149.63 L445.34,149.93 L445.57,150.21 L445.81,150.49 L446.04,150.76 L446.28,151.01 L446.51,151.26 L446.74,151.51 L446.98,151.74 L447.21,151.97 L447.45,152.19 L447.68,152.40 L447.92,152.61 L448.15,152.81 L448.39,153.00 L448.62,153.20 L448.86,153.38 L449.09,153.57 L449.32,153.74 L449.56,153.92 L449.79,154.09 L450.03,154.26 L450.26,154.43 L450.50,154.60 L450.73,154.76 L450.97,154.92 L451.20,155.09 L451.44,155.25 L451.67,155.41 L451.90,155.57 L452.14,155.74 L452.37,155.90 L452.61,156.07 L452.84,156.24 L453.08,156.41 L453.31,156.58 L453.55,156.76 L453.78,156.94 L454.02,157.12 L454.25,157.31 L454.48,157.49 L454.72,157.68 L454.95,157.86 L455.19,158.05 L455.42,158.23 L455.66,158.41 L455.89,158.60 L456.13,158.78 L456.36,158.97 L456.60,159.15 L456.83,159.33 L457.06,159.51 L457.30,159.69 L457.53,159.87 L457.77,160.05 L458.00,160.23 L458.24,160.40 L458.47,160.58 L458.71,160.75 L458.94,160.93 L459.18,161.10 L459.41,161.27 L459.64,161.43 L459.88,161.60 L460.11,161.77 L460.35,161.93 L460.58,162.09 L460.82,162.25 L461.05,162.40 L461.29,162.56 L461.52,162.71 L461.76,162.86 L461.99,163.01 L462.23,163.15 L462.46,163.30 L462.69,163.44 L462.93,163.59 L463.16,163.73 L463.40,163.88 L463.63,164.02 L463.87,164.17 L464.10,164.31 L464.34,164.45 L464.57,164.59 L464.81,164.73 L465.04,164.87 L465.27,165.01 L465.51,165.15 L465.74,165.28 L465.98,165.42 L466.21,165.55 L466.45,165.68 L466.68,165.80 L466.92,165.93 L467.15,166.05 L467.39,166.18 L467.62,166.29 L467.85,166.41 L468.09,166.53 L468.32,166.64 L468.56,166.74 L468.79,166.85 L469.03,166.95 L469.26,167.05 L469.50,167.15 L469.73,167.24 L469.97,167.33 L470.20,167.41 L470.43,167.49 L470.67,167.58 L470.90,167.66 L471.14,167.74 L471.37,167.83 L471.61,167.91 L471.84,168.00 L472.08,168.08 L472.31,168.16 L472.55,168.24 L472.78,168.33 L473.01,168.40 L473.25,168.48 L473.48,168.55 L473.72,168.62 L473.95,168.69 L474.19,168.76 L474.42,168.82 L474.66,168.87 L474.89,168.92 L475.13,168.97 L475.36,169.01 L475.59,169.05 L475.83,169.08 L476.06,169.10 L476.30,169.12 L476.53,169.13 L476.77,169.13 L477.00,169.13 L477.24,169.13 L477.47,169.13 L477.71,169.13 L477.94,169.13 L478.17,169.13 L478.41,169.13 L478.64,169.13 L478.88,169.13 L479.11,169.13 L479.35,169.13 L479.58,169.13 L479.82,169.13 L480.05,169.13 L480.29,169.13 L480.52,169.13 L480.75,169.13 L480.99,169.13 L481.22,169.13 L481.46,169.13 L481.69,169.13 L481.93,169.13 L482.16,169.13 L482.40,169.13 L482.63,169.13 L482.87,169.13 L483.10,169.11 L483.33,169.08 L483.57,169.05 L483.80,169.00 L484.04,168.95 L484.27,168.88 L484.51,168.81 L484.74,168.73 L484.98,168.64 L485.21,168.54 L485.45,168.43 L485.68,168.32 L485.91,168.20 L486.15,168.08 L486.38,167.94 L486.62,167.81 L486.85,167.67 L487.09,167.52 L487.32,167.37 L487.56,167.21 L487.79,167.05 L488.03,166.89 L488.26,166.72 L488.49,166.55 L488.73,166.38 L488.96,166.20 L489.20,166.03 L489.43,165.85 L489.67,165.67 L489.90,165.49 L490.14,165.31 L490.37,165.12 L490.61,164.94 L490.84,164.76 L491.07,164.58 L491.31,164.37 L491.54,164.16 L491.78,163.93 L492.01,163.70 L492.25,163.45 L492.48,163.18 L492.72,162.91 L492.95,162.63 L493.19,162.34 L493.42,162.04 L493.65,161.73 L493.89,161.41 L494.12,161.08 L494.36,160.75 L494.59,160.41 L494.83,160.06 L495.06,159.71 L495.30,159.35 L495.53,158.99 L495.77,158.62 L496.00,158.25 L496.23,157.87 L496.47,157.50 L496.70,157.12 L496.94,156.73 L497.17,156.35 L497.41,155.96 L497.64,155.57 L497.88,155.19 L498.11,154.80 L498.35,154.41 L498.58,154.03 L498.81,153.65 L499.05,153.26 L499.28,152.89 L499.52,152.51 L499.75,152.14 L499.99,151.75 L500.22,151.35 L500.46,150.94 L500.69,150.52 L500.93,150.09 L501.16,149.65 L501.39,149.20 L501.63,148.74 L501.86,148.28 L502.10,147.82 L502.33,147.35 L502.57,146.87 L502.80,146.40 L503.04,145.92 L503.27,145.44 L503.51,144.97 L503.74,144.49 L503.97,144.02 L504.21,143.56 L504.44,143.09 L504.68,142.64 L504.91,142.19 L505.15,141.74 L505.38,141.31 L505.62,140.89 L505.85,140.47 L506.09,140.07 L506.32,139.68 L506.55,139.31 L506.79,138.95 L507.02,138.60 L507.26,138.27 L507.49,137.96 L507.73,137.67 L507.96,137.40 L508.20,137.12 L508.43,136.85 L508.67,136.58 L508.90,136.32 L509.14,136.05 L509.37,135.79 L509.60,135.53 L509.84,135.27 L510.07,135.02 L510.31,134.77 L510.54,134.52 L510.78,134.28 L511.01,134.04 L511.25,133.81 L511.48,133.58 L511.72,133.36 L511.95,133.14 L512.18,132.93 L512.42,132.72 L512.65,132.52 L512.89,132.33 L513.12,132.14 L513.36,131.96 L513.59,131.79 L513.83,131.62 L514.06,131.47 L514.30,131.32 L514.53,131.17 L514.76,131.04 L515.00,130.92 L515.23,130.80 L515.47,130.69 L515.70,130.60 L515.94,130.51 L516.17,130.44 L516.41,130.37 L516.64,130.31 L516.88,130.26 L517.11,130.22 L517.34,130.18 L517.58,130.14 L517.81,130.11 L518.05,130.08 L518.28,130.05 L518.52,130.02 L518.75,129.99 L518.99,129.95 L519.22,129.91 L519.46,129.87 L519.69,129.81 L519.92,129.75 L520.16,129.68 L520.39,129.60 L520.63,129.51 L520.86,129.36 L521.10,129.00 L521.33,128.79 L521.57,128.80 L521.80,128.83 L522.04,128.88 L522.27,128.94 L522.50,129.02 L522.74,129.12 L522.97,129.23 L523.21,129.36 L523.44,129.50 L523.68,129.65 L523.91,129.82 L524.15,129.99 L524.38,130.18 L524.62,130.38 L524.85,130.59 L525.08,130.81 L525.32,131.03 L525.55,131.28 L525.79,131.64 L526.02,132.11 L526.26,132.69 L526.49,133.35 L526.73,134.09 L526.96,134.89 L527.20,135.74 L527.43,136.62 L527.66,137.52 L527.90,138.43 L528.13,139.33 L528.37,140.21 L528.60,141.06 L528.84,141.86 L529.07,142.61 L529.31,143.34 L529.54,144.07 L529.78,144.80 L530.01,145.53 L530.24,146.26 L530.48,147.00 L530.71,147.74 L530.95,148.49 L531.18,149.25 L531.30,149.64" stroke="#4DBEEE" stroke-width="3.2" stroke-dasharray="2.4 1.85"/>
<path d="M62.20,121.58 L62.23,121.64 L62.47,122.02 L62.70,122.41 L62.94,122.80 L63.17,123.19 L63.41,123.59 L63.64,123.99 L63.88,124.40 L64.11,124.81 L64.35,125.22 L64.58,125.64 L64.82,126.06 L65.05,126.49 L65.29,126.92 L65.52,127.36 L65.76,127.80 L65.99,128.24 L66.23,128.69 L66.46,129.15 L66.70,129.61 L66.93,130.07 L67.17,130.54 L67.40,131.01 L67.63,131.48 L67.87,131.97 L68.10,132.45 L68.34,132.94 L68.57,133.44 L68.81,133.94 L69.04,134.45 L69.28,134.96 L69.51,135.47 L69.75,135.99 L69.98,136.52 L70.22,137.05 L70.45,137.59 L70.69,138.13 L70.92,138.68 L71.16,139.23 L71.39,139.79 L71.63,140.36 L71.86,140.93 L72.10,141.50 L72.33,142.09 L72.57,142.67 L72.80,143.27 L73.04,143.87 L73.27,144.47 L73.51,145.09 L73.74,145.70 L73.98,146.33 L74.21,146.96 L74.44,147.59 L74.68,148.24 L74.91,148.89 L75.15,149.54 L75.38,150.20 L75.62,150.87 L75.85,151.55 L76.09,152.23 L76.32,152.91 L76.56,153.61 L76.79,154.30 L77.03,155.01 L77.26,155.72 L77.50,156.44 L77.73,157.16 L77.97,157.89 L78.20,158.62 L78.44,159.36 L78.67,160.10 L78.91,160.85 L79.14,161.60 L79.38,162.35 L79.61,163.10 L79.85,163.86 L80.08,164.62 L80.32,165.37 L80.55,166.13 L80.78,166.88 L81.02,167.63 L81.25,168.37 L81.49,169.10 L81.72,169.82 L81.96,170.53 L82.19,172.07 L82.43,173.22 L82.66,173.93 L82.90,174.33 L83.13,174.51 L83.37,174.58 L83.60,174.54 L83.84,174.35 L84.07,174.17 L84.31,174.07 L84.54,174.04 L84.78,174.05 L85.01,174.08 L85.25,174.10 L85.49,173.86 L85.72,173.55 L85.96,173.16 L86.19,172.67 L86.43,172.10 L86.66,171.44 L86.90,170.68 L87.13,169.84 L87.37,168.91 L87.60,167.91 L87.84,166.85 L88.07,165.72 L88.31,164.55 L88.55,163.34 L88.78,162.10 L89.02,160.84 L89.25,159.56 L89.49,158.28 L89.72,156.99 L89.96,155.70 L90.19,154.42 L90.43,153.15 L90.66,151.89 L90.90,150.64 L91.13,149.41 L91.37,148.20 L91.60,147.00 L91.84,145.83 L92.08,144.67 L92.31,143.54 L92.55,142.42 L92.78,141.33 L93.02,140.25 L93.25,139.19 L93.49,138.16 L93.72,137.14 L93.96,136.14 L94.19,135.17 L94.43,134.21 L94.66,133.26 L94.90,132.34 L95.14,131.43 L95.37,130.54 L95.61,129.67 L95.84,128.81 L96.08,127.97 L96.31,127.15 L96.55,126.33 L96.78,125.54 L97.02,124.75 L97.25,123.99 L97.49,123.23 L97.72,122.49 L97.96,121.76 L98.19,121.04 L98.43,120.34 L98.67,119.65 L98.90,118.97 L99.14,118.30 L99.37,117.64 L99.61,116.99 L99.84,116.35 L100.08,115.73 L100.31,115.11 L100.55,114.50 L100.78,113.91 L101.02,113.32 L101.25,112.74 L101.49,112.17 L101.73,111.61 L101.96,111.06 L102.20,110.52 L102.43,109.98 L102.67,109.46 L102.90,108.94 L103.14,108.43 L103.37,107.92 L103.61,107.43 L103.84,106.94 L104.08,106.46 L104.31,105.98 L104.55,105.52 L104.78,105.06 L105.02,104.60 L105.26,104.15 L105.49,103.71 L105.73,103.28 L105.96,102.85 L106.20,102.43 L106.43,102.01 L106.67,101.61 L106.90,101.20 L107.14,100.80 L107.37,100.41 L107.61,100.02 L107.84,99.64 L108.08,99.27 L108.32,98.90 L108.55,98.53 L108.79,98.17 L109.02,97.82 L109.26,97.47 L109.49,97.12 L109.73,96.78 L109.96,96.45 L110.20,96.11 L110.43,95.79 L110.67,95.47 L110.90,95.15 L111.14,94.84 L111.37,94.53 L111.61,94.23 L111.85,93.93 L112.08,93.63 L112.32,93.34 L112.55,93.06 L112.79,92.78 L113.02,92.50 L113.26,92.23 L113.49,91.96 L113.73,91.69 L113.96,91.43 L114.20,91.17 L114.43,90.92 L114.67,90.67 L114.91,90.42 L115.14,90.18 L115.38,89.94 L115.61,89.70 L115.85,89.47 L116.08,89.24 L116.32,89.02 L116.55,88.80 L116.79,88.58 L117.02,88.36 L117.26,88.15 L117.49,87.95 L117.73,87.74 L117.96,87.54 L118.20,87.34 L118.44,87.15 L118.67,86.96 L118.91,86.77 L119.14,86.59 L119.38,86.41 L119.61,86.23 L119.85,86.05 L120.08,85.88 L120.32,85.71 L120.55,85.55 L120.79,85.39 L121.02,85.23 L121.26,85.07 L121.50,84.92 L121.73,84.77 L121.97,84.62 L122.20,84.48 L122.44,84.33 L122.67,84.20 L122.91,84.06 L123.14,83.93 L123.38,83.80 L123.61,83.67 L123.85,83.55 L124.08,83.43 L124.32,83.31 L124.55,83.19 L124.79,83.08 L125.03,82.97 L125.26,82.86 L125.50,82.76 L125.73,82.65 L125.97,82.55 L126.20,82.46 L126.44,82.36 L126.67,82.27 L126.91,82.18 L127.14,82.10 L127.38,82.02 L127.61,81.93 L127.85,81.86 L128.09,81.78 L128.32,81.71 L128.56,81.64 L128.79,81.57 L129.03,81.51 L129.26,81.44 L129.50,81.38 L129.73,81.33 L129.97,81.27 L130.20,81.22 L130.44,81.17 L130.67,81.13 L130.91,81.08 L131.14,81.04 L131.38,81.00 L131.62,80.96 L131.85,80.93 L132.09,80.90 L132.32,80.87 L132.56,80.84 L132.79,80.82 L133.03,80.80 L133.26,80.78 L133.50,80.76 L133.73,80.75 L133.97,80.74 L134.20,80.73 L134.44,80.72 L134.68,80.72 L134.91,80.72 L135.15,80.72 L135.38,80.72 L135.62,80.73 L135.85,80.74 L136.09,80.75 L136.32,80.76 L136.56,80.78 L136.79,80.80 L137.03,80.82 L137.26,80.85 L137.50,80.88 L137.73,80.91 L137.97,80.94 L138.20,80.98 L138.44,81.01 L138.67,81.05 L138.91,81.10 L139.14,81.14 L139.38,81.19 L139.61,81.24 L139.85,81.30 L140.08,81.36 L140.32,81.42 L140.56,81.48 L140.79,81.54 L141.03,81.61 L141.26,81.68 L141.50,81.76 L141.73,81.83 L141.97,81.91 L142.20,81.99 L142.44,82.08 L142.67,82.17 L142.91,82.26 L143.14,82.35 L143.38,82.45 L143.61,82.55 L143.85,82.65 L144.08,82.75 L144.32,82.86 L144.55,82.97 L144.79,83.08 L145.02,83.20 L145.26,83.32 L145.49,83.44 L145.73,83.57 L145.96,83.70 L146.20,83.83 L146.44,83.97 L146.67,84.10 L146.91,84.25 L147.14,84.39 L147.38,84.54 L147.61,84.69 L147.85,84.84 L148.08,85.00 L148.32,85.16 L148.55,85.33 L148.79,85.50 L149.02,85.67 L149.26,85.84 L149.49,86.02 L149.73,86.20 L149.96,86.39 L150.20,86.58 L150.43,86.77 L150.67,86.97 L150.90,87.17 L151.14,87.37 L151.37,87.58 L151.61,87.79 L151.84,88.00 L152.08,88.22 L152.31,88.45 L152.55,88.67 L152.79,88.91 L153.02,89.14 L153.26,89.38 L153.49,89.63 L153.73,89.87 L153.96,90.13 L154.20,90.38 L154.43,90.65 L154.67,90.91 L154.90,91.18 L155.14,91.46 L155.37,91.74 L155.61,92.03 L155.84,92.32 L156.08,92.61 L156.31,92.91 L156.55,93.22 L156.78,93.53 L157.02,93.85 L157.25,94.17 L157.49,94.49 L157.72,94.83 L157.96,95.17 L158.19,95.51 L158.43,95.86 L158.67,96.22 L158.90,96.58 L159.14,96.95 L159.37,97.33 L159.61,97.71 L159.84,98.10 L160.08,98.50 L160.31,98.90 L160.55,99.31 L160.78,99.73 L161.02,100.15 L161.25,100.59 L161.49,101.03 L161.72,101.48 L161.96,101.94 L162.19,102.40 L162.43,102.88 L162.66,103.36 L162.90,103.85 L163.13,104.36 L163.37,104.87 L163.60,105.39 L163.84,105.92 L164.07,106.47 L164.31,107.02 L164.54,107.59 L164.78,108.17 L165.02,108.75 L165.25,109.36 L165.49,109.97 L165.72,110.60 L165.96,111.24 L166.19,111.89 L166.43,112.56 L166.66,113.25 L166.90,113.95 L167.13,114.67 L167.37,115.40 L167.60,116.15 L167.84,116.92 L168.07,117.71 L168.31,118.52 L168.54,119.35 L168.78,120.20 L169.01,121.07 L169.25,121.97 L169.48,122.89 L169.72,123.83 L169.95,124.80 L170.19,125.80 L170.42,126.83 L170.66,127.89 L170.90,128.98 L171.13,130.11 L171.37,131.27 L171.60,132.46 L171.84,133.70 L172.07,134.97 L172.31,136.29 L172.54,137.64 L172.78,139.05 L173.01,140.50 L173.25,142.00 L173.48,143.54 L173.72,145.13 L173.95,146.78 L174.19,148.46 L174.42,150.19 L174.66,151.95 L174.89,153.73 L175.13,155.52 L175.36,157.30 L175.60,159.05 L175.83,160.73 L176.07,162.31 L176.30,163.73 L176.54,164.51 L176.78,165.19 L177.01,165.90 L177.25,166.60 L177.48,167.20 L177.72,169.42 L177.95,169.41 L178.19,169.39 L178.42,169.32 L178.66,169.17 L178.89,168.94 L179.13,168.60 L179.37,168.14 L179.60,167.56 L179.84,166.86 L180.07,166.05 L180.31,165.13 L180.55,164.12 L180.78,163.04 L181.02,161.90 L181.25,160.72 L181.49,159.52 L181.72,158.31 L181.96,157.09 L182.20,155.89 L182.43,154.71 L182.67,153.56 L182.90,152.44 L183.14,151.36 L183.38,150.32 L183.61,149.32 L183.85,148.37 L184.08,147.46 L184.32,146.61 L184.55,145.79 L184.79,145.03 L185.03,144.32 L185.26,143.65 L185.50,143.03 L185.73,142.46 L185.97,141.94 L186.21,141.46 L186.44,141.03 L186.68,140.65 L186.91,140.31 L187.15,140.02 L187.38,139.77 L187.62,139.57 L187.86,139.41 L188.09,139.30 L188.33,139.24 L188.56,139.21 L188.80,139.23 L189.04,139.30 L189.27,139.41 L189.51,139.56 L189.75,139.76 L189.99,140.00 L190.22,140.28 L190.46,140.61 L190.70,140.98 L190.93,141.40 L191.17,141.86 L191.41,142.37 L191.65,142.93 L191.88,143.53 L192.12,144.18 L192.36,144.88 L192.59,145.62 L192.83,146.42 L193.07,147.26 L193.30,148.15 L193.54,149.08 L193.78,150.07 L194.02,151.10 L194.25,152.17 L194.49,153.28 L194.73,154.44 L194.96,155.62 L195.20,156.84 L195.44,158.08 L195.68,159.33 L195.91,160.58 L196.15,161.83 L196.39,163.05 L196.62,164.23 L196.86,165.36 L197.10,166.41 L197.33,167.37 L197.57,168.22 L197.81,168.95 L198.05,169.55 L198.28,170.03 L198.52,170.39 L198.76,170.64 L198.99,170.79 L199.23,170.87 L199.47,170.89 L199.70,169.15 L199.94,168.98 L200.18,168.44 L200.41,167.52 L200.65,166.24 L200.88,164.69 L201.12,162.95 L201.36,161.07 L201.59,159.09 L201.83,157.05 L202.06,154.99 L202.30,152.93 L202.53,150.89 L202.77,148.88 L203.01,146.92 L203.24,145.00 L203.48,143.13 L203.71,141.31 L203.95,139.54 L204.18,137.81 L204.42,136.14 L204.66,134.51 L204.89,132.93 L205.13,131.39 L205.36,129.90 L205.60,128.44 L205.84,127.02 L206.07,125.64 L206.31,124.30 L206.54,122.98 L206.78,121.70 L207.01,120.45 L207.25,119.23 L207.49,118.04 L207.72,116.87 L207.96,115.73 L208.19,114.62 L208.43,113.53 L208.66,112.46 L208.90,111.42 L209.14,110.40 L209.37,109.39 L209.61,108.41 L209.84,107.45 L210.08,106.51 L210.32,105.59 L210.55,104.68 L210.79,103.79 L211.02,102.92 L211.26,102.06 L211.49,101.22 L211.73,100.40 L211.97,99.59 L212.20,98.80 L212.44,98.02 L212.67,97.25 L212.91,96.50 L213.14,95.76 L213.38,95.04 L213.62,94.33 L213.85,93.63 L214.09,92.94 L214.32,92.27 L214.56,91.60 L214.79,90.95 L215.03,90.32 L215.27,89.69 L215.50,89.07 L215.74,88.47 L215.97,87.87 L216.21,87.29 L216.45,86.72 L216.68,86.15 L216.92,85.60 L217.15,85.06 L217.39,84.53 L217.62,84.00 L217.86,83.49 L218.10,82.99 L218.33,82.49 L218.57,82.01 L218.80,81.53 L219.04,81.07 L219.27,80.61 L219.51,80.16 L219.75,79.72 L219.98,79.29 L220.22,78.87 L220.45,78.46 L220.69,78.05 L220.93,77.66 L221.16,77.27 L221.40,76.89 L221.63,76.52 L221.87,76.16 L222.10,75.80 L222.34,75.46 L222.58,75.12 L222.81,74.79 L223.05,74.47 L223.28,74.15 L223.52,73.84 L223.75,73.55 L223.99,73.25 L224.23,72.97 L224.46,72.70 L224.70,72.43 L224.93,72.17 L225.17,71.91 L225.40,71.67 L225.64,71.43 L225.88,71.20 L226.11,70.98 L226.35,70.76 L226.58,70.55 L226.82,70.35 L227.06,70.16 L227.29,69.97 L227.53,69.79 L227.76,69.62 L228.00,69.45 L228.23,69.29 L228.47,69.14 L228.71,69.00 L228.94,68.86 L229.18,68.73 L229.41,68.61 L229.65,68.50 L229.88,68.39 L230.12,68.29 L230.36,68.19 L230.59,68.11 L230.83,68.03 L231.06,67.95 L231.30,67.89 L231.54,67.83 L231.77,67.78 L232.01,67.73 L232.24,67.69 L232.48,67.66 L232.71,67.64 L232.95,67.62 L233.19,67.61 L233.42,67.61 L233.66,67.61 L233.89,67.64 L234.13,67.68 L234.36,67.75 L234.60,67.82 L234.83,67.92 L235.07,68.03 L235.30,68.16 L235.54,68.31 L235.77,68.48 L236.01,68.66 L236.24,68.87 L236.48,69.09 L236.71,69.33 L236.95,69.58 L237.19,69.86 L237.42,70.16 L237.66,70.47 L237.89,70.81 L238.13,71.16 L238.36,71.53 L238.60,71.93 L238.83,72.34 L239.07,72.78 L239.30,73.24 L239.54,73.71 L239.77,74.22 L240.01,74.74 L240.24,75.29 L240.48,75.86 L240.71,76.45 L240.95,77.07 L241.18,77.72 L241.42,78.39 L241.66,79.08 L241.89,79.81 L242.13,80.56 L242.36,81.35 L242.60,82.16 L242.83,83.00 L243.07,83.88 L243.30,84.79 L243.54,85.73 L243.77,86.71 L244.01,87.73 L244.24,88.78 L244.48,89.88 L244.71,91.02 L244.95,92.20 L245.18,93.43 L245.42,94.70 L245.65,96.03 L245.89,97.42 L246.12,98.85 L246.36,100.35 L246.60,101.92 L246.83,103.55 L247.07,105.25 L247.30,107.03 L247.54,108.89 L247.77,110.84 L248.01,112.88 L248.24,115.03 L248.48,117.29 L248.71,119.66 L248.95,122.17 L249.18,124.82 L249.42,127.61 L249.65,130.58 L249.89,133.72 L250.12,137.06 L250.36,140.60 L250.59,144.34 L250.83,148.28 L251.07,152.39 L251.30,156.60 L251.54,160.79 L251.77,164.72 L252.01,168.14 L252.24,170.74 L252.48,172.41 L252.71,172.62 L252.95,172.64 L253.18,173.50 L253.42,163.84 L253.65,150.23 L253.89,139.60 L254.12,131.32 L254.36,124.60 L254.60,119.03 L254.83,114.47 L255.07,110.46 L255.30,106.88 L255.54,103.64 L255.77,100.69 L256.01,97.97 L256.24,95.45 L256.48,93.10 L256.72,90.89 L256.95,88.81 L257.19,86.85 L257.42,84.98 L257.66,83.21 L257.89,81.51 L258.13,79.89 L258.36,78.34 L258.60,76.84 L258.83,75.40 L259.07,74.02 L259.31,72.68 L259.54,71.39 L259.78,70.13 L260.01,68.92 L260.25,67.74 L260.48,66.60 L260.72,65.49 L260.95,64.40 L261.19,63.35 L261.43,62.32 L261.66,61.32 L261.90,60.35 L262.13,59.39 L262.37,58.46 L262.60,57.55 L262.84,56.66 L263.07,55.79 L263.31,54.94 L263.55,54.10 L263.78,53.28 L264.02,52.48 L264.25,51.70 L264.49,50.93 L264.72,50.17 L264.96,49.43 L265.19,48.70 L265.43,47.99 L265.67,47.28 L265.90,46.59 L266.14,45.92 L266.37,45.25 L266.61,44.60 L266.84,43.95 L267.08,43.32 L267.31,42.70 L267.55,42.09 L267.79,41.49 L268.02,40.89 L268.26,40.31 L268.49,39.74 L268.73,39.18 L268.96,38.62 L269.20,38.07 L269.43,37.54 L269.67,37.01 L269.90,36.48 L270.14,35.97 L270.38,35.47 L270.61,34.97 L270.85,34.48 L271.08,33.99 L271.32,33.52 L271.55,33.05 L271.79,32.59 L272.02,32.13 L272.26,31.69 L272.50,31.24 L272.73,30.81 L272.97,30.38 L273.20,29.96 L273.44,29.54 L273.67,29.14 L273.91,28.73 L274.14,28.34 L274.38,27.94 L274.62,27.56 L274.85,27.18 L275.09,26.81 L275.32,26.44 L275.56,26.08 L275.79,25.72 L276.03,25.37 L276.26,25.02 L276.50,24.68 L276.74,24.35 L276.97,24.02 L277.21,23.69 L277.44,23.37 L277.68,23.06 L277.91,22.75 L278.15,22.44 L278.38,22.15 L278.62,21.85 L278.85,21.56 L279.09,21.28 L279.33,21.00 L279.56,20.72 L279.80,20.45 L280.03,20.18 L280.27,19.92 L280.50,19.67 L280.74,19.41 L280.97,19.17 L281.21,18.92 L281.45,18.68 L281.68,18.45 L281.92,18.22 L282.15,18.00 L282.39,17.77 L282.62,17.56 L282.86,17.34 L283.09,17.14 L283.33,16.93 L283.57,16.73 L283.80,16.54 L284.04,16.35 L284.27,16.16 L284.51,15.98 L284.74,15.80 L284.98,15.62 L285.21,15.45 L285.45,15.29 L285.69,15.12 L285.92,14.96 L286.16,14.81 L286.39,14.66 L286.63,14.51 L286.86,14.37 L287.10,14.23 L287.33,14.10 L287.57,13.97 L287.80,13.84 L288.04,13.72 L288.28,13.60 L288.51,13.48 L288.75,13.37 L288.98,13.27 L289.22,13.16 L289.45,13.06 L289.69,12.97 L289.92,12.88 L290.16,12.79 L290.40,12.70 L290.63,12.62 L290.87,12.55 L291.10,12.47 L291.34,12.40 L291.57,12.34 L291.81,12.28 L292.04,12.22 L292.28,12.16 L292.52,12.11 L292.75,12.07 L292.99,12.03 L293.22,11.99 L293.46,11.95 L293.69,11.92 L293.93,11.89 L294.16,11.87 L294.40,11.85 L294.64,11.83 L294.87,11.82 L295.11,11.81 L295.34,11.80 L295.58,11.80 L295.81,11.80 L296.05,11.81 L296.28,11.81 L296.52,11.83 L296.75,11.84 L296.98,11.86 L297.22,11.88 L297.45,11.91 L297.69,11.93 L297.92,11.97 L298.16,12.00 L298.39,12.04 L298.63,12.08 L298.86,12.13 L299.10,12.17 L299.33,12.23 L299.56,12.28 L299.80,12.34 L300.03,12.40 L300.27,12.47 L300.50,12.53 L300.74,12.61 L300.97,12.68 L301.21,12.76 L301.44,12.84 L301.68,12.93 L301.91,13.02 L302.14,13.11 L302.38,13.21 L302.61,13.31 L302.85,13.41 L303.08,13.52 L303.32,13.63 L303.55,13.74 L303.79,13.86 L304.02,13.98 L304.26,14.10 L304.49,14.23 L304.72,14.36 L304.96,14.50 L305.19,14.64 L305.43,14.78 L305.66,14.93 L305.90,15.08 L306.13,15.23 L306.37,15.39 L306.60,15.55 L306.84,15.72 L307.07,15.89 L307.30,16.06 L307.54,16.24 L307.77,16.42 L308.01,16.60 L308.24,16.79 L308.48,16.99 L308.71,17.18 L308.95,17.38 L309.18,17.59 L309.42,17.80 L309.65,18.01 L309.88,18.23 L310.12,18.45 L310.35,18.68 L310.59,18.91 L310.82,19.15 L311.06,19.39 L311.29,19.63 L311.53,19.88 L311.76,20.13 L312.00,20.39 L312.23,20.65 L312.46,20.92 L312.70,21.19 L312.93,21.47 L313.17,21.75 L313.40,22.04 L313.64,22.33 L313.87,22.63 L314.11,22.93 L314.34,23.24 L314.58,23.55 L314.81,23.87 L315.04,24.19 L315.28,24.52 L315.51,24.85 L315.75,25.19 L315.98,25.54 L316.22,25.89 L316.45,26.25 L316.69,26.61 L316.92,26.98 L317.16,27.36 L317.39,27.74 L317.62,28.13 L317.86,28.52 L318.09,28.93 L318.33,29.34 L318.56,29.75 L318.80,30.17 L319.03,30.60 L319.27,31.04 L319.50,31.49 L319.74,31.94 L319.97,32.40 L320.20,32.87 L320.44,33.34 L320.67,33.83 L320.91,34.32 L321.14,34.82 L321.38,35.34 L321.61,35.86 L321.85,36.39 L322.08,36.93 L322.32,37.47 L322.55,38.03 L322.79,38.60 L323.02,39.19 L323.25,39.78 L323.49,40.38 L323.72,41.00 L323.96,41.62 L324.19,42.27 L324.43,42.92 L324.66,43.58 L324.90,44.27 L325.13,44.96 L325.37,45.67 L325.60,46.40 L325.83,47.14 L326.07,47.89 L326.30,48.67 L326.54,49.46 L326.77,50.28 L327.01,51.11 L327.24,51.96 L327.48,52.83 L327.71,53.73 L327.95,54.65 L328.18,55.60 L328.41,56.57 L328.65,57.57 L328.88,58.60 L329.12,59.65 L329.35,60.75 L329.59,61.87 L329.82,63.04 L330.06,64.24 L330.29,65.48 L330.53,66.77 L330.76,68.11 L330.99,69.50 L331.23,70.95 L331.46,72.46 L331.70,74.04 L331.93,75.69 L332.17,77.42 L332.40,79.24 L332.64,81.16 L332.87,83.19 L333.11,85.35 L333.34,87.65 L333.57,90.11 L333.81,92.76 L334.04,95.63 L334.28,98.75 L334.51,102.19 L334.75,106.02 L334.98,110.32 L335.22,115.24 L335.45,120.16 L335.69,125.49 L335.92,132.33 L336.15,141.66 L336.39,155.24 L336.62,168.14 L336.86,167.26 L337.10,167.34 L337.33,166.39 L337.57,163.90 L337.80,160.24 L338.04,155.79 L338.28,150.99 L338.51,146.15 L338.75,141.47 L338.99,137.04 L339.22,132.87 L339.46,128.97 L339.69,125.33 L339.93,121.93 L340.17,118.75 L340.40,115.76 L340.64,112.95 L340.87,110.31 L341.11,107.82 L341.35,105.46 L341.58,103.23 L341.82,101.12 L342.06,99.11 L342.29,97.20 L342.53,95.39 L342.76,93.66 L343.00,92.01 L343.24,90.43 L343.47,88.93 L343.71,87.49 L343.95,86.12 L344.18,84.80 L344.42,83.54 L344.65,82.34 L344.89,81.18 L345.13,80.08 L345.36,79.02 L345.60,78.01 L345.83,77.04 L346.07,76.11 L346.31,75.23 L346.54,74.38 L346.78,73.57 L347.02,72.79 L347.25,72.05 L347.49,71.35 L347.72,70.67 L347.96,70.03 L348.20,69.42 L348.43,68.85 L348.67,68.30 L348.90,67.78 L349.14,67.29 L349.38,66.83 L349.61,66.39 L349.85,65.98 L350.09,65.60 L350.32,65.25 L350.56,64.92 L350.79,64.62 L351.03,64.34 L351.27,64.09 L351.50,63.86 L351.74,63.66 L351.98,63.48 L352.21,63.33 L352.45,63.20 L352.68,63.09 L352.92,63.01 L353.16,62.95 L353.39,62.91 L353.63,62.90 L353.86,62.91 L354.10,62.93 L354.34,62.96 L354.57,63.01 L354.81,63.07 L355.04,63.14 L355.28,63.22 L355.52,63.32 L355.75,63.44 L355.99,63.56 L356.22,63.71 L356.46,63.86 L356.70,64.03 L356.93,64.21 L357.17,64.41 L357.40,64.62 L357.64,64.84 L357.87,65.08 L358.11,65.33 L358.35,65.60 L358.58,65.89 L358.82,66.19 L359.05,66.50 L359.29,66.83 L359.53,67.18 L359.76,67.54 L360.00,67.92 L360.23,68.32 L360.47,68.73 L360.71,69.17 L360.94,69.62 L361.18,70.08 L361.41,70.57 L361.65,71.08 L361.88,71.60 L362.12,72.15 L362.36,72.72 L362.59,73.30 L362.83,73.91 L363.06,74.55 L363.30,75.20 L363.54,75.89 L363.77,76.59 L364.01,77.32 L364.24,78.08 L364.48,78.87 L364.72,79.68 L364.95,80.53 L365.19,81.41 L365.42,82.32 L365.66,83.26 L365.90,84.24 L366.13,85.26 L366.37,86.32 L366.60,87.42 L366.84,88.56 L367.07,89.75 L367.31,90.99 L367.55,92.28 L367.78,93.63 L368.02,95.04 L368.25,96.51 L368.49,98.05 L368.73,99.66 L368.96,101.35 L369.20,103.13 L369.43,105.00 L369.67,106.98 L369.91,109.07 L370.14,111.28 L370.38,113.63 L370.61,116.13 L370.85,118.81 L371.08,121.68 L371.32,124.77 L371.56,128.12 L371.79,131.74 L372.03,135.70 L372.26,140.03 L372.50,144.77 L372.74,149.95 L372.97,155.53 L373.21,161.31 L373.44,166.76 L373.68,168.69 L373.92,170.79 L374.15,173.52 L374.39,166.87 L374.62,151.88 L374.86,141.11 L375.10,134.92 L375.33,129.98 L375.57,125.87 L375.80,122.37 L376.04,119.32 L376.28,116.63 L376.51,114.21 L376.75,112.03 L376.98,110.04 L377.22,108.21 L377.46,106.52 L377.69,104.95 L377.93,103.48 L378.16,102.12 L378.40,100.83 L378.64,99.62 L378.87,98.48 L379.11,97.40 L379.35,96.38 L379.58,95.41 L379.82,94.48 L380.05,93.60 L380.29,92.76 L380.53,91.96 L380.76,91.20 L381.00,90.46 L381.23,89.76 L381.47,89.09 L381.71,88.45 L381.94,87.83 L382.18,87.24 L382.41,86.68 L382.65,86.13 L382.89,85.61 L383.12,85.11 L383.36,84.63 L383.59,84.17 L383.83,83.72 L384.07,83.30 L384.30,82.89 L384.54,82.49 L384.77,82.12 L385.01,81.76 L385.25,81.41 L385.48,81.08 L385.72,80.77 L385.96,80.46 L386.19,80.17 L386.43,79.90 L386.66,79.63 L386.90,79.38 L387.14,79.15 L387.37,78.92 L387.61,78.71 L387.84,78.50 L388.08,78.31 L388.32,78.13 L388.55,77.96 L388.79,77.81 L389.02,77.66 L389.26,77.52 L389.50,77.40 L389.73,77.28 L389.97,77.18 L390.20,77.08 L390.44,77.00 L390.68,76.92 L390.91,76.86 L391.15,76.81 L391.38,76.76 L391.62,76.73 L391.86,76.70 L392.09,76.69 L392.33,76.68 L392.56,76.69 L392.80,76.70 L393.04,76.73 L393.27,76.76 L393.51,76.80 L393.74,76.85 L393.98,76.91 L394.21,76.99 L394.45,77.07 L394.69,77.16 L394.92,77.26 L395.16,77.37 L395.39,77.49 L395.63,77.61 L395.86,77.75 L396.10,77.90 L396.34,78.06 L396.57,78.23 L396.81,78.41 L397.04,78.60 L397.28,78.80 L397.51,79.01 L397.75,79.23 L397.98,79.46 L398.22,79.70 L398.46,79.95 L398.69,80.22 L398.93,80.49 L399.16,80.78 L399.40,81.07 L399.63,81.38 L399.87,81.70 L400.11,82.04 L400.34,82.38 L400.58,82.74 L400.81,83.11 L401.05,83.49 L401.28,83.88 L401.52,84.29 L401.75,84.71 L401.99,85.14 L402.23,85.59 L402.46,86.06 L402.70,86.53 L402.93,87.02 L403.17,87.53 L403.40,88.05 L403.64,88.59 L403.88,89.15 L404.11,89.72 L404.35,90.31 L404.58,90.91 L404.82,91.54 L405.05,92.18 L405.29,92.84 L405.53,93.52 L405.76,94.22 L406.00,94.95 L406.23,95.69 L406.47,96.46 L406.70,97.25 L406.94,98.06 L407.17,98.90 L407.41,99.76 L407.65,100.66 L407.88,101.58 L408.12,102.53 L408.35,103.51 L408.59,104.52 L408.82,105.56 L409.06,106.64 L409.30,107.76 L409.53,108.92 L409.77,110.11 L410.00,111.35 L410.24,112.64 L410.47,113.97 L410.71,115.36 L410.95,116.80 L411.18,118.30 L411.42,119.86 L411.65,121.48 L411.89,123.18 L412.12,124.96 L412.36,126.82 L412.59,128.77 L412.83,130.82 L413.07,132.97 L413.30,135.25 L413.54,137.65 L413.77,140.20 L414.01,142.90 L414.24,145.79 L414.48,148.87 L414.72,152.17 L414.95,155.72 L415.19,159.54 L415.42,163.66 L415.66,168.09 L415.89,172.82 L416.13,177.80 L416.37,182.82 L416.60,187.54 L416.84,190.00 L417.07,190.54 L417.31,192.28 L417.54,195.10 L417.78,194.80 L418.01,194.46 L418.25,193.04 L418.48,190.63 L418.72,187.38 L418.95,183.61 L419.19,179.61 L419.42,175.61 L419.65,171.74 L419.89,168.07 L420.12,164.61 L420.36,161.37 L420.59,158.34 L420.83,155.52 L421.06,152.88 L421.30,150.41 L421.53,148.10 L421.77,145.94 L422.00,143.91 L422.23,142.01 L422.47,140.22 L422.70,138.54 L422.94,136.96 L423.17,135.47 L423.41,134.08 L423.64,132.76 L423.88,131.53 L424.11,130.37 L424.35,129.28 L424.58,128.25 L424.81,127.30 L425.05,126.40 L425.28,125.57 L425.52,124.79 L425.75,124.06 L425.99,123.39 L426.22,122.78 L426.46,122.21 L426.69,121.70 L426.93,121.23 L427.16,120.81 L427.39,120.43 L427.63,120.10 L427.86,119.82 L428.10,119.58 L428.33,119.39 L428.57,119.24 L428.80,119.13 L429.04,119.06 L429.27,119.04 L429.51,119.06 L429.75,119.12 L429.98,119.21 L430.22,119.34 L430.46,119.51 L430.70,119.72 L430.94,119.96 L431.17,120.25 L431.41,120.57 L431.65,120.94 L431.89,121.34 L432.13,121.79 L432.36,122.27 L432.60,122.80 L432.84,123.38 L433.08,124.00 L433.31,124.66 L433.55,125.37 L433.79,126.13 L434.03,126.94 L434.27,127.80 L434.50,128.71 L434.74,129.67 L434.98,130.69 L435.22,131.77 L435.46,132.91 L435.69,134.12 L435.93,135.38 L436.17,136.72 L436.41,138.12 L436.64,139.59 L436.88,141.14 L437.12,142.76 L437.36,144.46 L437.60,146.23 L437.83,148.08 L438.07,150.00 L438.31,151.98 L438.55,154.02 L438.79,156.09 L439.02,158.19 L439.26,160.27 L439.50,162.31 L439.74,164.25 L439.97,166.03 L440.21,167.61 L440.45,168.94 L440.69,169.98 L440.93,170.72 L441.16,171.20 L441.40,171.45 L441.64,171.50 L441.88,171.67 L442.11,171.63 L442.35,171.62 L442.58,171.55 L442.82,171.40 L443.05,171.14 L443.29,170.77 L443.53,170.27 L443.76,169.63 L444.00,168.85 L444.23,167.94 L444.47,166.91 L444.70,165.78 L444.94,164.55 L445.17,163.25 L445.41,161.90 L445.64,160.51 L445.88,159.10 L446.11,157.69 L446.35,156.27 L446.59,154.86 L446.82,153.47 L447.06,152.11 L447.29,150.77 L447.53,149.47 L447.76,148.19 L448.00,146.96 L448.23,145.75 L448.47,144.59 L448.70,143.46 L448.94,142.37 L449.17,141.32 L449.41,140.30 L449.65,139.32 L449.88,138.37 L450.12,137.46 L450.35,136.58 L450.59,135.73 L450.82,134.92 L451.06,134.14 L451.29,133.39 L451.53,132.67 L451.76,131.98 L452.00,131.31 L452.23,130.68 L452.47,130.08 L452.71,129.50 L452.94,128.94 L453.18,128.42 L453.41,127.92 L453.65,127.44 L453.88,126.99 L454.12,126.57 L454.35,126.17 L454.59,125.79 L454.82,125.44 L455.06,125.10 L455.29,124.80 L455.53,124.51 L455.76,124.24 L456.00,124.00 L456.24,123.78 L456.47,123.58 L456.71,123.40 L456.94,123.25 L457.18,123.11 L457.41,123.00 L457.65,122.91 L457.88,122.83 L458.12,122.78 L458.35,122.75 L458.59,122.74 L458.83,122.75 L459.06,122.80 L459.30,122.87 L459.54,122.97 L459.78,123.09 L460.01,123.25 L460.25,123.44 L460.49,123.65 L460.73,123.90 L460.96,124.17 L461.20,124.47 L461.44,124.81 L461.68,125.17 L461.91,125.57 L462.15,126.00 L462.39,126.46 L462.63,126.95 L462.86,127.48 L463.10,128.04 L463.34,128.63 L463.58,129.27 L463.81,129.93 L464.05,130.64 L464.29,131.39 L464.53,132.17 L464.76,133.00 L465.00,133.86 L465.24,134.77 L465.48,135.73 L465.71,136.73 L465.95,137.78 L466.19,138.88 L466.42,140.03 L466.66,141.23 L466.90,142.49 L467.14,143.80 L467.37,145.17 L467.61,146.60 L467.85,148.08 L468.09,149.63 L468.32,151.23 L468.56,152.89 L468.80,154.61 L469.04,156.38 L469.27,158.19 L469.51,160.04 L469.75,161.90 L469.99,163.77 L470.22,165.62 L470.46,167.41 L470.70,169.12 L470.94,170.70 L471.17,172.12 L471.41,173.34 L471.65,174.34 L471.89,175.11 L472.12,175.64 L472.36,175.98 L472.60,176.16 L472.84,176.18 L473.07,176.11 L473.31,176.03 L473.54,176.00 L473.78,175.88 L474.01,175.58 L474.25,175.10 L474.49,174.42 L474.72,173.51 L474.96,172.40 L475.19,171.09 L475.43,169.61 L475.66,168.01 L475.90,166.30 L476.13,164.52 L476.37,162.71 L476.60,160.89 L476.84,159.07 L477.07,157.27 L477.31,155.50 L477.54,153.78 L477.78,152.10 L478.02,150.47 L478.25,148.89 L478.49,147.36 L478.72,145.88 L478.96,144.46 L479.19,143.08 L479.43,141.76 L479.66,140.48 L479.90,139.26 L480.13,138.08 L480.37,136.94 L480.60,135.84 L480.84,134.79 L481.07,133.78 L481.31,132.81 L481.55,131.87 L481.78,130.98 L482.02,130.11 L482.25,129.28 L482.49,128.49 L482.72,127.72 L482.96,126.99 L483.19,126.29 L483.43,125.62 L483.66,124.98 L483.90,124.36 L484.13,123.77 L484.37,123.21 L484.61,122.68 L484.84,122.17 L485.08,121.69 L485.31,121.23 L485.55,120.79 L485.78,120.38 L486.02,120.00 L486.25,119.63 L486.49,119.29 L486.72,118.97 L486.96,118.67 L487.19,118.39 L487.43,118.14 L487.66,117.91 L487.90,117.69 L488.14,117.50 L488.37,117.33 L488.61,117.18 L488.84,117.05 L489.08,116.94 L489.31,116.85 L489.55,116.78 L489.78,116.73 L490.02,116.70 L490.25,116.69 L490.49,116.70 L490.72,116.72 L490.96,116.76 L491.19,116.82 L491.43,116.90 L491.66,116.99 L491.90,117.10 L492.13,117.23 L492.36,117.38 L492.60,117.54 L492.83,117.72 L493.07,117.92 L493.30,118.13 L493.54,118.36 L493.77,118.62 L494.01,118.89 L494.24,119.17 L494.48,119.48 L494.71,119.81 L494.94,120.16 L495.18,120.52 L495.41,120.91 L495.65,121.31 L495.88,121.74 L496.12,122.19 L496.35,122.66 L496.59,123.15 L496.82,123.67 L497.06,124.21 L497.29,124.77 L497.52,125.36 L497.76,125.97 L497.99,126.61 L498.23,127.27 L498.46,127.96 L498.70,128.68 L498.93,129.43 L499.17,130.21 L499.40,131.02 L499.64,131.86 L499.87,132.74 L500.10,133.65 L500.34,134.60 L500.57,135.59 L500.81,136.61 L501.04,137.68 L501.28,138.79 L501.51,139.95 L501.75,141.16 L501.98,142.42 L502.22,143.73 L502.45,145.10 L502.68,146.54 L502.92,148.03 L503.15,149.60 L503.39,151.25 L503.62,152.97 L503.86,154.79 L504.09,156.70 L504.33,158.71 L504.56,160.84 L504.80,163.09 L505.03,165.48 L505.26,168.03 L505.50,170.75 L505.73,173.66 L505.97,176.79 L506.20,180.18 L506.44,183.86 L506.67,187.88 L506.91,192.30 L507.14,197.19 L507.38,202.64 L507.61,208.74 L507.84,215.56 L508.08,223.02 L508.31,230.63 L508.55,233.93 L508.78,235.80 L509.02,240.75 L509.25,237.65 L509.49,236.69 L509.72,230.07 L509.96,222.26 L510.20,214.68 L510.43,207.81 L510.67,201.69 L510.90,196.25 L511.14,191.38 L511.37,186.99 L511.61,183.01 L511.84,179.37 L512.08,176.03 L512.31,172.95 L512.55,170.10 L512.79,167.44 L513.02,164.96 L513.26,162.64 L513.49,160.47 L513.73,158.42 L513.96,156.49 L514.20,154.67 L514.43,152.95 L514.67,151.32 L514.91,149.78 L515.14,148.32 L515.38,146.94 L515.61,145.62 L515.85,144.37 L516.08,143.19 L516.32,142.06 L516.55,140.99 L516.79,139.97 L517.03,139.01 L517.26,138.09 L517.50,137.22 L517.73,136.40 L517.97,135.62 L518.20,134.88 L518.44,134.19 L518.67,133.53 L518.91,132.91 L519.14,132.33 L519.38,131.78 L519.62,131.27 L519.85,130.80 L520.09,130.36 L520.32,129.95 L520.56,129.57 L520.79,129.23 L521.03,128.91 L521.26,128.63 L521.50,128.38 L521.74,128.16 L521.97,127.97 L522.21,127.81 L522.44,127.68 L522.68,127.58 L522.91,127.50 L523.15,127.46 L523.38,127.45 L523.62,127.46 L523.86,127.49 L524.09,127.55 L524.33,127.63 L524.57,127.73 L524.80,127.85 L525.04,128.00 L525.28,128.17 L525.51,128.36 L525.75,128.57 L525.99,128.81 L526.22,129.07 L526.46,129.35 L526.70,129.66 L526.93,129.99 L527.17,130.34 L527.41,130.71 L527.64,131.11 L527.88,131.53 L528.12,131.97 L528.35,132.44 L528.59,132.93 L528.83,133.45 L529.06,133.99 L529.30,134.55 L529.54,135.13 L529.77,135.74 L530.01,136.38 L530.25,137.04 L530.48,137.72 L530.72,138.43 L530.96,139.16 L531.19,139.92 L531.30,140.27" stroke="#AA142F" stroke-width="3.5"/>
</g>
<text transform="translate(60.3,19.10) scale(1,1.08)" font-size="13.6" text-anchor="end">0</text>
<text transform="translate(60.3,52.72) scale(1,1.08)" font-size="13.6" text-anchor="end">-10</text>
<text transform="translate(60.3,86.34) scale(1,1.08)" font-size="13.6" text-anchor="end">-20</text>
<text transform="translate(60.3,119.95) scale(1,1.08)" font-size="13.6" text-anchor="end">-30</text>
<text transform="translate(60.3,153.57) scale(1,1.08)" font-size="13.6" text-anchor="end">-40</text>
<text transform="translate(60.3,187.19) scale(1,1.08)" font-size="13.6" text-anchor="end">-50</text>
<text transform="translate(60.3,220.81) scale(1,1.08)" font-size="13.6" text-anchor="end">-60</text>
<text transform="translate(60.3,254.43) scale(1,1.08)" font-size="13.6" text-anchor="end">-70</text>
<text transform="translate(60.3,288.05) scale(1,1.08)" font-size="13.6" text-anchor="end">-80</text>
<text transform="translate(60.3,321.66) scale(1,1.08)" font-size="13.6" text-anchor="end">-90</text>
<text transform="translate(60.3,355.28) scale(1,1.08)" font-size="13.6" text-anchor="end">-100</text>
<text transform="translate(60.3,388.90) scale(1,1.08)" font-size="13.6" text-anchor="end">-110</text>
<text transform="translate(66.60,404.5) scale(1,1.07)" font-size="14" text-anchor="middle">10</text>
<text transform="translate(125.24,404.5) scale(1,1.07)" font-size="14" text-anchor="middle">20</text>
<text transform="translate(183.88,404.5) scale(1,1.07)" font-size="14" text-anchor="middle">30</text>
<text transform="translate(242.51,404.5) scale(1,1.07)" font-size="14" text-anchor="middle">40</text>
<text transform="translate(301.15,404.5) scale(1,1.07)" font-size="14" text-anchor="middle">50</text>
<text transform="translate(359.79,404.5) scale(1,1.07)" font-size="14" text-anchor="middle">60</text>
<text transform="translate(418.42,404.5) scale(1,1.07)" font-size="14" text-anchor="middle">70</text>
<text transform="translate(477.06,404.5) scale(1,1.07)" font-size="14" text-anchor="middle">80</text>
<text transform="translate(535.70,404.5) scale(1,1.07)" font-size="14" text-anchor="middle">90</text>
<text x="313.2" y="427.0" font-size="16" text-anchor="middle">Signal Direction (Degree)</text>
<text transform="translate(20.2,196) rotate(-90)" font-size="15.5" text-anchor="middle">Output Power (dB)</text>
<rect x="300.8" y="239.3" width="116.4" height="128.8" fill="#fff" stroke="#dcdcdc" stroke-width="1"/>
<path d="M309.2,250.20H342.0" stroke="#0072BD" stroke-width="3.0" stroke-dasharray="8.7 8.5" fill="none"/>
<text x="350.8" y="257.30" font-size="12.6" letter-spacing="0.3" style="fill:#000;stroke:#000;stroke-width:0.22px">Linear</text>
<path d="M309.2,268.20H342.0" stroke="#D95319" stroke-width="3.0" stroke-dasharray="8.7 8.5" fill="none"/>
<text x="350.8" y="275.30" font-size="12.6" letter-spacing="0.3" style="fill:#000;stroke:#000;stroke-width:0.22px">UCCAA</text>
<path d="M309.2,286.20H342.0" stroke="#EDB120" stroke-width="2.9" stroke-dasharray="2.4 1.85" fill="none"/>
<text x="350.8" y="293.30" font-size="12.6" letter-spacing="0.3" style="fill:#000;stroke:#000;stroke-width:0.22px">CCAA</text>
<path d="M309.2,304.20H342.0" stroke="#7E2F8E" stroke-width="2.9" stroke-dasharray="2.4 1.85" fill="none"/>
<text x="350.8" y="311.30" font-size="12.6" letter-spacing="0.3" style="fill:#000;stroke:#000;stroke-width:0.22px">UCECCAA</text>
<path d="M309.2,322.20H342.0" stroke="#77AC30" stroke-width="3.0" stroke-dasharray="8.6 1.8 3.8 2.4" fill="none"/>
<text x="350.8" y="329.30" font-size="12.6" letter-spacing="0.3" style="fill:#000;stroke:#000;stroke-width:0.22px">CECCAA</text>
<path d="M309.2,340.20H342.0" stroke="#4DBEEE" stroke-width="2.9" stroke-dasharray="2.4 1.85" fill="none"/>
<text x="350.8" y="347.30" font-size="12.6" letter-spacing="0.3" style="fill:#000;stroke:#000;stroke-width:0.22px">ULCCAA</text>
<path d="M309.2,358.20H341.5" stroke="#AA142F" stroke-width="3.2" stroke-linecap="round" fill="none"/>
<text x="350.8" y="365.30" font-size="12.6" letter-spacing="0.3" style="fill:#000;stroke:#000;stroke-width:0.22px">LCCAA</text>
</svg></body></html>
